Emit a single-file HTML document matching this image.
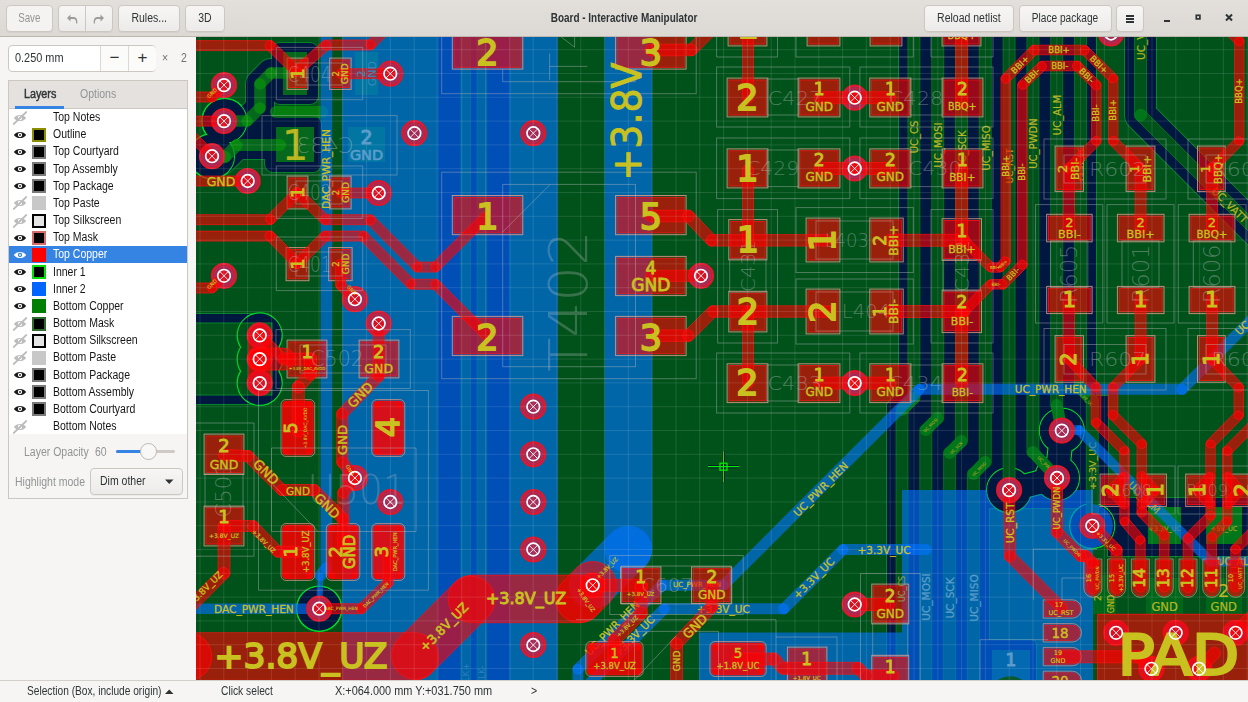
<!DOCTYPE html>
<html><head><meta charset="utf-8"><title>Board - Interactive Manipulator</title>
<style>
html,body{margin:0;padding:0;}
body{width:1248px;height:702px;overflow:hidden;position:relative;background:#f6f5f4;font-family:"Liberation Sans",sans-serif;font-size:12.5px;color:#2e3436;}
.t{display:inline-block;transform:scaleX(.84);transform-origin:0 50%;white-space:nowrap;}
.tc{display:inline-block;transform:scaleX(.84);transform-origin:50% 50%;white-space:nowrap;}
#hb{position:absolute;left:0;top:0;width:1248px;height:36px;background:linear-gradient(#e3e0dc,#dcd8d4);border-bottom:1px solid #bdb6af;}
.btn{position:absolute;top:5px;height:25px;box-sizing:content-box;border:1px solid #cdc7c2;border-radius:4px;background:linear-gradient(#f7f6f5,#edebe9);text-align:center;line-height:25px;color:#2e3436;box-shadow:0 1px 0 rgba(0,0,0,.04);}
.btn.dis{color:#929595;background:#f4f3f1;}
#title{position:absolute;left:0;width:1248px;top:0;height:36px;line-height:36px;text-align:center;font-weight:bold;color:#2e3436;}
#side{position:absolute;left:0;top:37px;width:196px;height:643px;background:#f6f5f4;}
#spin{position:absolute;left:8px;top:8px;width:146px;height:25px;border:1px solid #cdc7c2;border-radius:4px;background:#fff;}
#spin .v{position:absolute;left:6px;top:0;line-height:25px;}
#spin .b{position:absolute;top:0;width:27px;height:25px;border-left:1px solid #dcd8d4;text-align:center;line-height:24px;font-size:17px;color:#2e3436;background:#fbfbfa;}
#lbox{position:absolute;left:8px;top:43px;width:178px;height:417px;border:1px solid #cdc7c2;background:#f6f5f4;}
#tabs{position:absolute;left:0;top:0;width:178px;height:27px;background:#e4e1de;border-bottom:1px solid #cdc7c2;}
#list{position:absolute;left:0;top:28px;width:178px;height:325px;background:#fff;}
.row{position:absolute;left:0;width:178px;height:17px;line-height:17px;color:#151515;}
.row.sel{background:#3584e4;color:#fff;}
.row .n{position:absolute;left:44px;top:0;}
.row .sw{position:absolute;left:23px;top:1.5px;width:10px;height:10px;border:2px solid #000;}
.row svg{position:absolute;left:2.5px;top:0.5px;}
#status{position:absolute;left:0;top:680px;width:1248px;height:21px;background:#f6f5f4;line-height:21px;border-top:1px solid #d3cfca;}
#status span{position:absolute;top:0;}

#cv{position:absolute;left:196px;top:37px;}
#cv text{font-family:"DejaVu Sans","Liberation Sans",sans-serif;}
</style></head>
<body>
<svg id="cv" width="1052" height="643" viewBox="196 37 1052 643">
<rect x="196" y="37" width="1052" height="643" fill="#00521b"/>
<g id="bottom"><polyline points="247,121 260,108 260,84 271,73 296,73" fill="none" stroke="#08822a" stroke-width="30" stroke-linecap="round" stroke-linejoin="round"/><rect x="271" y="42" width="48" height="63" fill="#08822a" rx="9"/><polyline points="222,160 237,145 276,145" fill="none" stroke="#08822a" stroke-width="30" stroke-linecap="round" stroke-linejoin="round"/><rect x="264" y="115" width="58" height="58" fill="#08822a" rx="9"/><rect x="245" y="109" width="28" height="42" fill="#08822a" rx="1"/><circle cx="224.5" cy="121" r="23.3" fill="#00d428"/><circle cx="212" cy="156.2" r="23.3" fill="#00d428"/><rect x="149" y="313" width="120" height="92" fill="#08822a" rx="1"/><circle cx="319.2" cy="608.7" r="23.3" fill="#00d428"/><rect x="436.4" y="19" width="74.6" height="682" fill="#08822a" rx="1"/><polygon points="899,20 1096,20 1096,396 1108,396 1108,498 1260,498 1260,556 1108,556 1108,508 989,508 989,700 887,700 887,404 899,392" fill="#08822a" stroke="#08822a" stroke-width="2"/><circle cx="1009.1" cy="490.1" r="23.3" fill="#00d428"/><circle cx="1057" cy="478" r="23.3" fill="#00d428"/><circle cx="1061.8" cy="430.6" r="23.3" fill="#00d428"/><circle cx="1092.3" cy="525.8" r="23.3" fill="#00d428"/><circle cx="1010" cy="698.5" r="23.3" fill="#00d428"/><rect x="977" y="639" width="60" height="62" fill="#08822a" rx="6"/><polyline points="1140.5,10 1140.5,115 1280,254.5" fill="none" stroke="#08822a" stroke-width="33" stroke-linecap="round" stroke-linejoin="round"/><polyline points="247,121 260,108 260,84 271,73 296,73" fill="none" stroke="#00173f" stroke-width="28" stroke-linecap="round" stroke-linejoin="round"/><rect x="272" y="43" width="46" height="61" fill="#00173f" rx="8"/><polyline points="222,160 237,145 276,145" fill="none" stroke="#00173f" stroke-width="28" stroke-linecap="round" stroke-linejoin="round"/><rect x="265" y="116" width="56" height="56" fill="#00173f" rx="8"/><rect x="246" y="110" width="26" height="40" fill="#00173f" rx="0"/><circle cx="224.5" cy="121" r="21.8" fill="#00173f"/><circle cx="212" cy="156.2" r="21.8" fill="#00173f"/><rect x="150" y="314" width="118" height="90" fill="#00173f" rx="0"/><circle cx="319.2" cy="608.7" r="21.8" fill="#00173f"/><rect x="437.4" y="20" width="72.6" height="680" fill="#00173f" rx="0"/><polygon points="899,20 1096,20 1096,396 1108,396 1108,498 1260,498 1260,556 1108,556 1108,508 989,508 989,700 887,700 887,404 899,392" fill="#00173f"/><circle cx="1009.1" cy="490.1" r="21.8" fill="#00173f"/><circle cx="1057" cy="478" r="21.8" fill="#00173f"/><circle cx="1061.8" cy="430.6" r="21.8" fill="#00173f"/><circle cx="1092.3" cy="525.8" r="21.8" fill="#00173f"/><circle cx="1010" cy="698.5" r="21.8" fill="#00173f"/><rect x="978" y="640" width="58" height="60" fill="#00173f" rx="5"/><polyline points="1140.5,10 1140.5,115 1280,254.5" fill="none" stroke="#00173f" stroke-width="31" stroke-linecap="round" stroke-linejoin="round"/><circle cx="224.5" cy="121" r="22.5" fill="none" stroke="#00d428" stroke-width="1.15"/><circle cx="212" cy="156.2" r="22.5" fill="none" stroke="#00d428" stroke-width="1.15"/><circle cx="319.2" cy="608.7" r="22.5" fill="none" stroke="#00d428" stroke-width="1.15"/><circle cx="1009.1" cy="490.1" r="22.5" fill="none" stroke="#00d428" stroke-width="1.15"/><circle cx="1057" cy="478" r="22.5" fill="none" stroke="#00d428" stroke-width="1.15"/><circle cx="1061.8" cy="430.6" r="22.5" fill="none" stroke="#00d428" stroke-width="1.15"/><circle cx="1092.3" cy="525.8" r="22.5" fill="none" stroke="#00d428" stroke-width="1.15"/><circle cx="1010" cy="698.5" r="22.5" fill="none" stroke="#00d428" stroke-width="1.15"/><polyline points="1009.1,490.1 1057,478" fill="none" stroke="#00d428" stroke-width="25.2" stroke-linecap="round" stroke-linejoin="round"/><polyline points="1057,478 1061.8,430.6" fill="none" stroke="#00d428" stroke-width="25.2" stroke-linecap="round" stroke-linejoin="round"/><circle cx="224.5" cy="121" r="21.8" fill="#00173f"/><circle cx="212" cy="156.2" r="21.8" fill="#00173f"/><circle cx="319.2" cy="608.7" r="21.8" fill="#00173f"/><circle cx="1009.1" cy="490.1" r="21.8" fill="#00173f"/><circle cx="1057" cy="478" r="21.8" fill="#00173f"/><circle cx="1061.8" cy="430.6" r="21.8" fill="#00173f"/><circle cx="1092.3" cy="525.8" r="21.8" fill="#00173f"/><circle cx="1010" cy="698.5" r="21.8" fill="#00173f"/><polyline points="1009.1,490.1 1057,478" fill="none" stroke="#00173f" stroke-width="23" stroke-linecap="round" stroke-linejoin="round"/><polyline points="1057,478 1061.8,430.6" fill="none" stroke="#00173f" stroke-width="23" stroke-linecap="round" stroke-linejoin="round"/><path d="M240.57 347.25A22.5 22.5 0 1 1 278.83 347.25A22.5 22.5 0 0 1 278.83 371.1A22.5 22.5 0 1 1 240.57 371.1A22.5 22.5 0 0 1 240.57 347.25Z" fill="#00173f"/><rect x="150" y="323" width="122" height="72" fill="#00521b" stroke="#08822a" stroke-width="1"/><path d="M240.57 347.25A22.5 22.5 0 1 1 278.83 347.25A22.5 22.5 0 0 1 278.83 371.1A22.5 22.5 0 1 1 240.57 371.1A22.5 22.5 0 0 1 240.57 347.25Z" fill="none" stroke="#00d428" stroke-width="1.15"/><path d="M236 126.8L247 126.8A5.8 5.8 0 0 0 247 115.2L236 115.2A5.8 5.8 0 0 0 236 126.8Z" fill="rgba(10,150,10,0.645)"/><path d="M251.1 125.1L264.1 112.1A5.8 5.8 0 0 0 255.9 103.9L242.9 116.9A5.8 5.8 0 0 0 251.1 125.1Z" fill="rgba(10,150,10,0.645)"/><path d="M265.8 108L265.8 84A5.8 5.8 0 0 0 254.2 84L254.2 108A5.8 5.8 0 0 0 265.8 108Z" fill="rgba(10,150,10,0.645)"/><path d="M264.1 88.1L275.1 77.1A5.8 5.8 0 0 0 266.9 68.9L255.9 79.9A5.8 5.8 0 0 0 264.1 88.1Z" fill="rgba(10,150,10,0.645)"/><path d="M271 78.8L296 78.8A5.8 5.8 0 0 0 296 67.2L271 67.2A5.8 5.8 0 0 0 271 78.8Z" fill="rgba(10,150,10,0.645)"/><path d="M276 118L322 118A6 6 0 0 0 322 106L276 106A6 6 0 0 0 276 118Z" fill="rgba(10,150,10,0.645)"/><path d="M216.7 164L225.7 163A6 6 0 0 0 224.3 151L215.3 152A6 6 0 0 0 216.7 164Z" fill="rgba(10,150,10,0.645)"/><path d="M229.2 161.2L241.2 149.2A6 6 0 0 0 232.8 140.8L220.8 152.8A6 6 0 0 0 229.2 161.2Z" fill="rgba(10,150,10,0.645)"/><path d="M237 151L280 151A6 6 0 0 0 280 139L237 139A6 6 0 0 0 237 151Z" fill="rgba(10,150,10,0.645)"/><rect x="283" y="52" width="24" height="43" fill="rgba(10,150,10,0.645)"/><rect x="276" y="127" width="38" height="35" fill="rgba(10,150,10,0.645)"/><rect x="355" y="52" width="23" height="43" fill="rgba(10,150,10,0.645)"/><rect x="348" y="127" width="37" height="35" fill="rgba(10,150,10,0.645)"/><path d="M460.9 10L460.9 710A4.8 4.8 0 0 0 470.4 710L470.4 10A4.8 4.8 0 0 0 460.9 10Z" fill="#00521b"/><path d="M460.9 10L460.9 710A4.8 4.8 0 0 0 470.4 710L470.4 10A4.8 4.8 0 0 0 460.9 10Z" fill="none" stroke="rgba(0,150,25,0.75)" stroke-width="0.8"/><path d="M477.1 10L477.1 710A4.8 4.8 0 0 0 486.6 710L486.6 10A4.8 4.8 0 0 0 477.1 10Z" fill="#00521b"/><path d="M477.1 10L477.1 710A4.8 4.8 0 0 0 486.6 710L486.6 10A4.8 4.8 0 0 0 477.1 10Z" fill="none" stroke="rgba(0,150,25,0.75)" stroke-width="0.8"/><path d="M907.9 20L907.9 398A6 6 0 0 0 919.9 398L919.9 20A6 6 0 0 0 907.9 20Z" fill="#00521b"/><path d="M907.9 20L907.9 398A6 6 0 0 0 919.9 398L919.9 20A6 6 0 0 0 907.9 20Z" fill="none" stroke="rgba(0,150,25,0.75)" stroke-width="0.8"/><path d="M896 410L896 700A6 6 0 0 0 908 700L908 410A6 6 0 0 0 896 410Z" fill="#00521b"/><path d="M896 410L896 700A6 6 0 0 0 908 700L908 410A6 6 0 0 0 896 410Z" fill="none" stroke="rgba(0,150,25,0.75)" stroke-width="0.8"/><polyline points="913.9,398 902,410" fill="none" stroke="#00761a" stroke-width="12" stroke-linecap="round" stroke-linejoin="round"/><path d="M931.7 20L931.7 418A6 6 0 0 0 943.7 418L943.7 20A6 6 0 0 0 931.7 20Z" fill="#00521b"/><path d="M931.7 20L931.7 418A6 6 0 0 0 943.7 418L943.7 20A6 6 0 0 0 931.7 20Z" fill="none" stroke="rgba(0,150,25,0.75)" stroke-width="0.8"/><path d="M919.8 430L919.8 700A6 6 0 0 0 931.8 700L931.8 430A6 6 0 0 0 919.8 430Z" fill="#00521b"/><path d="M919.8 430L919.8 700A6 6 0 0 0 931.8 700L931.8 430A6 6 0 0 0 919.8 430Z" fill="none" stroke="rgba(0,150,25,0.75)" stroke-width="0.8"/><polyline points="937.7,418 925.8,430" fill="none" stroke="#00761a" stroke-width="12" stroke-linecap="round" stroke-linejoin="round"/><path d="M955.5 20L955.5 441A6 6 0 0 0 967.5 441L967.5 20A6 6 0 0 0 955.5 20Z" fill="#00521b"/><path d="M955.5 20L955.5 441A6 6 0 0 0 967.5 441L967.5 20A6 6 0 0 0 955.5 20Z" fill="none" stroke="rgba(0,150,25,0.75)" stroke-width="0.8"/><path d="M943.6 453L943.6 700A6 6 0 0 0 955.6 700L955.6 453A6 6 0 0 0 943.6 453Z" fill="#00521b"/><path d="M943.6 453L943.6 700A6 6 0 0 0 955.6 700L955.6 453A6 6 0 0 0 943.6 453Z" fill="none" stroke="rgba(0,150,25,0.75)" stroke-width="0.8"/><polyline points="961.5,441 949.6,453" fill="none" stroke="#00761a" stroke-width="12" stroke-linecap="round" stroke-linejoin="round"/><path d="M979.3 20L979.3 462A6 6 0 0 0 991.3 462L991.3 20A6 6 0 0 0 979.3 20Z" fill="#00521b"/><path d="M979.3 20L979.3 462A6 6 0 0 0 991.3 462L991.3 20A6 6 0 0 0 979.3 20Z" fill="none" stroke="rgba(0,150,25,0.75)" stroke-width="0.8"/><path d="M967.4 474L967.4 700A6 6 0 0 0 979.4 700L979.4 474A6 6 0 0 0 967.4 474Z" fill="#00521b"/><path d="M967.4 474L967.4 700A6 6 0 0 0 979.4 700L979.4 474A6 6 0 0 0 967.4 474Z" fill="none" stroke="rgba(0,150,25,0.75)" stroke-width="0.8"/><polyline points="985.3,462 973.4,474" fill="none" stroke="#00761a" stroke-width="12" stroke-linecap="round" stroke-linejoin="round"/><path d="M1003.1 20L1003.1 490A6 6 0 0 0 1015.1 490L1015.1 20A6 6 0 0 0 1003.1 20Z" fill="#00521b"/><path d="M1003.1 20L1003.1 490A6 6 0 0 0 1015.1 490L1015.1 20A6 6 0 0 0 1003.1 20Z" fill="none" stroke="rgba(0,150,25,0.75)" stroke-width="0.8"/><path d="M1026.9 20L1026.9 452A6 6 0 0 0 1038.9 452L1038.9 20A6 6 0 0 0 1026.9 20Z" fill="#00521b"/><path d="M1026.9 20L1026.9 452A6 6 0 0 0 1038.9 452L1038.9 20A6 6 0 0 0 1026.9 20Z" fill="none" stroke="rgba(0,150,25,0.75)" stroke-width="0.8"/><polyline points="1032.9,452 1057,478" fill="none" stroke="#00761a" stroke-width="12" stroke-linecap="round" stroke-linejoin="round"/><path d="M1050.7 20L1050.7 405A6 6 0 0 0 1062.7 405L1062.7 20A6 6 0 0 0 1050.7 20Z" fill="#00521b"/><path d="M1050.7 20L1050.7 405A6 6 0 0 0 1062.7 405L1062.7 20A6 6 0 0 0 1050.7 20Z" fill="none" stroke="rgba(0,150,25,0.75)" stroke-width="0.8"/><polyline points="1056.7,405 1061.8,430.6" fill="none" stroke="#00761a" stroke-width="12" stroke-linecap="round" stroke-linejoin="round"/><path d="M1074.5 20L1074.5 388A6 6 0 0 0 1086.5 388L1086.5 20A6 6 0 0 0 1074.5 20Z" fill="#00521b"/><path d="M1074.5 20L1074.5 388A6 6 0 0 0 1086.5 388L1086.5 20A6 6 0 0 0 1074.5 20Z" fill="none" stroke="rgba(0,150,25,0.75)" stroke-width="0.8"/><polyline points="1080.5,388 1092.3,401" fill="none" stroke="#00761a" stroke-width="12" stroke-linecap="round" stroke-linejoin="round"/><path d="M1086.3 401L1086.3 525.8A6 6 0 0 0 1098.3 525.8L1098.3 401A6 6 0 0 0 1086.3 401Z" fill="#00521b"/><path d="M1086.3 401L1086.3 525.8A6 6 0 0 0 1098.3 525.8L1098.3 401A6 6 0 0 0 1086.3 401Z" fill="none" stroke="rgba(0,150,25,0.75)" stroke-width="0.8"/><rect x="1148" y="507" width="33" height="37" fill="#00761a"/><rect x="1206" y="507" width="36" height="37" fill="#00761a"/><rect x="1146" y="578" width="37" height="36" fill="#00671a"/><rect x="1206" y="578" width="36" height="36" fill="#00671a"/><rect x="1093" y="575" width="23" height="39" fill="#00671a"/><rect x="992" y="650" width="38" height="30" fill="#0a5a30"/><path d="M1134.5 10L1134.5 115A6 6 0 0 0 1146.5 115L1146.5 10A6 6 0 0 0 1134.5 10Z" fill="#00521b"/><path d="M1136.3 119.2L1275.8 258.7A6 6 0 0 0 1284.2 250.3L1144.7 110.8A6 6 0 0 0 1136.3 119.2Z" fill="#00521b"/><path d="M1134.5 10L1134.5 115A6 6 0 0 0 1146.5 115L1146.5 10A6 6 0 0 0 1134.5 10ZM1136.3 119.2L1275.8 258.7A6 6 0 0 0 1284.2 250.3L1144.7 110.8A6 6 0 0 0 1136.3 119.2Z" fill="none" stroke="rgba(0,150,25,0.75)" stroke-width="0.8"/><circle cx="1140.5" cy="115" r="6" fill="#00761a"/><text x="295" y="145" font-size="42" text-anchor="middle" dominant-baseline="central" fill="#b9b520" stroke="#b9b520" stroke-width="0.2">1</text><text x="1164.6" y="607.3" font-size="11.5" text-anchor="middle" dominant-baseline="central" fill="#b9b520" stroke="#b9b520" stroke-width="0.2">GND</text><text x="1223.7" y="607.3" font-size="11.5" text-anchor="middle" dominant-baseline="central" fill="#b9b520" stroke="#b9b520" stroke-width="0.2">GND</text><text x="1223.7" y="590.5" font-size="18" text-anchor="middle" dominant-baseline="central" fill="#b9b520" stroke="#b9b520" stroke-width="0.2">2</text><text x="1098" y="598" font-size="9" text-anchor="middle" dominant-baseline="central" fill="#b9b520" stroke="#b9b520" stroke-width="0.2" transform="rotate(-90 1098 598)">2</text><text x="1111" y="604" font-size="8" text-anchor="middle" dominant-baseline="central" fill="#b9b520" stroke="#b9b520" stroke-width="0.2" transform="rotate(-90 1111 604)">GND</text><text x="914" y="137" font-size="10" text-anchor="middle" dominant-baseline="central" fill="#b9b520" stroke="#b9b520" stroke-width="0.2" transform="rotate(-90 914 137)">UC_CS</text><text x="938" y="145" font-size="10" text-anchor="middle" dominant-baseline="central" fill="#b9b520" stroke="#b9b520" stroke-width="0.2" transform="rotate(-90 938 145)">UC_MOSI</text><text x="962" y="150" font-size="10" text-anchor="middle" dominant-baseline="central" fill="#b9b520" stroke="#b9b520" stroke-width="0.2" transform="rotate(-90 962 150)">UC_SCK</text><text x="986" y="148" font-size="10" text-anchor="middle" dominant-baseline="central" fill="#b9b520" stroke="#b9b520" stroke-width="0.2" transform="rotate(-90 986 148)">UC_MISO</text><text x="1033" y="143.5" font-size="10" text-anchor="middle" dominant-baseline="central" fill="#b9b520" stroke="#b9b520" stroke-width="0.2" transform="rotate(-90 1033 143.5)">UC_PWDN</text><text x="1057" y="115" font-size="10" text-anchor="middle" dominant-baseline="central" fill="#b9b520" stroke="#b9b520" stroke-width="0.2" transform="rotate(-90 1057 115)">UC_ALM</text><text x="1009.5" y="166" font-size="9" text-anchor="middle" dominant-baseline="central" fill="#b8a020" stroke="#b8a020" stroke-width="0.2" transform="rotate(-90 1009.5 166)">UC_RST</text><text x="1080.5" y="165" font-size="7" text-anchor="middle" dominant-baseline="central" fill="#b8a020" stroke="#b8a020" stroke-width="0.2" transform="rotate(-90 1080.5 165)">+3.3V_UC</text><text x="1140.5" y="60" font-size="10.5" text-anchor="start" dominant-baseline="central" fill="#b9b520" stroke="#b9b520" stroke-width="0.2" transform="rotate(-90 1140.5 60)">UC_VATT</text><text x="1230" y="205" font-size="10.5" text-anchor="middle" dominant-baseline="central" fill="#b9b520" stroke="#b9b520" stroke-width="0.2" transform="rotate(45 1230 205)">UC_VATT</text><text x="1092.3" y="466" font-size="9.5" text-anchor="middle" dominant-baseline="central" fill="#b9b520" stroke="#b9b520" stroke-width="0.2" transform="rotate(-90 1092.3 466)">+3.3V_UC</text><text x="930.4" y="425.2" font-size="4" text-anchor="middle" dominant-baseline="central" fill="#8a9a20" stroke="#8a9a20" stroke-width="0.2" transform="rotate(-45 930.4 425.2)">UC_MOSI</text><text x="956" y="448" font-size="4" text-anchor="middle" dominant-baseline="central" fill="#8a9a20" stroke="#8a9a20" stroke-width="0.2" transform="rotate(-45 956 448)">UC_SCK</text><text x="979" y="469" font-size="4" text-anchor="middle" dominant-baseline="central" fill="#8a9a20" stroke="#8a9a20" stroke-width="0.2" transform="rotate(-45 979 469)">UC_MISO</text><text x="1085" y="398" font-size="4" text-anchor="middle" dominant-baseline="central" fill="#8a9a20" stroke="#8a9a20" stroke-width="0.2" transform="rotate(45 1085 398)">+3.3V_UC</text><text x="1046" y="465" font-size="4.5" text-anchor="middle" dominant-baseline="central" fill="#8a9a20" stroke="#8a9a20" stroke-width="0.2" transform="rotate(45 1046 465)">UC_PWDN</text><text x="1164.6" y="529" font-size="6.5" text-anchor="middle" dominant-baseline="central" fill="#a8a020" stroke="#a8a020" stroke-width="0.2">+3.3V_UC</text><text x="1224" y="529" font-size="6.5" text-anchor="middle" dominant-baseline="central" fill="#a8a020" stroke="#a8a020" stroke-width="0.2">+5V_UC</text></g>
<g id="inner2"><path d="M320.6 20L320.6 568A5.8 5.8 0 0 0 332.2 568L332.2 20A5.8 5.8 0 0 0 320.6 20Z" fill="rgba(0,114,255,0.62)"/><path d="M321.8 564.4L315.9 571.9A5.8 5.8 0 0 0 325.1 579.1L331 571.6A5.8 5.8 0 0 0 321.8 564.4Z" fill="rgba(0,114,255,0.62)"/><path d="M317.5 575.4L316.2 608.6A3 3 0 0 0 322.2 608.8L323.5 575.6A3 3 0 0 0 317.5 575.4Z" fill="rgba(0,114,255,0.62)"/><path d="M180 613.9L319.2 613.9A5.2 5.2 0 0 0 319.2 603.5L180 603.5A5.2 5.2 0 0 0 180 613.9Z" fill="rgba(0,114,255,0.62)"/><rect x="342.2" y="37" width="215.6" height="643" fill="rgba(0,114,255,0.62)"/><path d="M604.5 10L604.5 549.5A23.8 23.8 0 0 0 652.1 549.5L652.1 10A23.8 23.8 0 0 0 604.5 10Z" fill="rgba(0,114,255,0.62)"/><path d="M611.4 532.7L575.8 568.5A23.8 23.8 0 0 0 609.6 602.1L645.2 566.3A23.8 23.8 0 0 0 611.4 532.7Z" fill="rgba(0,114,255,0.62)"/><path d="M1266.1 297.4L1178.1 385.4A5.5 5.5 0 0 0 1185.9 393.2L1273.9 305.2A5.5 5.5 0 0 0 1266.1 297.4Z" fill="rgba(0,114,255,0.62)"/><path d="M1182 383.8L919.4 383.8A5.5 5.5 0 0 0 919.4 394.8L1182 394.8A5.5 5.5 0 0 0 1182 383.8Z" fill="rgba(0,114,255,0.62)"/><path d="M915.5 385.4L719.6 581.3A5.5 5.5 0 0 0 727.4 589.1L923.3 393.2A5.5 5.5 0 0 0 915.5 385.4Z" fill="rgba(0,114,255,0.62)"/><path d="M723.5 579.7L662 579.7A5.5 5.5 0 0 0 662 590.7L723.5 590.7A5.5 5.5 0 0 0 723.5 579.7Z" fill="rgba(0,114,255,0.62)"/><path d="M658.1 581.3L574.1 665.3A5.5 5.5 0 0 0 581.9 673.1L665.9 589.1A5.5 5.5 0 0 0 658.1 581.3Z" fill="rgba(0,114,255,0.62)"/><path d="M572.5 669.2L572.5 700A5.5 5.5 0 0 0 583.5 700L583.5 669.2A5.5 5.5 0 0 0 572.5 669.2Z" fill="rgba(0,114,255,0.62)"/><path d="M926.2 544.1L843 544.1A5.5 5.5 0 0 0 843 555.1L926.2 555.1A5.5 5.5 0 0 0 926.2 544.1Z" fill="rgba(0,114,255,0.62)"/><path d="M839.1 545.7L779.9 604.9A5.5 5.5 0 0 0 787.7 612.7L846.9 553.5A5.5 5.5 0 0 0 839.1 545.7Z" fill="rgba(0,114,255,0.62)"/><path d="M783.8 603.3L664.2 603.3A5.5 5.5 0 0 0 664.2 614.3L783.8 614.3A5.5 5.5 0 0 0 783.8 603.3Z" fill="rgba(0,114,255,0.62)"/><path d="M660.3 604.9L581.1 684.1A5.5 5.5 0 0 0 588.9 691.9L668.1 612.7A5.5 5.5 0 0 0 660.3 604.9Z" fill="rgba(0,114,255,0.62)"/><mask id="bm" maskUnits="userSpaceOnUse" x="690" y="480" width="420" height="220"><rect x="690" y="480" width="420" height="220" fill="#fff"/><circle cx="1009.1" cy="490.1" r="22.2" fill="#000"/><circle cx="1057" cy="478" r="22.2" fill="#000"/><circle cx="1010" cy="698.5" r="22.2" fill="#000"/><path d="M1009.1 490.1L1057 478" stroke="#000" stroke-width="23" stroke-linecap="round"/></mask><polygon points="699,632.5 902,632.5 902,490 1093,490 1093,690 699,690" fill="rgba(0,114,255,0.62)" mask="url(#bm)"/><path d="M1093 503.9A22 22 0 0 1 1093 547.7Z" fill="rgba(0,114,255,0.62)"/><path d="M1062 435.6L1079.2 435A5 5 0 0 0 1078.8 425L1061.6 425.6A5 5 0 0 0 1062 435.6Z" fill="rgba(0,114,255,0.62)"/><path d="M1075.5 433.5L1206.9 564.9A5 5 0 0 0 1213.9 557.9L1082.5 426.5A5 5 0 0 0 1075.5 433.5Z" fill="rgba(0,114,255,0.62)"/><path d="M1210.4 566.4L1270 566.4A5 5 0 0 0 1270 556.4L1210.4 556.4A5 5 0 0 0 1210.4 566.4Z" fill="rgba(0,114,255,0.62)"/><text x="326.4" y="169" font-size="10.6" text-anchor="middle" dominant-baseline="central" fill="#c9c11f" stroke="#c9c11f" stroke-width="0.3" transform="rotate(-90 326.4 169)">DAC_PWR_HEN</text><text x="253.9" y="608.7" font-size="10.6" text-anchor="middle" dominant-baseline="central" fill="#c9c11f" stroke="#c9c11f" stroke-width="0.3">DAC_PWR_HEN</text><text x="1050.7" y="389.3" font-size="10.5" text-anchor="middle" dominant-baseline="central" fill="#c9c11f" stroke="#c9c11f" stroke-width="0.3">UC_PWR_HEN</text><text x="820.6" y="489" font-size="10.5" text-anchor="middle" dominant-baseline="central" fill="#c9c11f" stroke="#c9c11f" stroke-width="0.3" transform="rotate(-45 820.6 489)">UC_PWR_HEN</text><text x="1237" y="333" font-size="10.5" text-anchor="start" dominant-baseline="central" fill="#c9c11f" stroke="#c9c11f" stroke-width="0.3" transform="rotate(-45 1237 333)">UC_PWR_HEN</text><text x="884" y="549.6" font-size="10.5" text-anchor="middle" dominant-baseline="central" fill="#c9c11f" stroke="#c9c11f" stroke-width="0.3">+3.3V_UC</text><text x="813.6" y="578" font-size="10.5" text-anchor="middle" dominant-baseline="central" fill="#c9c11f" stroke="#c9c11f" stroke-width="0.3" transform="rotate(-45 813.6 578)">+3.3V_UC</text><text x="723.3" y="608.8" font-size="10.5" text-anchor="middle" dominant-baseline="central" fill="#c9c11f" stroke="#c9c11f" stroke-width="0.3">+3.3V_UC</text><text x="634" y="636" font-size="10.5" text-anchor="middle" dominant-baseline="central" fill="#c9c11f" stroke="#c9c11f" stroke-width="0.3" transform="rotate(-45 634 636)">+3.3V_UC</text><text x="612" y="628" font-size="10.5" text-anchor="middle" dominant-baseline="central" fill="#c9c11f" stroke="#c9c11f" stroke-width="0.3" transform="rotate(-45 612 628)">UC_PWR_HEN</text><text x="697" y="585.2" font-size="7" text-anchor="middle" dominant-baseline="central" fill="#c9c11f" stroke="#c9c11f" stroke-width="0.2">UC_PWR_HEN</text><text x="1144" y="497.6" font-size="10" text-anchor="middle" dominant-baseline="central" fill="#9aa83a" stroke="#9aa83a" stroke-width="0.3" transform="rotate(45 1144 497.6)">UC_ALM</text><text x="1217" y="561.4" font-size="10" text-anchor="start" dominant-baseline="central" fill="#b0b030" stroke="#b0b030" stroke-width="0.3">UC_ALM</text></g>
<g id="top"><circle cx="390.3" cy="73.7" r="12" fill="#a32a55" stroke="#e0182c" stroke-width="2.2"/><circle cx="390.3" cy="73.7" r="9.6" fill="none" stroke="rgba(235,30,50,0.55)" stroke-width="1"/><circle cx="414.4" cy="133.2" r="12" fill="#a32a55" stroke="#e0182c" stroke-width="2.2"/><circle cx="414.4" cy="133.2" r="9.6" fill="none" stroke="rgba(235,30,50,0.55)" stroke-width="1"/><circle cx="224" cy="85.1" r="12" fill="#a32a55" stroke="#e0182c" stroke-width="2.2"/><circle cx="224" cy="85.1" r="9.6" fill="none" stroke="rgba(235,30,50,0.55)" stroke-width="1"/><circle cx="224" cy="121.1" r="12" fill="#a32a55" stroke="#e0182c" stroke-width="2.2"/><circle cx="224" cy="121.1" r="9.6" fill="none" stroke="rgba(235,30,50,0.55)" stroke-width="1"/><circle cx="212" cy="156.2" r="12" fill="#a32a55" stroke="#e0182c" stroke-width="2.2"/><circle cx="212" cy="156.2" r="9.6" fill="none" stroke="rgba(235,30,50,0.55)" stroke-width="1"/><circle cx="247.7" cy="181" r="12" fill="#a32a55" stroke="#e0182c" stroke-width="2.2"/><circle cx="247.7" cy="181" r="9.6" fill="none" stroke="rgba(235,30,50,0.55)" stroke-width="1"/><circle cx="378.7" cy="193" r="12" fill="#a32a55" stroke="#e0182c" stroke-width="2.2"/><circle cx="378.7" cy="193" r="9.6" fill="none" stroke="rgba(235,30,50,0.55)" stroke-width="1"/><circle cx="224" cy="275.8" r="12" fill="#a32a55" stroke="#e0182c" stroke-width="2.2"/><circle cx="224" cy="275.8" r="9.6" fill="none" stroke="rgba(235,30,50,0.55)" stroke-width="1"/><circle cx="354.9" cy="299.2" r="12" fill="#a32a55" stroke="#e0182c" stroke-width="2.2"/><circle cx="354.9" cy="299.2" r="9.6" fill="none" stroke="rgba(235,30,50,0.55)" stroke-width="1"/><circle cx="378.7" cy="323.5" r="12" fill="#a32a55" stroke="#e0182c" stroke-width="2.2"/><circle cx="378.7" cy="323.5" r="9.6" fill="none" stroke="rgba(235,30,50,0.55)" stroke-width="1"/><circle cx="259.7" cy="335.4" r="12" fill="#a32a55" stroke="#e0182c" stroke-width="2.2"/><circle cx="259.7" cy="335.4" r="9.6" fill="none" stroke="rgba(235,30,50,0.55)" stroke-width="1"/><circle cx="259.7" cy="359.1" r="12" fill="#a32a55" stroke="#e0182c" stroke-width="2.2"/><circle cx="259.7" cy="359.1" r="9.6" fill="none" stroke="rgba(235,30,50,0.55)" stroke-width="1"/><circle cx="259.7" cy="383.1" r="12" fill="#a32a55" stroke="#e0182c" stroke-width="2.2"/><circle cx="259.7" cy="383.1" r="9.6" fill="none" stroke="rgba(235,30,50,0.55)" stroke-width="1"/><circle cx="354.9" cy="478" r="12" fill="#a32a55" stroke="#e0182c" stroke-width="2.2"/><circle cx="354.9" cy="478" r="9.6" fill="none" stroke="rgba(235,30,50,0.55)" stroke-width="1"/><circle cx="390.3" cy="502" r="12" fill="#a32a55" stroke="#e0182c" stroke-width="2.2"/><circle cx="390.3" cy="502" r="9.6" fill="none" stroke="rgba(235,30,50,0.55)" stroke-width="1"/><circle cx="319.2" cy="608.7" r="12" fill="#a32a55" stroke="#e0182c" stroke-width="2.2"/><circle cx="319.2" cy="608.7" r="9.6" fill="none" stroke="rgba(235,30,50,0.55)" stroke-width="1"/><circle cx="533.3" cy="133.2" r="12" fill="#a32a55" stroke="#e0182c" stroke-width="2.2"/><circle cx="533.3" cy="133.2" r="9.6" fill="none" stroke="rgba(235,30,50,0.55)" stroke-width="1"/><circle cx="533.3" cy="406.7" r="12" fill="#a32a55" stroke="#e0182c" stroke-width="2.2"/><circle cx="533.3" cy="406.7" r="9.6" fill="none" stroke="rgba(235,30,50,0.55)" stroke-width="1"/><circle cx="533.3" cy="454.3" r="12" fill="#a32a55" stroke="#e0182c" stroke-width="2.2"/><circle cx="533.3" cy="454.3" r="9.6" fill="none" stroke="rgba(235,30,50,0.55)" stroke-width="1"/><circle cx="533.3" cy="502" r="12" fill="#a32a55" stroke="#e0182c" stroke-width="2.2"/><circle cx="533.3" cy="502" r="9.6" fill="none" stroke="rgba(235,30,50,0.55)" stroke-width="1"/><circle cx="533.3" cy="549.5" r="12" fill="#a32a55" stroke="#e0182c" stroke-width="2.2"/><circle cx="533.3" cy="549.5" r="9.6" fill="none" stroke="rgba(235,30,50,0.55)" stroke-width="1"/><circle cx="533.3" cy="645" r="12" fill="#a32a55" stroke="#e0182c" stroke-width="2.2"/><circle cx="533.3" cy="645" r="9.6" fill="none" stroke="rgba(235,30,50,0.55)" stroke-width="1"/><circle cx="592.7" cy="585.3" r="12" fill="#a32a55" stroke="#e0182c" stroke-width="2.2"/><circle cx="592.7" cy="585.3" r="9.6" fill="none" stroke="rgba(235,30,50,0.55)" stroke-width="1"/><circle cx="701" cy="275.8" r="12" fill="#a32a55" stroke="#e0182c" stroke-width="2.2"/><circle cx="701" cy="275.8" r="9.6" fill="none" stroke="rgba(235,30,50,0.55)" stroke-width="1"/><circle cx="854.7" cy="97.7" r="12" fill="#a32a55" stroke="#e0182c" stroke-width="2.2"/><circle cx="854.7" cy="97.7" r="9.6" fill="none" stroke="rgba(235,30,50,0.55)" stroke-width="1"/><circle cx="854.7" cy="168.5" r="12" fill="#a32a55" stroke="#e0182c" stroke-width="2.2"/><circle cx="854.7" cy="168.5" r="9.6" fill="none" stroke="rgba(235,30,50,0.55)" stroke-width="1"/><circle cx="854.7" cy="383.1" r="12" fill="#a32a55" stroke="#e0182c" stroke-width="2.2"/><circle cx="854.7" cy="383.1" r="9.6" fill="none" stroke="rgba(235,30,50,0.55)" stroke-width="1"/><circle cx="854.7" cy="604.5" r="12" fill="#a32a55" stroke="#e0182c" stroke-width="2.2"/><circle cx="854.7" cy="604.5" r="9.6" fill="none" stroke="rgba(235,30,50,0.55)" stroke-width="1"/><circle cx="1111" cy="33.5" r="12" fill="#a32a55" stroke="#e0182c" stroke-width="2.2"/><circle cx="1111" cy="33.5" r="9.6" fill="none" stroke="rgba(235,30,50,0.55)" stroke-width="1"/><circle cx="1061.8" cy="430.6" r="12" fill="#a32a55" stroke="#e0182c" stroke-width="2.2"/><circle cx="1061.8" cy="430.6" r="9.6" fill="none" stroke="rgba(235,30,50,0.55)" stroke-width="1"/><circle cx="1009.1" cy="490.1" r="12" fill="#a32a55" stroke="#e0182c" stroke-width="2.2"/><circle cx="1009.1" cy="490.1" r="9.6" fill="none" stroke="rgba(235,30,50,0.55)" stroke-width="1"/><circle cx="1057" cy="478" r="12" fill="#a32a55" stroke="#e0182c" stroke-width="2.2"/><circle cx="1057" cy="478" r="9.6" fill="none" stroke="rgba(235,30,50,0.55)" stroke-width="1"/><circle cx="1092.3" cy="525.8" r="12" fill="#a32a55" stroke="#e0182c" stroke-width="2.2"/><circle cx="1092.3" cy="525.8" r="9.6" fill="none" stroke="rgba(235,30,50,0.55)" stroke-width="1"/><circle cx="1116.1" cy="632.8" r="12" fill="#a32a55" stroke="#e0182c" stroke-width="2.2"/><circle cx="1116.1" cy="632.8" r="9.6" fill="none" stroke="rgba(235,30,50,0.55)" stroke-width="1"/><circle cx="1175.7" cy="632.8" r="12" fill="#a32a55" stroke="#e0182c" stroke-width="2.2"/><circle cx="1175.7" cy="632.8" r="9.6" fill="none" stroke="rgba(235,30,50,0.55)" stroke-width="1"/><circle cx="1235.6" cy="632.8" r="12" fill="#a32a55" stroke="#e0182c" stroke-width="2.2"/><circle cx="1235.6" cy="632.8" r="9.6" fill="none" stroke="rgba(235,30,50,0.55)" stroke-width="1"/><circle cx="1151.4" cy="668.8" r="12" fill="#a32a55" stroke="#e0182c" stroke-width="2.2"/><circle cx="1151.4" cy="668.8" r="9.6" fill="none" stroke="rgba(235,30,50,0.55)" stroke-width="1"/><circle cx="1199" cy="668.8" r="12" fill="#a32a55" stroke="#e0182c" stroke-width="2.2"/><circle cx="1199" cy="668.8" r="9.6" fill="none" stroke="rgba(235,30,50,0.55)" stroke-width="1"/><rect x="454.1" y="31.7" width="66.9" height="35.6" fill="rgba(255,0,0,0.60)" stroke="rgba(255,16,16,0.85)" stroke-width="1"/><rect x="452.3" y="29.9" width="70.5" height="39.2" fill="none" stroke="rgba(225,150,135,0.85)" stroke-width="1"/><rect x="454.1" y="197.3" width="66.9" height="35.6" fill="rgba(255,0,0,0.60)" stroke="rgba(255,16,16,0.85)" stroke-width="1"/><rect x="452.3" y="195.5" width="70.5" height="39.2" fill="none" stroke="rgba(225,150,135,0.85)" stroke-width="1"/><rect x="454.1" y="318.2" width="66.9" height="35.6" fill="rgba(255,0,0,0.60)" stroke="rgba(255,16,16,0.85)" stroke-width="1"/><rect x="452.3" y="316.4" width="70.5" height="39.2" fill="none" stroke="rgba(225,150,135,0.85)" stroke-width="1"/><rect x="617.4" y="31.7" width="66.9" height="35.6" fill="rgba(255,0,0,0.60)" stroke="rgba(255,16,16,0.85)" stroke-width="1"/><rect x="615.6" y="29.9" width="70.5" height="39.2" fill="none" stroke="rgba(225,150,135,0.85)" stroke-width="1"/><rect x="617.4" y="197.3" width="66.9" height="35.6" fill="rgba(255,0,0,0.60)" stroke="rgba(255,16,16,0.85)" stroke-width="1"/><rect x="615.6" y="195.5" width="70.5" height="39.2" fill="none" stroke="rgba(225,150,135,0.85)" stroke-width="1"/><rect x="617.4" y="318.2" width="66.9" height="35.6" fill="rgba(255,0,0,0.60)" stroke="rgba(255,16,16,0.85)" stroke-width="1"/><rect x="615.6" y="316.4" width="70.5" height="39.2" fill="none" stroke="rgba(225,150,135,0.85)" stroke-width="1"/><rect x="617.4" y="258.2" width="66.9" height="35.6" fill="rgba(255,0,0,0.60)" stroke="rgba(255,16,16,0.85)" stroke-width="1"/><rect x="615.6" y="256.4" width="70.5" height="39.2" fill="none" stroke="rgba(225,150,135,0.85)" stroke-width="1"/><rect x="288.9" y="59.9" width="17.2" height="27.7" fill="rgba(255,0,0,0.60)" stroke="rgba(255,16,16,0.85)" stroke-width="1"/><rect x="287.1" y="58.1" width="20.8" height="31.3" fill="none" stroke="rgba(225,150,135,0.85)" stroke-width="1"/><rect x="331.5" y="59.9" width="17.8" height="27.7" fill="rgba(255,0,0,0.60)" stroke="rgba(255,16,16,0.85)" stroke-width="1"/><rect x="329.7" y="58.1" width="21.4" height="31.3" fill="none" stroke="rgba(225,150,135,0.85)" stroke-width="1"/><rect x="288.9" y="177.9" width="17.2" height="29.2" fill="rgba(255,0,0,0.60)" stroke="rgba(255,16,16,0.85)" stroke-width="1"/><rect x="287.1" y="176.1" width="20.8" height="32.8" fill="none" stroke="rgba(225,150,135,0.85)" stroke-width="1"/><rect x="331.5" y="177.9" width="17.8" height="29.2" fill="rgba(255,0,0,0.60)" stroke="rgba(255,16,16,0.85)" stroke-width="1"/><rect x="329.7" y="176.1" width="21.4" height="32.8" fill="none" stroke="rgba(225,150,135,0.85)" stroke-width="1"/><rect x="287.9" y="249.4" width="19.2" height="29.5" fill="rgba(255,0,0,0.60)" stroke="rgba(255,16,16,0.85)" stroke-width="1"/><rect x="286.1" y="247.6" width="22.8" height="33.1" fill="none" stroke="rgba(225,150,135,0.85)" stroke-width="1"/><rect x="330.5" y="249.4" width="19.8" height="29.5" fill="rgba(255,0,0,0.60)" stroke="rgba(255,16,16,0.85)" stroke-width="1"/><rect x="328.7" y="247.6" width="23.4" height="33.1" fill="none" stroke="rgba(225,150,135,0.85)" stroke-width="1"/><rect x="288.9" y="341.9" width="36.2" height="34.2" fill="rgba(255,0,0,0.60)" stroke="rgba(255,16,16,0.85)" stroke-width="1"/><rect x="287.1" y="340.1" width="39.8" height="37.8" fill="none" stroke="rgba(225,150,135,0.85)" stroke-width="1"/><rect x="360.9" y="341.9" width="36.2" height="34.2" fill="rgba(255,0,0,0.60)" stroke="rgba(255,16,16,0.85)" stroke-width="1"/><rect x="359.1" y="340.1" width="39.8" height="37.8" fill="none" stroke="rgba(225,150,135,0.85)" stroke-width="1"/><rect x="282.5" y="401" width="30.7" height="54" rx="4" fill="rgba(255,0,0,0.60)"/><rect x="282.5" y="401" width="30.7" height="54" rx="4" fill="rgba(255,0,0,0.60)"/><circle cx="286.5" cy="405" r="3.4" fill="rgba(255,0,0,0.60)"/><circle cx="286.5" cy="451" r="3.4" fill="rgba(255,0,0,0.60)"/><circle cx="309.2" cy="405" r="3.4" fill="rgba(255,0,0,0.60)"/><circle cx="309.2" cy="451" r="3.4" fill="rgba(255,0,0,0.60)"/><rect x="282.5" y="401" width="30.7" height="54" rx="4" fill="none" stroke="rgba(255,16,16,0.85)" stroke-width="0.8"/><rect x="281" y="399.5" width="33.7" height="57" rx="5" fill="none" stroke="rgba(225,150,135,0.85)" stroke-width="0.8"/><rect x="373.3" y="401" width="30" height="54" rx="4" fill="rgba(255,0,0,0.60)"/><rect x="373.3" y="401" width="30" height="54" rx="4" fill="rgba(255,0,0,0.60)"/><circle cx="377.3" cy="405" r="3.4" fill="rgba(255,0,0,0.60)"/><circle cx="377.3" cy="451" r="3.4" fill="rgba(255,0,0,0.60)"/><circle cx="399.3" cy="405" r="3.4" fill="rgba(255,0,0,0.60)"/><circle cx="399.3" cy="451" r="3.4" fill="rgba(255,0,0,0.60)"/><rect x="373.3" y="401" width="30" height="54" rx="4" fill="none" stroke="rgba(255,16,16,0.85)" stroke-width="0.8"/><rect x="371.8" y="399.5" width="33" height="57" rx="5" fill="none" stroke="rgba(225,150,135,0.85)" stroke-width="0.8"/><rect x="282.5" y="525" width="30.7" height="54" rx="4" fill="rgba(255,0,0,0.60)"/><rect x="282.5" y="525" width="30.7" height="54" rx="4" fill="rgba(255,0,0,0.60)"/><circle cx="286.5" cy="529" r="3.4" fill="rgba(255,0,0,0.60)"/><circle cx="286.5" cy="575" r="3.4" fill="rgba(255,0,0,0.60)"/><circle cx="309.2" cy="529" r="3.4" fill="rgba(255,0,0,0.60)"/><circle cx="309.2" cy="575" r="3.4" fill="rgba(255,0,0,0.60)"/><rect x="282.5" y="525" width="30.7" height="54" rx="4" fill="none" stroke="rgba(255,16,16,0.85)" stroke-width="0.8"/><rect x="281" y="523.5" width="33.7" height="57" rx="5" fill="none" stroke="rgba(225,150,135,0.85)" stroke-width="0.8"/><rect x="327.8" y="525" width="30.5" height="54" rx="4" fill="rgba(255,0,0,0.60)"/><rect x="327.8" y="525" width="30.5" height="54" rx="4" fill="rgba(255,0,0,0.60)"/><circle cx="331.8" cy="529" r="3.4" fill="rgba(255,0,0,0.60)"/><circle cx="331.8" cy="575" r="3.4" fill="rgba(255,0,0,0.60)"/><circle cx="354.3" cy="529" r="3.4" fill="rgba(255,0,0,0.60)"/><circle cx="354.3" cy="575" r="3.4" fill="rgba(255,0,0,0.60)"/><rect x="327.8" y="525" width="30.5" height="54" rx="4" fill="none" stroke="rgba(255,16,16,0.85)" stroke-width="0.8"/><rect x="326.3" y="523.5" width="33.5" height="57" rx="5" fill="none" stroke="rgba(225,150,135,0.85)" stroke-width="0.8"/><rect x="373.3" y="525" width="30" height="54" rx="4" fill="rgba(255,0,0,0.60)"/><rect x="373.3" y="525" width="30" height="54" rx="4" fill="rgba(255,0,0,0.60)"/><circle cx="377.3" cy="529" r="3.4" fill="rgba(255,0,0,0.60)"/><circle cx="377.3" cy="575" r="3.4" fill="rgba(255,0,0,0.60)"/><circle cx="399.3" cy="529" r="3.4" fill="rgba(255,0,0,0.60)"/><circle cx="399.3" cy="575" r="3.4" fill="rgba(255,0,0,0.60)"/><rect x="373.3" y="525" width="30" height="54" rx="4" fill="none" stroke="rgba(255,16,16,0.85)" stroke-width="0.8"/><rect x="371.8" y="523.5" width="33" height="57" rx="5" fill="none" stroke="rgba(225,150,135,0.85)" stroke-width="0.8"/><rect x="205.9" y="435.9" width="36.2" height="36.8" fill="rgba(255,0,0,0.60)" stroke="rgba(255,16,16,0.85)" stroke-width="1"/><rect x="204.1" y="434.1" width="39.8" height="40.4" fill="none" stroke="rgba(225,150,135,0.85)" stroke-width="1"/><rect x="205.9" y="507.9" width="36.2" height="36.2" fill="rgba(255,0,0,0.60)" stroke="rgba(255,16,16,0.85)" stroke-width="1"/><rect x="204.1" y="506.1" width="39.8" height="39.8" fill="none" stroke="rgba(225,150,135,0.85)" stroke-width="1"/><rect x="729.9" y="20.9" width="35.2" height="23.2" fill="rgba(255,0,0,0.60)" stroke="rgba(255,16,16,0.85)" stroke-width="1"/><rect x="728.1" y="19.1" width="38.8" height="26.8" fill="none" stroke="rgba(225,150,135,0.85)" stroke-width="1"/><rect x="808.9" y="20.9" width="29.2" height="23.2" fill="rgba(255,0,0,0.60)" stroke="rgba(255,16,16,0.85)" stroke-width="1"/><rect x="807.1" y="19.1" width="32.8" height="26.8" fill="none" stroke="rgba(225,150,135,0.85)" stroke-width="1"/><rect x="871.9" y="20.9" width="28.2" height="23.2" fill="rgba(255,0,0,0.60)" stroke="rgba(255,16,16,0.85)" stroke-width="1"/><rect x="870.1" y="19.1" width="31.8" height="26.8" fill="none" stroke="rgba(225,150,135,0.85)" stroke-width="1"/><rect x="943.9" y="20.9" width="35.2" height="23.2" fill="rgba(255,0,0,0.60)" stroke="rgba(255,16,16,0.85)" stroke-width="1"/><rect x="942.1" y="19.1" width="38.8" height="26.8" fill="none" stroke="rgba(225,150,135,0.85)" stroke-width="1"/><rect x="728.9" y="79.9" width="37.2" height="35.2" fill="rgba(255,0,0,0.60)" stroke="rgba(255,16,16,0.85)" stroke-width="1"/><rect x="727.1" y="78.1" width="40.8" height="38.8" fill="none" stroke="rgba(225,150,135,0.85)" stroke-width="1"/><rect x="799.9" y="79.9" width="38.2" height="35.2" fill="rgba(255,0,0,0.60)" stroke="rgba(255,16,16,0.85)" stroke-width="1"/><rect x="798.1" y="78.1" width="41.8" height="38.8" fill="none" stroke="rgba(225,150,135,0.85)" stroke-width="1"/><rect x="871.6" y="79.9" width="37.5" height="35.2" fill="rgba(255,0,0,0.60)" stroke="rgba(255,16,16,0.85)" stroke-width="1"/><rect x="869.8" y="78.1" width="41.1" height="38.8" fill="none" stroke="rgba(225,150,135,0.85)" stroke-width="1"/><rect x="943.9" y="79.9" width="37.2" height="35.2" fill="rgba(255,0,0,0.60)" stroke="rgba(255,16,16,0.85)" stroke-width="1"/><rect x="942.1" y="78.1" width="40.8" height="38.8" fill="none" stroke="rgba(225,150,135,0.85)" stroke-width="1"/><rect x="728.9" y="150.7" width="37.2" height="35.4" fill="rgba(255,0,0,0.60)" stroke="rgba(255,16,16,0.85)" stroke-width="1"/><rect x="727.1" y="148.9" width="40.8" height="39" fill="none" stroke="rgba(225,150,135,0.85)" stroke-width="1"/><rect x="799.9" y="150.7" width="38.2" height="35.4" fill="rgba(255,0,0,0.60)" stroke="rgba(255,16,16,0.85)" stroke-width="1"/><rect x="798.1" y="148.9" width="41.8" height="39" fill="none" stroke="rgba(225,150,135,0.85)" stroke-width="1"/><rect x="871.6" y="150.7" width="37.5" height="35.4" fill="rgba(255,0,0,0.60)" stroke="rgba(255,16,16,0.85)" stroke-width="1"/><rect x="869.8" y="148.9" width="41.1" height="39" fill="none" stroke="rgba(225,150,135,0.85)" stroke-width="1"/><rect x="943.9" y="150.7" width="37.2" height="35.4" fill="rgba(255,0,0,0.60)" stroke="rgba(255,16,16,0.85)" stroke-width="1"/><rect x="942.1" y="148.9" width="40.8" height="39" fill="none" stroke="rgba(225,150,135,0.85)" stroke-width="1"/><rect x="728.9" y="365.6" width="37.2" height="35.2" fill="rgba(255,0,0,0.60)" stroke="rgba(255,16,16,0.85)" stroke-width="1"/><rect x="727.1" y="363.8" width="40.8" height="38.8" fill="none" stroke="rgba(225,150,135,0.85)" stroke-width="1"/><rect x="799.9" y="365.6" width="38.2" height="35.2" fill="rgba(255,0,0,0.60)" stroke="rgba(255,16,16,0.85)" stroke-width="1"/><rect x="798.1" y="363.8" width="41.8" height="38.8" fill="none" stroke="rgba(225,150,135,0.85)" stroke-width="1"/><rect x="871.6" y="365.6" width="37.5" height="35.2" fill="rgba(255,0,0,0.60)" stroke="rgba(255,16,16,0.85)" stroke-width="1"/><rect x="869.8" y="363.8" width="41.1" height="38.8" fill="none" stroke="rgba(225,150,135,0.85)" stroke-width="1"/><rect x="943.9" y="365.6" width="37.2" height="35.2" fill="rgba(255,0,0,0.60)" stroke="rgba(255,16,16,0.85)" stroke-width="1"/><rect x="942.1" y="363.8" width="40.8" height="38.8" fill="none" stroke="rgba(225,150,135,0.85)" stroke-width="1"/><rect x="730.6" y="221.4" width="34.5" height="36.7" fill="rgba(255,0,0,0.60)" stroke="rgba(255,16,16,0.85)" stroke-width="1"/><rect x="728.8" y="219.6" width="38.1" height="40.3" fill="none" stroke="rgba(225,150,135,0.85)" stroke-width="1"/><rect x="730.6" y="293.1" width="34.5" height="37" fill="rgba(255,0,0,0.60)" stroke="rgba(255,16,16,0.85)" stroke-width="1"/><rect x="728.8" y="291.3" width="38.1" height="40.6" fill="none" stroke="rgba(225,150,135,0.85)" stroke-width="1"/><rect x="807.9" y="219.9" width="30.2" height="40.2" fill="rgba(255,0,0,0.60)" stroke="rgba(255,16,16,0.85)" stroke-width="1"/><rect x="806.1" y="218.1" width="33.8" height="43.8" fill="none" stroke="rgba(225,150,135,0.85)" stroke-width="1"/><rect x="871.6" y="219.9" width="29.8" height="40.2" fill="rgba(255,0,0,0.60)" stroke="rgba(255,16,16,0.85)" stroke-width="1"/><rect x="869.8" y="218.1" width="33.4" height="43.8" fill="none" stroke="rgba(225,150,135,0.85)" stroke-width="1"/><rect x="807.9" y="290.9" width="30.2" height="41.2" fill="rgba(255,0,0,0.60)" stroke="rgba(255,16,16,0.85)" stroke-width="1"/><rect x="806.1" y="289.1" width="33.8" height="44.8" fill="none" stroke="rgba(225,150,135,0.85)" stroke-width="1"/><rect x="871.6" y="290.9" width="29.8" height="41.2" fill="rgba(255,0,0,0.60)" stroke="rgba(255,16,16,0.85)" stroke-width="1"/><rect x="869.8" y="289.1" width="33.4" height="44.8" fill="none" stroke="rgba(225,150,135,0.85)" stroke-width="1"/><rect x="943.9" y="220.5" width="35.8" height="38.1" fill="rgba(255,0,0,0.60)" stroke="rgba(255,16,16,0.85)" stroke-width="1"/><rect x="942.1" y="218.7" width="39.4" height="41.7" fill="none" stroke="rgba(225,150,135,0.85)" stroke-width="1"/><rect x="943.9" y="291.9" width="35.8" height="38.9" fill="rgba(255,0,0,0.60)" stroke="rgba(255,16,16,0.85)" stroke-width="1"/><rect x="942.1" y="290.1" width="39.4" height="42.5" fill="none" stroke="rgba(225,150,135,0.85)" stroke-width="1"/><rect x="1056.9" y="147.9" width="24.7" height="41.7" fill="rgba(255,0,0,0.60)" stroke="rgba(255,16,16,0.85)" stroke-width="1"/><rect x="1055.1" y="146.1" width="28.3" height="45.3" fill="none" stroke="rgba(225,150,135,0.85)" stroke-width="1"/><rect x="1127.9" y="147.9" width="25.2" height="41.7" fill="rgba(255,0,0,0.60)" stroke="rgba(255,16,16,0.85)" stroke-width="1"/><rect x="1126.1" y="146.1" width="28.8" height="45.3" fill="none" stroke="rgba(225,150,135,0.85)" stroke-width="1"/><rect x="1199.3" y="147.9" width="24.1" height="41.7" fill="rgba(255,0,0,0.60)" stroke="rgba(255,16,16,0.85)" stroke-width="1"/><rect x="1197.5" y="146.1" width="27.7" height="45.3" fill="none" stroke="rgba(225,150,135,0.85)" stroke-width="1"/><rect x="1056.9" y="337.5" width="24.7" height="42.9" fill="rgba(255,0,0,0.60)" stroke="rgba(255,16,16,0.85)" stroke-width="1"/><rect x="1055.1" y="335.7" width="28.3" height="46.5" fill="none" stroke="rgba(225,150,135,0.85)" stroke-width="1"/><rect x="1127.9" y="337.5" width="25.2" height="42.9" fill="rgba(255,0,0,0.60)" stroke="rgba(255,16,16,0.85)" stroke-width="1"/><rect x="1126.1" y="335.7" width="28.8" height="46.5" fill="none" stroke="rgba(225,150,135,0.85)" stroke-width="1"/><rect x="1199.3" y="337.5" width="24.1" height="42.9" fill="rgba(255,0,0,0.60)" stroke="rgba(255,16,16,0.85)" stroke-width="1"/><rect x="1197.5" y="335.7" width="27.7" height="46.5" fill="none" stroke="rgba(225,150,135,0.85)" stroke-width="1"/><rect x="1048.5" y="216.1" width="41.8" height="23.9" fill="rgba(255,0,0,0.60)" stroke="rgba(255,16,16,0.85)" stroke-width="1"/><rect x="1046.7" y="214.3" width="45.4" height="27.5" fill="none" stroke="rgba(225,150,135,0.85)" stroke-width="1"/><rect x="1119.2" y="216.1" width="43" height="23.9" fill="rgba(255,0,0,0.60)" stroke="rgba(255,16,16,0.85)" stroke-width="1"/><rect x="1117.4" y="214.3" width="46.6" height="27.5" fill="none" stroke="rgba(225,150,135,0.85)" stroke-width="1"/><rect x="1190.9" y="216.1" width="42.2" height="23.9" fill="rgba(255,0,0,0.60)" stroke="rgba(255,16,16,0.85)" stroke-width="1"/><rect x="1189.1" y="214.3" width="45.8" height="27.5" fill="none" stroke="rgba(225,150,135,0.85)" stroke-width="1"/><rect x="1048.5" y="288.2" width="41.8" height="23.6" fill="rgba(255,0,0,0.60)" stroke="rgba(255,16,16,0.85)" stroke-width="1"/><rect x="1046.7" y="286.4" width="45.4" height="27.2" fill="none" stroke="rgba(225,150,135,0.85)" stroke-width="1"/><rect x="1119.2" y="288.2" width="43" height="23.6" fill="rgba(255,0,0,0.60)" stroke="rgba(255,16,16,0.85)" stroke-width="1"/><rect x="1117.4" y="286.4" width="46.6" height="27.2" fill="none" stroke="rgba(225,150,135,0.85)" stroke-width="1"/><rect x="1190.9" y="288.2" width="42.2" height="23.6" fill="rgba(255,0,0,0.60)" stroke="rgba(255,16,16,0.85)" stroke-width="1"/><rect x="1189.1" y="286.4" width="45.8" height="27.2" fill="none" stroke="rgba(225,150,135,0.85)" stroke-width="1"/><rect x="1101.9" y="475.9" width="21.2" height="28.7" fill="rgba(255,0,0,0.60)" stroke="rgba(255,16,16,0.85)" stroke-width="1"/><rect x="1100.1" y="474.1" width="24.8" height="32.3" fill="none" stroke="rgba(225,150,135,0.85)" stroke-width="1"/><rect x="1143.5" y="475.9" width="21.1" height="28.7" fill="rgba(255,0,0,0.60)" stroke="rgba(255,16,16,0.85)" stroke-width="1"/><rect x="1141.7" y="474.1" width="24.7" height="32.3" fill="none" stroke="rgba(225,150,135,0.85)" stroke-width="1"/><rect x="1187.5" y="475.9" width="22.9" height="28.7" fill="rgba(255,0,0,0.60)" stroke="rgba(255,16,16,0.85)" stroke-width="1"/><rect x="1185.7" y="474.1" width="26.5" height="32.3" fill="none" stroke="rgba(225,150,135,0.85)" stroke-width="1"/><rect x="1227.9" y="475.9" width="23.2" height="28.7" fill="rgba(255,0,0,0.60)" stroke="rgba(255,16,16,0.85)" stroke-width="1"/><rect x="1226.1" y="474.1" width="26.8" height="32.3" fill="none" stroke="rgba(225,150,135,0.85)" stroke-width="1"/><path d="M1085.3 560.5H1100.3V588.3A7.5 7.5 0 0 1 1085.3 588.3Z" fill="rgba(255,0,0,0.60)" stroke="rgba(255,16,16,0.85)" stroke-width="0.8"/><path d="M1083.8 559H1101.8V588.3A9 9 0 0 1 1083.8 588.3Z" fill="none" stroke="rgba(225,150,135,0.85)" stroke-width="0.8"/><path d="M1109.1 560.5H1124.1V588.3A7.5 7.5 0 0 1 1109.1 588.3Z" fill="rgba(255,0,0,0.60)" stroke="rgba(255,16,16,0.85)" stroke-width="0.8"/><path d="M1107.6 559H1125.6V588.3A9 9 0 0 1 1107.6 588.3Z" fill="none" stroke="rgba(225,150,135,0.85)" stroke-width="0.8"/><path d="M1132.9 560.5H1147.9V588.3A7.5 7.5 0 0 1 1132.9 588.3Z" fill="rgba(255,0,0,0.60)" stroke="rgba(255,16,16,0.85)" stroke-width="0.8"/><path d="M1131.4 559H1149.4V588.3A9 9 0 0 1 1131.4 588.3Z" fill="none" stroke="rgba(225,150,135,0.85)" stroke-width="0.8"/><path d="M1156.7 560.5H1171.7V588.3A7.5 7.5 0 0 1 1156.7 588.3Z" fill="rgba(255,0,0,0.60)" stroke="rgba(255,16,16,0.85)" stroke-width="0.8"/><path d="M1155.2 559H1173.2V588.3A9 9 0 0 1 1155.2 588.3Z" fill="none" stroke="rgba(225,150,135,0.85)" stroke-width="0.8"/><path d="M1180.5 560.5H1195.5V588.3A7.5 7.5 0 0 1 1180.5 588.3Z" fill="rgba(255,0,0,0.60)" stroke="rgba(255,16,16,0.85)" stroke-width="0.8"/><path d="M1179 559H1197V588.3A9 9 0 0 1 1179 588.3Z" fill="none" stroke="rgba(225,150,135,0.85)" stroke-width="0.8"/><path d="M1204.3 560.5H1219.3V588.3A7.5 7.5 0 0 1 1204.3 588.3Z" fill="rgba(255,0,0,0.60)" stroke="rgba(255,16,16,0.85)" stroke-width="0.8"/><path d="M1202.8 559H1220.8V588.3A9 9 0 0 1 1202.8 588.3Z" fill="none" stroke="rgba(225,150,135,0.85)" stroke-width="0.8"/><path d="M1228.1 560.5H1243.1V588.3A7.5 7.5 0 0 1 1228.1 588.3Z" fill="rgba(255,0,0,0.60)" stroke="rgba(255,16,16,0.85)" stroke-width="0.8"/><path d="M1226.6 559H1244.6V588.3A9 9 0 0 1 1226.6 588.3Z" fill="none" stroke="rgba(225,150,135,0.85)" stroke-width="0.8"/><path d="M1044.7 601.3H1072.3A7.7 7.7 0 0 1 1072.3 616.7H1044.7Z" fill="rgba(255,0,0,0.60)" stroke="rgba(255,16,16,0.85)" stroke-width="0.8"/><path d="M1043.2 599.8H1072.3A9.2 9.2 0 0 1 1072.3 618.2H1043.2Z" fill="none" stroke="rgba(225,150,135,0.85)" stroke-width="0.8"/><path d="M1044.7 625.1H1072.3A7.7 7.7 0 0 1 1072.3 640.5H1044.7Z" fill="rgba(255,0,0,0.60)" stroke="rgba(255,16,16,0.85)" stroke-width="0.8"/><path d="M1043.2 623.6H1072.3A9.2 9.2 0 0 1 1072.3 642H1043.2Z" fill="none" stroke="rgba(225,150,135,0.85)" stroke-width="0.8"/><path d="M1044.7 648.9H1072.3A7.7 7.7 0 0 1 1072.3 664.3H1044.7Z" fill="rgba(255,0,0,0.60)" stroke="rgba(255,16,16,0.85)" stroke-width="0.8"/><path d="M1043.2 647.4H1072.3A9.2 9.2 0 0 1 1072.3 665.8H1043.2Z" fill="none" stroke="rgba(225,150,135,0.85)" stroke-width="0.8"/><path d="M1044.7 672.7H1072.3A7.7 7.7 0 0 1 1072.3 688.1H1044.7Z" fill="rgba(255,0,0,0.60)" stroke="rgba(255,16,16,0.85)" stroke-width="0.8"/><path d="M1043.2 671.2H1072.3A9.2 9.2 0 0 1 1072.3 689.6H1043.2Z" fill="none" stroke="rgba(225,150,135,0.85)" stroke-width="0.8"/><rect x="1097.6" y="614.3" width="162.4" height="85.7" fill="rgba(255,0,0,0.60)" stroke="rgba(255,16,16,0.85)" stroke-width="1"/><rect x="622.4" y="568.7" width="36.7" height="33.1" fill="rgba(255,0,0,0.60)" stroke="rgba(255,16,16,0.85)" stroke-width="1"/><rect x="620.6" y="566.9" width="40.3" height="36.7" fill="none" stroke="rgba(225,150,135,0.85)" stroke-width="1"/><rect x="693.4" y="568.7" width="36.5" height="33.1" fill="rgba(255,0,0,0.60)" stroke="rgba(255,16,16,0.85)" stroke-width="1"/><rect x="691.6" y="566.9" width="40.1" height="36.7" fill="none" stroke="rgba(225,150,135,0.85)" stroke-width="1"/><rect x="587.3" y="643" width="54.3" height="32" rx="4" fill="rgba(255,0,0,0.60)"/><rect x="587.3" y="643" width="54.3" height="32" rx="4" fill="rgba(255,0,0,0.60)"/><circle cx="591.3" cy="647" r="3.4" fill="rgba(255,0,0,0.60)"/><circle cx="591.3" cy="671" r="3.4" fill="rgba(255,0,0,0.60)"/><circle cx="637.6" cy="647" r="3.4" fill="rgba(255,0,0,0.60)"/><circle cx="637.6" cy="671" r="3.4" fill="rgba(255,0,0,0.60)"/><rect x="587.3" y="643" width="54.3" height="32" rx="4" fill="none" stroke="rgba(255,16,16,0.85)" stroke-width="0.8"/><rect x="585.8" y="641.5" width="57.3" height="35" rx="5" fill="none" stroke="rgba(225,150,135,0.85)" stroke-width="0.8"/><rect x="711.4" y="643" width="53.3" height="32" rx="4" fill="rgba(255,0,0,0.60)"/><rect x="711.4" y="643" width="53.3" height="32" rx="4" fill="rgba(255,0,0,0.60)"/><circle cx="715.4" cy="647" r="3.4" fill="rgba(255,0,0,0.60)"/><circle cx="715.4" cy="671" r="3.4" fill="rgba(255,0,0,0.60)"/><circle cx="760.7" cy="647" r="3.4" fill="rgba(255,0,0,0.60)"/><circle cx="760.7" cy="671" r="3.4" fill="rgba(255,0,0,0.60)"/><rect x="711.4" y="643" width="53.3" height="32" rx="4" fill="none" stroke="rgba(255,16,16,0.85)" stroke-width="0.8"/><rect x="709.9" y="641.5" width="56.3" height="35" rx="5" fill="none" stroke="rgba(225,150,135,0.85)" stroke-width="0.8"/><rect x="789.2" y="648.9" width="35.9" height="50.2" fill="rgba(255,0,0,0.60)" stroke="rgba(255,16,16,0.85)" stroke-width="1"/><rect x="787.4" y="647.1" width="39.5" height="53.8" fill="none" stroke="rgba(225,150,135,0.85)" stroke-width="1"/><rect x="873.6" y="585.9" width="33.3" height="36.2" fill="rgba(255,0,0,0.60)" stroke="rgba(255,16,16,0.85)" stroke-width="1"/><rect x="871.8" y="584.1" width="36.9" height="39.8" fill="none" stroke="rgba(225,150,135,0.85)" stroke-width="1"/><rect x="873.6" y="657.1" width="33.3" height="42" fill="rgba(255,0,0,0.60)" stroke="rgba(255,16,16,0.85)" stroke-width="1"/><rect x="871.8" y="655.3" width="36.9" height="45.6" fill="none" stroke="rgba(225,150,135,0.85)" stroke-width="1"/><path d="M180 50.6L270.1 50.6A5 5 0 0 0 270.1 40.6L180 40.6A5 5 0 0 0 180 50.6Z" fill="rgba(255,0,0,0.60)"/><path d="M266.6 49.2L293 75.1A5 5 0 0 0 300 67.9L273.6 42A5 5 0 0 0 266.6 49.2Z" fill="rgba(255,0,0,0.60)"/><path d="M299.8 75.2L329.5 48.7A5 5 0 0 0 322.9 41.3L293.2 67.8A5 5 0 0 0 299.8 75.2Z" fill="rgba(255,0,0,0.60)"/><path d="M326.2 50L370.3 50A5 5 0 0 0 370.3 40L326.2 40A5 5 0 0 0 326.2 50Z" fill="rgba(255,0,0,0.60)"/><path d="M373.8 48.5L398.5 23.8A5 5 0 0 0 391.5 16.8L366.8 41.5A5 5 0 0 0 373.8 48.5Z" fill="rgba(255,0,0,0.60)"/><path d="M180 50.6L270.1 50.6A5 5 0 0 0 270.1 40.6L180 40.6A5 5 0 0 0 180 50.6ZM266.6 49.2L293 75.1A5 5 0 0 0 300 67.9L273.6 42A5 5 0 0 0 266.6 49.2ZM299.8 75.2L329.5 48.7A5 5 0 0 0 322.9 41.3L293.2 67.8A5 5 0 0 0 299.8 75.2ZM326.2 50L370.3 50A5 5 0 0 0 370.3 40L326.2 40A5 5 0 0 0 326.2 50ZM373.8 48.5L398.5 23.8A5 5 0 0 0 391.5 16.8L366.8 41.5A5 5 0 0 0 373.8 48.5Z" fill="none" stroke="rgba(255,16,16,0.85)" stroke-width="0.8"/><path d="M341.2 78.7L390.3 78.7A5 5 0 0 0 390.3 68.7L341.2 68.7A5 5 0 0 0 341.2 78.7Z" fill="rgba(255,0,0,0.60)"/><path d="M341.2 78.7L390.3 78.7A5 5 0 0 0 390.3 68.7L341.2 68.7A5 5 0 0 0 341.2 78.7Z" fill="none" stroke="rgba(255,16,16,0.85)" stroke-width="0.8"/><path d="M180 102L212 102A5 5 0 0 0 212 92L180 92A5 5 0 0 0 180 102Z" fill="rgba(255,0,0,0.60)"/><path d="M215.5 100.6L227.5 88.7A5 5 0 0 0 220.5 81.5L208.5 93.4A5 5 0 0 0 215.5 100.6Z" fill="rgba(255,0,0,0.60)"/><path d="M180 102L212 102A5 5 0 0 0 212 92L180 92A5 5 0 0 0 180 102ZM215.5 100.6L227.5 88.7A5 5 0 0 0 220.5 81.5L208.5 93.4A5 5 0 0 0 215.5 100.6Z" fill="none" stroke="rgba(255,16,16,0.85)" stroke-width="0.8"/><path d="M180 126.1L224 126.1A5 5 0 0 0 224 116.1L180 116.1A5 5 0 0 0 180 126.1Z" fill="rgba(255,0,0,0.60)"/><path d="M180 126.1L224 126.1A5 5 0 0 0 224 116.1L180 116.1A5 5 0 0 0 180 126.1Z" fill="none" stroke="rgba(255,16,16,0.85)" stroke-width="0.8"/><path d="M176.5 127.7L208.5 159.7A5 5 0 0 0 215.5 152.7L183.5 120.7A5 5 0 0 0 176.5 127.7Z" fill="rgba(255,0,0,0.60)"/><path d="M176.5 127.7L208.5 159.7A5 5 0 0 0 215.5 152.7L183.5 120.7A5 5 0 0 0 176.5 127.7Z" fill="none" stroke="rgba(255,16,16,0.85)" stroke-width="0.8"/><path d="M180 186L247.7 186A5 5 0 0 0 247.7 176L180 176A5 5 0 0 0 180 186Z" fill="rgba(255,0,0,0.60)"/><path d="M180 186L247.7 186A5 5 0 0 0 247.7 176L180 176A5 5 0 0 0 180 186Z" fill="none" stroke="rgba(255,16,16,0.85)" stroke-width="0.8"/><path d="M180 224.7L270.1 224.7A5 5 0 0 0 270.1 214.7L180 214.7A5 5 0 0 0 180 224.7Z" fill="rgba(255,0,0,0.60)"/><path d="M273.6 223.2L300.7 196A5 5 0 0 0 293.7 189L266.6 216.2A5 5 0 0 0 273.6 223.2Z" fill="rgba(255,0,0,0.60)"/><path d="M293.7 196.1L321.7 223.3A5 5 0 0 0 328.7 216.1L300.7 188.9A5 5 0 0 0 293.7 196.1Z" fill="rgba(255,0,0,0.60)"/><path d="M325.2 224.7L370.3 224.7A5 5 0 0 0 370.3 214.7L325.2 214.7A5 5 0 0 0 325.2 224.7Z" fill="rgba(255,0,0,0.60)"/><path d="M366.8 223.2L413.9 270.6A5 5 0 0 0 420.9 263.6L373.8 216.2A5 5 0 0 0 366.8 223.2Z" fill="rgba(255,0,0,0.60)"/><path d="M417.4 272.1L435.4 272.1A5 5 0 0 0 435.4 262.1L417.4 262.1A5 5 0 0 0 417.4 272.1Z" fill="rgba(255,0,0,0.60)"/><path d="M438.9 270.6L489.5 220A5 5 0 0 0 482.5 213L431.9 263.6A5 5 0 0 0 438.9 270.6Z" fill="rgba(255,0,0,0.60)"/><path d="M180 224.7L270.1 224.7A5 5 0 0 0 270.1 214.7L180 214.7A5 5 0 0 0 180 224.7ZM273.6 223.2L300.7 196A5 5 0 0 0 293.7 189L266.6 216.2A5 5 0 0 0 273.6 223.2ZM293.7 196.1L321.7 223.3A5 5 0 0 0 328.7 216.1L300.7 188.9A5 5 0 0 0 293.7 196.1ZM325.2 224.7L370.3 224.7A5 5 0 0 0 370.3 214.7L325.2 214.7A5 5 0 0 0 325.2 224.7ZM366.8 223.2L413.9 270.6A5 5 0 0 0 420.9 263.6L373.8 216.2A5 5 0 0 0 366.8 223.2ZM417.4 272.1L435.4 272.1A5 5 0 0 0 435.4 262.1L417.4 262.1A5 5 0 0 0 417.4 272.1ZM438.9 270.6L489.5 220A5 5 0 0 0 482.5 213L431.9 263.6A5 5 0 0 0 438.9 270.6Z" fill="none" stroke="rgba(255,16,16,0.85)" stroke-width="0.8"/><path d="M180 241.1L270.1 241.1A5 5 0 0 0 270.1 231.1L180 231.1A5 5 0 0 0 180 241.1Z" fill="rgba(255,0,0,0.60)"/><path d="M266.5 239.6L293.6 267A5 5 0 0 0 300.8 260L273.7 232.6A5 5 0 0 0 266.5 239.6Z" fill="rgba(255,0,0,0.60)"/><path d="M300.7 267.1L328.7 239.7A5 5 0 0 0 321.7 232.5L293.7 259.9A5 5 0 0 0 300.7 267.1Z" fill="rgba(255,0,0,0.60)"/><path d="M325.2 241.1L363.3 241.1A5 5 0 0 0 363.3 231.1L325.2 231.1A5 5 0 0 0 325.2 241.1Z" fill="rgba(255,0,0,0.60)"/><path d="M359.8 239.6L407.8 287.7A5 5 0 0 0 414.8 280.7L366.8 232.6A5 5 0 0 0 359.8 239.6Z" fill="rgba(255,0,0,0.60)"/><path d="M411.3 289.2L435.4 289.2A5 5 0 0 0 435.4 279.2L411.3 279.2A5 5 0 0 0 411.3 289.2Z" fill="rgba(255,0,0,0.60)"/><path d="M431.9 287.7L483.5 339.3A5 5 0 0 0 490.5 332.3L438.9 280.7A5 5 0 0 0 431.9 287.7Z" fill="rgba(255,0,0,0.60)"/><path d="M180 241.1L270.1 241.1A5 5 0 0 0 270.1 231.1L180 231.1A5 5 0 0 0 180 241.1ZM266.5 239.6L293.6 267A5 5 0 0 0 300.8 260L273.7 232.6A5 5 0 0 0 266.5 239.6ZM300.7 267.1L328.7 239.7A5 5 0 0 0 321.7 232.5L293.7 259.9A5 5 0 0 0 300.7 267.1ZM325.2 241.1L363.3 241.1A5 5 0 0 0 363.3 231.1L325.2 231.1A5 5 0 0 0 325.2 241.1ZM359.8 239.6L407.8 287.7A5 5 0 0 0 414.8 280.7L366.8 232.6A5 5 0 0 0 359.8 239.6ZM411.3 289.2L435.4 289.2A5 5 0 0 0 435.4 279.2L411.3 279.2A5 5 0 0 0 411.3 289.2ZM431.9 287.7L483.5 339.3A5 5 0 0 0 490.5 332.3L438.9 280.7A5 5 0 0 0 431.9 287.7Z" fill="none" stroke="rgba(255,16,16,0.85)" stroke-width="0.8"/><path d="M341.2 198L378.7 198A5 5 0 0 0 378.7 188L341.2 188A5 5 0 0 0 341.2 198Z" fill="rgba(255,0,0,0.60)"/><path d="M341.2 198L378.7 198A5 5 0 0 0 378.7 188L341.2 188A5 5 0 0 0 341.2 198Z" fill="none" stroke="rgba(255,16,16,0.85)" stroke-width="0.8"/><path d="M180 293L211.8 293A5 5 0 0 0 211.8 283L180 283A5 5 0 0 0 180 293Z" fill="rgba(255,0,0,0.60)"/><path d="M215.3 291.5L227.5 279.3A5 5 0 0 0 220.5 272.3L208.3 284.5A5 5 0 0 0 215.3 291.5Z" fill="rgba(255,0,0,0.60)"/><path d="M180 293L211.8 293A5 5 0 0 0 211.8 283L180 283A5 5 0 0 0 180 293ZM215.3 291.5L227.5 279.3A5 5 0 0 0 220.5 272.3L208.3 284.5A5 5 0 0 0 215.3 291.5Z" fill="none" stroke="rgba(255,16,16,0.85)" stroke-width="0.8"/><path d="M335.6 264L335.6 285A5 5 0 0 0 345.6 285L345.6 264A5 5 0 0 0 335.6 264Z" fill="rgba(255,0,0,0.60)"/><path d="M337.1 288.5L351.4 302.7A5 5 0 0 0 358.4 295.7L344.1 281.5A5 5 0 0 0 337.1 288.5Z" fill="rgba(255,0,0,0.60)"/><path d="M335.6 264L335.6 285A5 5 0 0 0 345.6 285L345.6 264A5 5 0 0 0 335.6 264ZM337.1 288.5L351.4 302.7A5 5 0 0 0 358.4 295.7L344.1 281.5A5 5 0 0 0 337.1 288.5Z" fill="none" stroke="rgba(255,16,16,0.85)" stroke-width="0.8"/><path d="M248.7 335.4L248.7 359.1A11 11 0 0 0 270.7 359.1L270.7 335.4A11 11 0 0 0 248.7 335.4Z" fill="rgba(255,0,0,0.60)"/><path d="M248.7 359.1L248.7 383.1A11 11 0 0 0 270.7 383.1L270.7 359.1A11 11 0 0 0 248.7 359.1Z" fill="rgba(255,0,0,0.60)"/><path d="M248.7 335.4L248.7 359.1A11 11 0 0 0 270.7 359.1L270.7 335.4A11 11 0 0 0 248.7 335.4ZM248.7 359.1L248.7 383.1A11 11 0 0 0 270.7 383.1L270.7 359.1A11 11 0 0 0 248.7 359.1Z" fill="none" stroke="rgba(255,16,16,0.85)" stroke-width="0.8"/><path d="M259.7 370.1L283.7 370.1A11 11 0 0 0 283.7 348.1L259.7 348.1A11 11 0 0 0 259.7 370.1Z" fill="rgba(255,0,0,0.60)"/><path d="M259.7 370.1L283.7 370.1A11 11 0 0 0 283.7 348.1L259.7 348.1A11 11 0 0 0 259.7 370.1Z" fill="none" stroke="rgba(255,16,16,0.85)" stroke-width="0.8"/><path d="M283.7 365.1L310.5 365.1A6 6 0 0 0 310.5 353.1L283.7 353.1A6 6 0 0 0 283.7 365.1Z" fill="rgba(255,0,0,0.60)"/><path d="M283.7 365.1L310.5 365.1A6 6 0 0 0 310.5 353.1L283.7 353.1A6 6 0 0 0 283.7 365.1Z" fill="none" stroke="rgba(255,16,16,0.85)" stroke-width="0.8"/><path d="M256.2 338.9L280 362.6A5 5 0 0 0 287 355.6L263.2 331.9A5 5 0 0 0 256.2 338.9Z" fill="rgba(255,0,0,0.60)"/><path d="M256.2 338.9L280 362.6A5 5 0 0 0 287 355.6L263.2 331.9A5 5 0 0 0 256.2 338.9Z" fill="none" stroke="rgba(255,16,16,0.85)" stroke-width="0.8"/><path d="M304.5 358.5L304.5 374A6 6 0 0 0 316.5 374L316.5 358.5A6 6 0 0 0 304.5 358.5Z" fill="rgba(255,0,0,0.60)"/><path d="M306.1 369.9L293.9 382.9A6 6 0 0 0 302.7 391.1L314.9 378.1A6 6 0 0 0 306.1 369.9Z" fill="rgba(255,0,0,0.60)"/><path d="M292.3 387L292.3 431A6 6 0 0 0 304.3 431L304.3 387A6 6 0 0 0 292.3 387Z" fill="rgba(255,0,0,0.60)"/><path d="M304.5 358.5L304.5 374A6 6 0 0 0 316.5 374L316.5 358.5A6 6 0 0 0 304.5 358.5ZM306.1 369.9L293.9 382.9A6 6 0 0 0 302.7 391.1L314.9 378.1A6 6 0 0 0 306.1 369.9ZM292.3 387L292.3 431A6 6 0 0 0 304.3 431L304.3 387A6 6 0 0 0 292.3 387Z" fill="none" stroke="rgba(255,16,16,0.85)" stroke-width="0.8"/><path d="M373.2 323.5L373.2 376A5.5 5.5 0 0 0 384.2 376L384.2 323.5A5.5 5.5 0 0 0 373.2 323.5Z" fill="rgba(255,0,0,0.60)"/><path d="M374.7 372.2L338.2 410A5.5 5.5 0 0 0 346.2 417.6L382.7 379.8A5.5 5.5 0 0 0 374.7 372.2Z" fill="rgba(255,0,0,0.60)"/><path d="M336.7 413.8L336.7 462A5.5 5.5 0 0 0 347.7 462L347.7 413.8A5.5 5.5 0 0 0 336.7 413.8Z" fill="rgba(255,0,0,0.60)"/><path d="M337.9 465.4L350.6 481.4A5.5 5.5 0 0 0 359.2 474.6L346.5 458.6A5.5 5.5 0 0 0 337.9 465.4Z" fill="rgba(255,0,0,0.60)"/><path d="M350.6 474.6L338.9 489.6A5.5 5.5 0 0 0 347.5 496.4L359.2 481.4A5.5 5.5 0 0 0 350.6 474.6Z" fill="rgba(255,0,0,0.60)"/><path d="M337.7 493L337.7 519A5.5 5.5 0 0 0 348.7 519L348.7 493A5.5 5.5 0 0 0 337.7 493Z" fill="rgba(255,0,0,0.60)"/><path d="M337.7 519L337.7 548A5.5 5.5 0 0 0 348.7 548L348.7 519A5.5 5.5 0 0 0 337.7 519Z" fill="rgba(255,0,0,0.60)"/><path d="M373.2 323.5L373.2 376A5.5 5.5 0 0 0 384.2 376L384.2 323.5A5.5 5.5 0 0 0 373.2 323.5ZM374.7 372.2L338.2 410A5.5 5.5 0 0 0 346.2 417.6L382.7 379.8A5.5 5.5 0 0 0 374.7 372.2ZM336.7 413.8L336.7 462A5.5 5.5 0 0 0 347.7 462L347.7 413.8A5.5 5.5 0 0 0 336.7 413.8ZM337.9 465.4L350.6 481.4A5.5 5.5 0 0 0 359.2 474.6L346.5 458.6A5.5 5.5 0 0 0 337.9 465.4ZM350.6 474.6L338.9 489.6A5.5 5.5 0 0 0 347.5 496.4L359.2 481.4A5.5 5.5 0 0 0 350.6 474.6ZM337.7 493L337.7 519A5.5 5.5 0 0 0 348.7 519L348.7 493A5.5 5.5 0 0 0 337.7 493ZM337.7 519L337.7 548A5.5 5.5 0 0 0 348.7 548L348.7 519A5.5 5.5 0 0 0 337.7 519Z" fill="none" stroke="rgba(255,16,16,0.85)" stroke-width="0.8"/><path d="M223.8 460.5L247.8 461.5A5.5 5.5 0 0 0 248.2 450.5L224.2 449.5A5.5 5.5 0 0 0 223.8 460.5Z" fill="rgba(255,0,0,0.60)"/><path d="M244.1 459.9L278.1 493.9A5.5 5.5 0 0 0 285.9 486.1L251.9 452.1A5.5 5.5 0 0 0 244.1 459.9Z" fill="rgba(255,0,0,0.60)"/><path d="M282 495.5L314.2 495.5A5.5 5.5 0 0 0 314.2 484.5L282 484.5A5.5 5.5 0 0 0 282 495.5Z" fill="rgba(255,0,0,0.60)"/><path d="M310.3 493.9L339.3 522.9A5.5 5.5 0 0 0 347.1 515.1L318.1 486.1A5.5 5.5 0 0 0 310.3 493.9Z" fill="rgba(255,0,0,0.60)"/><path d="M223.8 460.5L247.8 461.5A5.5 5.5 0 0 0 248.2 450.5L224.2 449.5A5.5 5.5 0 0 0 223.8 460.5ZM244.1 459.9L278.1 493.9A5.5 5.5 0 0 0 285.9 486.1L251.9 452.1A5.5 5.5 0 0 0 244.1 459.9ZM282 495.5L314.2 495.5A5.5 5.5 0 0 0 314.2 484.5L282 484.5A5.5 5.5 0 0 0 282 495.5ZM310.3 493.9L339.3 522.9A5.5 5.5 0 0 0 347.1 515.1L318.1 486.1A5.5 5.5 0 0 0 310.3 493.9Z" fill="none" stroke="rgba(255,16,16,0.85)" stroke-width="0.8"/><path d="M224 531.5L253 531.5A5.5 5.5 0 0 0 253 520.5L224 520.5A5.5 5.5 0 0 0 224 531.5Z" fill="rgba(255,0,0,0.60)"/><path d="M249.1 529.8L274.1 555.6A5.5 5.5 0 0 0 281.9 548L256.9 522.2A5.5 5.5 0 0 0 249.1 529.8Z" fill="rgba(255,0,0,0.60)"/><path d="M278 557.3L297 557.3A5.5 5.5 0 0 0 297 546.3L278 546.3A5.5 5.5 0 0 0 278 557.3Z" fill="rgba(255,0,0,0.60)"/><path d="M224 531.5L253 531.5A5.5 5.5 0 0 0 253 520.5L224 520.5A5.5 5.5 0 0 0 224 531.5ZM249.1 529.8L274.1 555.6A5.5 5.5 0 0 0 281.9 548L256.9 522.2A5.5 5.5 0 0 0 249.1 529.8ZM278 557.3L297 557.3A5.5 5.5 0 0 0 297 546.3L278 546.3A5.5 5.5 0 0 0 278 557.3Z" fill="none" stroke="rgba(255,16,16,0.85)" stroke-width="0.8"/><path d="M218 526L218 573A6 6 0 0 0 230 573L230 526A6 6 0 0 0 218 526Z" fill="rgba(255,0,0,0.60)"/><path d="M219.8 568.8L175.8 612.8A6 6 0 0 0 184.2 621.2L228.2 577.2A6 6 0 0 0 219.8 568.8Z" fill="rgba(255,0,0,0.60)"/><path d="M218 526L218 573A6 6 0 0 0 230 573L230 526A6 6 0 0 0 218 526ZM219.8 568.8L175.8 612.8A6 6 0 0 0 184.2 621.2L228.2 577.2A6 6 0 0 0 219.8 568.8Z" fill="none" stroke="rgba(255,16,16,0.85)" stroke-width="0.8"/><path d="M383 551.8L383 583A5 5 0 0 0 393 583L393 551.8A5 5 0 0 0 383 551.8Z" fill="rgba(255,0,0,0.60)"/><path d="M384.5 579.4L357.8 605.1A5 5 0 0 0 364.8 612.3L391.5 586.6A5 5 0 0 0 384.5 579.4Z" fill="rgba(255,0,0,0.60)"/><path d="M361.3 603.7L319.2 603.7A5 5 0 0 0 319.2 613.7L361.3 613.7A5 5 0 0 0 361.3 603.7Z" fill="rgba(255,0,0,0.60)"/><path d="M383 551.8L383 583A5 5 0 0 0 393 583L393 551.8A5 5 0 0 0 383 551.8ZM384.5 579.4L357.8 605.1A5 5 0 0 0 364.8 612.3L391.5 586.6A5 5 0 0 0 384.5 579.4ZM361.3 603.7L319.2 603.7A5 5 0 0 0 319.2 613.7L361.3 613.7A5 5 0 0 0 361.3 603.7Z" fill="none" stroke="rgba(255,16,16,0.85)" stroke-width="0.8"/><path d="M170 680.3L188 680.3A23.8 23.8 0 0 0 188 632.7L170 632.7A23.8 23.8 0 0 0 170 680.3Z" fill="rgba(255,0,0,0.60)"/><path d="M188 680.3L414.4 680.3A23.8 23.8 0 0 0 414.4 632.7L188 632.7A23.8 23.8 0 0 0 188 680.3Z" fill="rgba(255,0,0,0.60)"/><path d="M431.2 673.3L488.8 615.7A23.8 23.8 0 0 0 455.2 582.1L397.6 639.7A23.8 23.8 0 0 0 431.2 673.3Z" fill="rgba(255,0,0,0.60)"/><path d="M472 622.7L579.5 622.7A23.8 23.8 0 0 0 579.5 575.1L472 575.1A23.8 23.8 0 0 0 472 622.7Z" fill="rgba(255,0,0,0.60)"/><path d="M596.6 615.5L609.8 601.9A23.8 23.8 0 0 0 575.6 568.7L562.4 582.3A23.8 23.8 0 0 0 596.6 615.5Z" fill="rgba(255,0,0,0.60)"/><path d="M170 680.3L188 680.3A23.8 23.8 0 0 0 188 632.7L170 632.7A23.8 23.8 0 0 0 170 680.3ZM188 680.3L414.4 680.3A23.8 23.8 0 0 0 414.4 632.7L188 632.7A23.8 23.8 0 0 0 188 680.3ZM431.2 673.3L488.8 615.7A23.8 23.8 0 0 0 455.2 582.1L397.6 639.7A23.8 23.8 0 0 0 431.2 673.3ZM472 622.7L579.5 622.7A23.8 23.8 0 0 0 579.5 575.1L472 575.1A23.8 23.8 0 0 0 472 622.7ZM596.6 615.5L609.8 601.9A23.8 23.8 0 0 0 575.6 568.7L562.4 582.3A23.8 23.8 0 0 0 596.6 615.5Z" fill="none" stroke="rgba(255,16,16,0.85)" stroke-width="0.8"/><path d="M651 55.8L691.4 55.8A5.8 5.8 0 0 0 691.4 44.2L651 44.2A5.8 5.8 0 0 0 651 55.8Z" fill="rgba(255,0,0,0.60)"/><path d="M695.5 54.1L720.1 29.5A5.8 5.8 0 0 0 711.9 21.3L687.3 45.9A5.8 5.8 0 0 0 695.5 54.1Z" fill="rgba(255,0,0,0.60)"/><path d="M651 55.8L691.4 55.8A5.8 5.8 0 0 0 691.4 44.2L651 44.2A5.8 5.8 0 0 0 651 55.8ZM695.5 54.1L720.1 29.5A5.8 5.8 0 0 0 711.9 21.3L687.3 45.9A5.8 5.8 0 0 0 695.5 54.1Z" fill="none" stroke="rgba(255,16,16,0.85)" stroke-width="0.8"/><path d="M651 221.8L688.5 221.8A5.8 5.8 0 0 0 688.5 210.2L651 210.2A5.8 5.8 0 0 0 651 221.8Z" fill="rgba(255,0,0,0.60)"/><path d="M684.3 220L707.3 244.3A5.8 5.8 0 0 0 715.7 236.3L692.7 212A5.8 5.8 0 0 0 684.3 220Z" fill="rgba(255,0,0,0.60)"/><path d="M711.5 246.1L826 246.1A5.8 5.8 0 0 0 826 234.6L711.5 234.6A5.8 5.8 0 0 0 711.5 246.1Z" fill="rgba(255,0,0,0.60)"/><path d="M651 221.8L688.5 221.8A5.8 5.8 0 0 0 688.5 210.2L651 210.2A5.8 5.8 0 0 0 651 221.8ZM684.3 220L707.3 244.3A5.8 5.8 0 0 0 715.7 236.3L692.7 212A5.8 5.8 0 0 0 684.3 220ZM711.5 246.1L826 246.1A5.8 5.8 0 0 0 826 234.6L711.5 234.6A5.8 5.8 0 0 0 711.5 246.1Z" fill="none" stroke="rgba(255,16,16,0.85)" stroke-width="0.8"/><path d="M651 281.3L701 281.3A5.5 5.5 0 0 0 701 270.3L651 270.3A5.5 5.5 0 0 0 651 281.3Z" fill="rgba(255,0,0,0.60)"/><path d="M651 281.3L701 281.3A5.5 5.5 0 0 0 701 270.3L651 270.3A5.5 5.5 0 0 0 651 281.3Z" fill="none" stroke="rgba(255,16,16,0.85)" stroke-width="0.8"/><path d="M654.3 341.4L688.5 341.4A5.8 5.8 0 0 0 688.5 329.9L654.3 329.9A5.8 5.8 0 0 0 654.3 341.4Z" fill="rgba(255,0,0,0.60)"/><path d="M692.6 339.8L716.8 315.6A5.8 5.8 0 0 0 708.6 307.4L684.4 331.6A5.8 5.8 0 0 0 692.6 339.8Z" fill="rgba(255,0,0,0.60)"/><path d="M712.7 317.2L831 317.2A5.8 5.8 0 0 0 831 305.8L712.7 305.8A5.8 5.8 0 0 0 712.7 317.2Z" fill="rgba(255,0,0,0.60)"/><path d="M654.3 341.4L688.5 341.4A5.8 5.8 0 0 0 688.5 329.9L654.3 329.9A5.8 5.8 0 0 0 654.3 341.4ZM692.6 339.8L716.8 315.6A5.8 5.8 0 0 0 708.6 307.4L684.4 331.6A5.8 5.8 0 0 0 692.6 339.8ZM712.7 317.2L831 317.2A5.8 5.8 0 0 0 831 305.8L712.7 305.8A5.8 5.8 0 0 0 712.7 317.2Z" fill="none" stroke="rgba(255,16,16,0.85)" stroke-width="0.8"/><path d="M742.5 20L742.5 97.7A5.5 5.5 0 0 0 753.5 97.7L753.5 20A5.5 5.5 0 0 0 742.5 20Z" fill="rgba(255,0,0,0.60)"/><path d="M742.5 20L742.5 97.7A5.5 5.5 0 0 0 753.5 97.7L753.5 20A5.5 5.5 0 0 0 742.5 20Z" fill="none" stroke="rgba(255,16,16,0.85)" stroke-width="0.8"/><path d="M742.5 170L742.5 240.3A5.5 5.5 0 0 0 753.5 240.3L753.5 170A5.5 5.5 0 0 0 742.5 170Z" fill="rgba(255,0,0,0.60)"/><path d="M742.5 170L742.5 240.3A5.5 5.5 0 0 0 753.5 240.3L753.5 170A5.5 5.5 0 0 0 742.5 170Z" fill="none" stroke="rgba(255,16,16,0.85)" stroke-width="0.8"/><path d="M742.5 311.5L742.5 383A5.5 5.5 0 0 0 753.5 383L753.5 311.5A5.5 5.5 0 0 0 742.5 311.5Z" fill="rgba(255,0,0,0.60)"/><path d="M742.5 311.5L742.5 383A5.5 5.5 0 0 0 753.5 383L753.5 311.5A5.5 5.5 0 0 0 742.5 311.5Z" fill="none" stroke="rgba(255,16,16,0.85)" stroke-width="0.8"/><path d="M820 103.7L854.7 103.7A6 6 0 0 0 854.7 91.7L820 91.7A6 6 0 0 0 820 103.7Z" fill="rgba(255,0,0,0.60)"/><path d="M854.7 103.7L890 103.7A6 6 0 0 0 890 91.7L854.7 91.7A6 6 0 0 0 854.7 103.7Z" fill="rgba(255,0,0,0.60)"/><path d="M820 103.7L854.7 103.7A6 6 0 0 0 854.7 91.7L820 91.7A6 6 0 0 0 820 103.7ZM854.7 103.7L890 103.7A6 6 0 0 0 890 91.7L854.7 91.7A6 6 0 0 0 854.7 103.7Z" fill="none" stroke="rgba(255,16,16,0.85)" stroke-width="0.8"/><path d="M820 174.5L854.7 174.5A6 6 0 0 0 854.7 162.5L820 162.5A6 6 0 0 0 820 174.5Z" fill="rgba(255,0,0,0.60)"/><path d="M854.7 174.5L890 174.5A6 6 0 0 0 890 162.5L854.7 162.5A6 6 0 0 0 854.7 174.5Z" fill="rgba(255,0,0,0.60)"/><path d="M820 174.5L854.7 174.5A6 6 0 0 0 854.7 162.5L820 162.5A6 6 0 0 0 820 174.5ZM854.7 174.5L890 174.5A6 6 0 0 0 890 162.5L854.7 162.5A6 6 0 0 0 854.7 174.5Z" fill="none" stroke="rgba(255,16,16,0.85)" stroke-width="0.8"/><path d="M820 389.1L854.7 389.1A6 6 0 0 0 854.7 377.1L820 377.1A6 6 0 0 0 820 389.1Z" fill="rgba(255,0,0,0.60)"/><path d="M854.7 389.1L890 389.1A6 6 0 0 0 890 377.1L854.7 377.1A6 6 0 0 0 854.7 389.1Z" fill="rgba(255,0,0,0.60)"/><path d="M820 389.1L854.7 389.1A6 6 0 0 0 854.7 377.1L820 377.1A6 6 0 0 0 820 389.1ZM854.7 389.1L890 389.1A6 6 0 0 0 890 377.1L854.7 377.1A6 6 0 0 0 854.7 389.1Z" fill="none" stroke="rgba(255,16,16,0.85)" stroke-width="0.8"/><path d="M890 246.3L964 246.3A6 6 0 0 0 964 234.3L890 234.3A6 6 0 0 0 890 246.3Z" fill="rgba(255,0,0,0.60)"/><path d="M890 246.3L964 246.3A6 6 0 0 0 964 234.3L890 234.3A6 6 0 0 0 890 246.3Z" fill="none" stroke="rgba(255,16,16,0.85)" stroke-width="0.8"/><path d="M890 317.5L964 317.5A6 6 0 0 0 964 305.5L890 305.5A6 6 0 0 0 890 317.5Z" fill="rgba(255,0,0,0.60)"/><path d="M890 317.5L964 317.5A6 6 0 0 0 964 305.5L890 305.5A6 6 0 0 0 890 317.5Z" fill="none" stroke="rgba(255,16,16,0.85)" stroke-width="0.8"/><path d="M955.7 20L955.7 102A6 6 0 0 0 967.7 102L967.7 20A6 6 0 0 0 955.7 20Z" fill="rgba(255,0,0,0.60)"/><path d="M955.7 20L955.7 102A6 6 0 0 0 967.7 102L967.7 20A6 6 0 0 0 955.7 20Z" fill="none" stroke="rgba(255,16,16,0.85)" stroke-width="0.8"/><path d="M955.7 168L955.7 240.3A6 6 0 0 0 967.7 240.3L967.7 168A6 6 0 0 0 955.7 168Z" fill="rgba(255,0,0,0.60)"/><path d="M955.7 168L955.7 240.3A6 6 0 0 0 967.7 240.3L967.7 168A6 6 0 0 0 955.7 168Z" fill="none" stroke="rgba(255,16,16,0.85)" stroke-width="0.8"/><path d="M955.7 311.5L955.7 383A6 6 0 0 0 967.7 383L967.7 311.5A6 6 0 0 0 955.7 311.5Z" fill="rgba(255,0,0,0.60)"/><path d="M955.7 311.5L955.7 383A6 6 0 0 0 967.7 383L967.7 311.5A6 6 0 0 0 955.7 311.5Z" fill="none" stroke="rgba(255,16,16,0.85)" stroke-width="0.8"/><path d="M960.6 243.6L987.4 270.8A4.8 4.8 0 0 0 994.2 264.2L967.4 237A4.8 4.8 0 0 0 960.6 243.6Z" fill="rgba(255,0,0,0.60)"/><path d="M990.8 272.2L1000 272.2A4.8 4.8 0 0 0 1000 262.8L990.8 262.8A4.8 4.8 0 0 0 990.8 272.2Z" fill="rgba(255,0,0,0.60)"/><path d="M1003.5 270.7L1009.3 264.2A4.8 4.8 0 0 0 1002.3 257.8L996.5 264.3A4.8 4.8 0 0 0 1003.5 270.7Z" fill="rgba(255,0,0,0.60)"/><path d="M1010.5 261L1010.5 78.5A4.8 4.8 0 0 0 1001 78.5L1001 261A4.8 4.8 0 0 0 1010.5 261Z" fill="rgba(255,0,0,0.60)"/><path d="M1009.2 81.9L1037.6 53.4A4.8 4.8 0 0 0 1030.8 46.6L1002.4 75.1A4.8 4.8 0 0 0 1009.2 81.9Z" fill="rgba(255,0,0,0.60)"/><path d="M1034.2 54.8L1084.3 54.8A4.8 4.8 0 0 0 1084.3 45.2L1034.2 45.2A4.8 4.8 0 0 0 1034.2 54.8Z" fill="rgba(255,0,0,0.60)"/><path d="M1081 53.4L1110 81.9A4.8 4.8 0 0 0 1116.6 75.1L1087.6 46.6A4.8 4.8 0 0 0 1081 53.4Z" fill="rgba(255,0,0,0.60)"/><path d="M1108.5 78.5L1108.5 141.2A4.8 4.8 0 0 0 1118 141.2L1118 78.5A4.8 4.8 0 0 0 1108.5 78.5Z" fill="rgba(255,0,0,0.60)"/><path d="M1109.9 144.6L1137.2 171.9A4.8 4.8 0 0 0 1144 165.1L1116.7 137.8A4.8 4.8 0 0 0 1109.9 144.6Z" fill="rgba(255,0,0,0.60)"/><path d="M960.6 243.6L987.4 270.8A4.8 4.8 0 0 0 994.2 264.2L967.4 237A4.8 4.8 0 0 0 960.6 243.6ZM990.8 272.2L1000 272.2A4.8 4.8 0 0 0 1000 262.8L990.8 262.8A4.8 4.8 0 0 0 990.8 272.2ZM1003.5 270.7L1009.3 264.2A4.8 4.8 0 0 0 1002.3 257.8L996.5 264.3A4.8 4.8 0 0 0 1003.5 270.7ZM1010.5 261L1010.5 78.5A4.8 4.8 0 0 0 1001 78.5L1001 261A4.8 4.8 0 0 0 1010.5 261ZM1009.2 81.9L1037.6 53.4A4.8 4.8 0 0 0 1030.8 46.6L1002.4 75.1A4.8 4.8 0 0 0 1009.2 81.9ZM1034.2 54.8L1084.3 54.8A4.8 4.8 0 0 0 1084.3 45.2L1034.2 45.2A4.8 4.8 0 0 0 1034.2 54.8ZM1081 53.4L1110 81.9A4.8 4.8 0 0 0 1116.6 75.1L1087.6 46.6A4.8 4.8 0 0 0 1081 53.4ZM1108.5 78.5L1108.5 141.2A4.8 4.8 0 0 0 1118 141.2L1118 78.5A4.8 4.8 0 0 0 1108.5 78.5ZM1109.9 144.6L1137.2 171.9A4.8 4.8 0 0 0 1144 165.1L1116.7 137.8A4.8 4.8 0 0 0 1109.9 144.6Z" fill="none" stroke="rgba(255,16,16,0.85)" stroke-width="0.8"/><path d="M967.4 314.8L994.2 287.7A4.8 4.8 0 0 0 987.4 281.1L960.6 308.2A4.8 4.8 0 0 0 967.4 314.8Z" fill="rgba(255,0,0,0.60)"/><path d="M990.8 289.1L1002.9 289.1A4.8 4.8 0 0 0 1002.9 279.6L990.8 279.6A4.8 4.8 0 0 0 990.8 289.1Z" fill="rgba(255,0,0,0.60)"/><path d="M1006.3 287.8L1025.6 268.4A4.8 4.8 0 0 0 1018.8 261.6L999.5 281A4.8 4.8 0 0 0 1006.3 287.8Z" fill="rgba(255,0,0,0.60)"/><path d="M1027 265L1027 85A4.8 4.8 0 0 0 1017.5 85L1017.5 265A4.8 4.8 0 0 0 1027 265Z" fill="rgba(255,0,0,0.60)"/><path d="M1025.5 88.4L1045.5 69.4A4.8 4.8 0 0 0 1038.9 62.6L1018.9 81.6A4.8 4.8 0 0 0 1025.5 88.4Z" fill="rgba(255,0,0,0.60)"/><path d="M1042.2 70.8L1077.3 70.8A4.8 4.8 0 0 0 1077.3 61.2L1042.2 61.2A4.8 4.8 0 0 0 1042.2 70.8Z" fill="rgba(255,0,0,0.60)"/><path d="M1073.9 69.4L1092.9 88.4A4.8 4.8 0 0 0 1099.7 81.6L1080.7 62.6A4.8 4.8 0 0 0 1073.9 69.4Z" fill="rgba(255,0,0,0.60)"/><path d="M1091.5 85L1091.5 141.2A4.8 4.8 0 0 0 1101 141.2L1101 85A4.8 4.8 0 0 0 1091.5 85Z" fill="rgba(255,0,0,0.60)"/><path d="M1092.9 137.8L1065.6 165.1A4.8 4.8 0 0 0 1072.4 171.9L1099.7 144.6A4.8 4.8 0 0 0 1092.9 137.8Z" fill="rgba(255,0,0,0.60)"/><path d="M967.4 314.8L994.2 287.7A4.8 4.8 0 0 0 987.4 281.1L960.6 308.2A4.8 4.8 0 0 0 967.4 314.8ZM990.8 289.1L1002.9 289.1A4.8 4.8 0 0 0 1002.9 279.6L990.8 279.6A4.8 4.8 0 0 0 990.8 289.1ZM1006.3 287.8L1025.6 268.4A4.8 4.8 0 0 0 1018.8 261.6L999.5 281A4.8 4.8 0 0 0 1006.3 287.8ZM1027 265L1027 85A4.8 4.8 0 0 0 1017.5 85L1017.5 265A4.8 4.8 0 0 0 1027 265ZM1025.5 88.4L1045.5 69.4A4.8 4.8 0 0 0 1038.9 62.6L1018.9 81.6A4.8 4.8 0 0 0 1025.5 88.4ZM1042.2 70.8L1077.3 70.8A4.8 4.8 0 0 0 1077.3 61.2L1042.2 61.2A4.8 4.8 0 0 0 1042.2 70.8ZM1073.9 69.4L1092.9 88.4A4.8 4.8 0 0 0 1099.7 81.6L1080.7 62.6A4.8 4.8 0 0 0 1073.9 69.4ZM1091.5 85L1091.5 141.2A4.8 4.8 0 0 0 1101 141.2L1101 85A4.8 4.8 0 0 0 1091.5 85ZM1092.9 137.8L1065.6 165.1A4.8 4.8 0 0 0 1072.4 171.9L1099.7 144.6A4.8 4.8 0 0 0 1092.9 137.8Z" fill="none" stroke="rgba(255,16,16,0.85)" stroke-width="0.8"/><path d="M1209.6 18.1L1235.9 44.4A4.8 4.8 0 0 0 1242.7 37.6L1216.4 11.3A4.8 4.8 0 0 0 1209.6 18.1Z" fill="rgba(255,0,0,0.60)"/><path d="M1234.5 41L1234.5 141A4.8 4.8 0 0 0 1244 141L1244 41A4.8 4.8 0 0 0 1234.5 41Z" fill="rgba(255,0,0,0.60)"/><path d="M1235.9 137.7L1208.6 165.2A4.8 4.8 0 0 0 1215.4 171.8L1242.7 144.3A4.8 4.8 0 0 0 1235.9 137.7Z" fill="rgba(255,0,0,0.60)"/><path d="M1209.6 18.1L1235.9 44.4A4.8 4.8 0 0 0 1242.7 37.6L1216.4 11.3A4.8 4.8 0 0 0 1209.6 18.1ZM1234.5 41L1234.5 141A4.8 4.8 0 0 0 1244 141L1244 41A4.8 4.8 0 0 0 1234.5 41ZM1235.9 137.7L1208.6 165.2A4.8 4.8 0 0 0 1215.4 171.8L1242.7 144.3A4.8 4.8 0 0 0 1235.9 137.7Z" fill="none" stroke="rgba(255,16,16,0.85)" stroke-width="0.8"/><path d="M1063.5 168.5L1063.5 228A5.5 5.5 0 0 0 1074.5 228L1074.5 168.5A5.5 5.5 0 0 0 1063.5 168.5Z" fill="rgba(255,0,0,0.60)"/><path d="M1063.5 168.5L1063.5 228A5.5 5.5 0 0 0 1074.5 228L1074.5 168.5A5.5 5.5 0 0 0 1063.5 168.5Z" fill="none" stroke="rgba(255,16,16,0.85)" stroke-width="0.8"/><path d="M1063.5 300L1063.5 359A5.5 5.5 0 0 0 1074.5 359L1074.5 300A5.5 5.5 0 0 0 1063.5 300Z" fill="rgba(255,0,0,0.60)"/><path d="M1063.5 300L1063.5 359A5.5 5.5 0 0 0 1074.5 359L1074.5 300A5.5 5.5 0 0 0 1063.5 300Z" fill="none" stroke="rgba(255,16,16,0.85)" stroke-width="0.8"/><path d="M1135.1 168.5L1135.1 228A5.5 5.5 0 0 0 1146.1 228L1146.1 168.5A5.5 5.5 0 0 0 1135.1 168.5Z" fill="rgba(255,0,0,0.60)"/><path d="M1135.1 168.5L1135.1 228A5.5 5.5 0 0 0 1146.1 228L1146.1 168.5A5.5 5.5 0 0 0 1135.1 168.5Z" fill="none" stroke="rgba(255,16,16,0.85)" stroke-width="0.8"/><path d="M1135.1 300L1135.1 359A5.5 5.5 0 0 0 1146.1 359L1146.1 300A5.5 5.5 0 0 0 1135.1 300Z" fill="rgba(255,0,0,0.60)"/><path d="M1135.1 300L1135.1 359A5.5 5.5 0 0 0 1146.1 359L1146.1 300A5.5 5.5 0 0 0 1135.1 300Z" fill="none" stroke="rgba(255,16,16,0.85)" stroke-width="0.8"/><path d="M1206.5 168.5L1206.5 228A5.5 5.5 0 0 0 1217.5 228L1217.5 168.5A5.5 5.5 0 0 0 1206.5 168.5Z" fill="rgba(255,0,0,0.60)"/><path d="M1206.5 168.5L1206.5 228A5.5 5.5 0 0 0 1217.5 228L1217.5 168.5A5.5 5.5 0 0 0 1206.5 168.5Z" fill="none" stroke="rgba(255,16,16,0.85)" stroke-width="0.8"/><path d="M1206.5 300L1206.5 359A5.5 5.5 0 0 0 1217.5 359L1217.5 300A5.5 5.5 0 0 0 1206.5 300Z" fill="rgba(255,0,0,0.60)"/><path d="M1206.5 300L1206.5 359A5.5 5.5 0 0 0 1217.5 359L1217.5 300A5.5 5.5 0 0 0 1206.5 300Z" fill="none" stroke="rgba(255,16,16,0.85)" stroke-width="0.8"/><path d="M1065.6 362.3L1092.6 390.7A4.8 4.8 0 0 0 1099.4 384.1L1072.4 355.7A4.8 4.8 0 0 0 1065.6 362.3Z" fill="rgba(255,0,0,0.60)"/><path d="M1091.2 387.4L1091.2 422.5A4.8 4.8 0 0 0 1100.8 422.5L1100.8 387.4A4.8 4.8 0 0 0 1091.2 387.4Z" fill="rgba(255,0,0,0.60)"/><path d="M1092.7 425.9L1121.3 454.2A4.8 4.8 0 0 0 1127.9 447.4L1099.3 419.1A4.8 4.8 0 0 0 1092.7 425.9Z" fill="rgba(255,0,0,0.60)"/><path d="M1119.8 450.8L1119.8 521.4A4.8 4.8 0 0 0 1129.3 521.4L1129.3 450.8A4.8 4.8 0 0 0 1119.8 450.8Z" fill="rgba(255,0,0,0.60)"/><path d="M1121 524.5L1136.8 543.1A4.8 4.8 0 0 0 1144 536.9L1128.2 518.3A4.8 4.8 0 0 0 1121 524.5Z" fill="rgba(255,0,0,0.60)"/><path d="M1135.7 540L1135.7 588A4.8 4.8 0 0 0 1145.2 588L1145.2 540A4.8 4.8 0 0 0 1135.7 540Z" fill="rgba(255,0,0,0.60)"/><path d="M1065.6 362.3L1092.6 390.7A4.8 4.8 0 0 0 1099.4 384.1L1072.4 355.7A4.8 4.8 0 0 0 1065.6 362.3ZM1091.2 387.4L1091.2 422.5A4.8 4.8 0 0 0 1100.8 422.5L1100.8 387.4A4.8 4.8 0 0 0 1091.2 387.4ZM1092.7 425.9L1121.3 454.2A4.8 4.8 0 0 0 1127.9 447.4L1099.3 419.1A4.8 4.8 0 0 0 1092.7 425.9ZM1119.8 450.8L1119.8 521.4A4.8 4.8 0 0 0 1129.3 521.4L1129.3 450.8A4.8 4.8 0 0 0 1119.8 450.8ZM1121 524.5L1136.8 543.1A4.8 4.8 0 0 0 1144 536.9L1128.2 518.3A4.8 4.8 0 0 0 1121 524.5ZM1135.7 540L1135.7 588A4.8 4.8 0 0 0 1145.2 588L1145.2 540A4.8 4.8 0 0 0 1135.7 540Z" fill="none" stroke="rgba(255,16,16,0.85)" stroke-width="0.8"/><path d="M1121.2 473.1L1107.4 487.2A4.8 4.8 0 0 0 1114.2 493.8L1128 479.7A4.8 4.8 0 0 0 1121.2 473.1Z" fill="rgba(255,0,0,0.60)"/><path d="M1107.4 493.8L1121.2 507.8A4.8 4.8 0 0 0 1128 501.2L1114.2 487.2A4.8 4.8 0 0 0 1107.4 493.8Z" fill="rgba(255,0,0,0.60)"/><path d="M1121.2 473.1L1107.4 487.2A4.8 4.8 0 0 0 1114.2 493.8L1128 479.7A4.8 4.8 0 0 0 1121.2 473.1ZM1107.4 493.8L1121.2 507.8A4.8 4.8 0 0 0 1128 501.2L1114.2 487.2A4.8 4.8 0 0 0 1107.4 493.8Z" fill="none" stroke="rgba(255,16,16,0.85)" stroke-width="0.8"/><path d="M1137.2 355.7L1109.6 384.1A4.8 4.8 0 0 0 1116.4 390.7L1144 362.3A4.8 4.8 0 0 0 1137.2 355.7Z" fill="rgba(255,0,0,0.60)"/><path d="M1108.2 387.4L1108.2 415.2A4.8 4.8 0 0 0 1117.8 415.2L1117.8 387.4A4.8 4.8 0 0 0 1108.2 387.4Z" fill="rgba(255,0,0,0.60)"/><path d="M1109.6 418.6L1138.3 447.2A4.8 4.8 0 0 0 1145.1 440.4L1116.4 411.8A4.8 4.8 0 0 0 1109.6 418.6Z" fill="rgba(255,0,0,0.60)"/><path d="M1137 443.8L1137 512.5A4.8 4.8 0 0 0 1146.5 512.5L1146.5 443.8A4.8 4.8 0 0 0 1137 443.8Z" fill="rgba(255,0,0,0.60)"/><path d="M1138.3 515.9L1160.8 538.4A4.8 4.8 0 0 0 1167.6 531.6L1145.1 509.1A4.8 4.8 0 0 0 1138.3 515.9Z" fill="rgba(255,0,0,0.60)"/><path d="M1159.5 535L1159.5 588A4.8 4.8 0 0 0 1169 588L1169 535A4.8 4.8 0 0 0 1159.5 535Z" fill="rgba(255,0,0,0.60)"/><path d="M1137.2 355.7L1109.6 384.1A4.8 4.8 0 0 0 1116.4 390.7L1144 362.3A4.8 4.8 0 0 0 1137.2 355.7ZM1108.2 387.4L1108.2 415.2A4.8 4.8 0 0 0 1117.8 415.2L1117.8 387.4A4.8 4.8 0 0 0 1108.2 387.4ZM1109.6 418.6L1138.3 447.2A4.8 4.8 0 0 0 1145.1 440.4L1116.4 411.8A4.8 4.8 0 0 0 1109.6 418.6ZM1137 443.8L1137 512.5A4.8 4.8 0 0 0 1146.5 512.5L1146.5 443.8A4.8 4.8 0 0 0 1137 443.8ZM1138.3 515.9L1160.8 538.4A4.8 4.8 0 0 0 1167.6 531.6L1145.1 509.1A4.8 4.8 0 0 0 1138.3 515.9ZM1159.5 535L1159.5 588A4.8 4.8 0 0 0 1169 588L1169 535A4.8 4.8 0 0 0 1159.5 535Z" fill="none" stroke="rgba(255,16,16,0.85)" stroke-width="0.8"/><path d="M1138.2 479.7L1151.5 493.8A4.8 4.8 0 0 0 1158.5 487.2L1145.2 473.1A4.8 4.8 0 0 0 1138.2 479.7Z" fill="rgba(255,0,0,0.60)"/><path d="M1151.6 487.2L1138.3 501.2A4.8 4.8 0 0 0 1145.1 507.8L1158.4 493.8A4.8 4.8 0 0 0 1151.6 487.2Z" fill="rgba(255,0,0,0.60)"/><path d="M1138.2 479.7L1151.5 493.8A4.8 4.8 0 0 0 1158.5 487.2L1145.2 473.1A4.8 4.8 0 0 0 1138.2 479.7ZM1151.6 487.2L1138.3 501.2A4.8 4.8 0 0 0 1145.1 507.8L1158.4 493.8A4.8 4.8 0 0 0 1151.6 487.2Z" fill="none" stroke="rgba(255,16,16,0.85)" stroke-width="0.8"/><path d="M1208.5 362.3L1235.3 390.7A4.8 4.8 0 0 0 1242.3 384.1L1215.5 355.7A4.8 4.8 0 0 0 1208.5 362.3Z" fill="rgba(255,0,0,0.60)"/><path d="M1234 387.4L1234 415.2A4.8 4.8 0 0 0 1243.5 415.2L1243.5 387.4A4.8 4.8 0 0 0 1234 387.4Z" fill="rgba(255,0,0,0.60)"/><path d="M1235.4 411.9L1207.1 440.5A4.8 4.8 0 0 0 1213.9 447.1L1242.2 418.5A4.8 4.8 0 0 0 1235.4 411.9Z" fill="rgba(255,0,0,0.60)"/><path d="M1205.8 443.8L1205.8 516A4.8 4.8 0 0 0 1215.2 516L1215.2 443.8A4.8 4.8 0 0 0 1205.8 443.8Z" fill="rgba(255,0,0,0.60)"/><path d="M1207.1 512.6L1184.6 535.1A4.8 4.8 0 0 0 1191.4 541.9L1213.9 519.4A4.8 4.8 0 0 0 1207.1 512.6Z" fill="rgba(255,0,0,0.60)"/><path d="M1183.2 538.5L1183.2 588A4.8 4.8 0 0 0 1192.8 588L1192.8 538.5A4.8 4.8 0 0 0 1183.2 538.5Z" fill="rgba(255,0,0,0.60)"/><path d="M1208.5 362.3L1235.3 390.7A4.8 4.8 0 0 0 1242.3 384.1L1215.5 355.7A4.8 4.8 0 0 0 1208.5 362.3ZM1234 387.4L1234 415.2A4.8 4.8 0 0 0 1243.5 415.2L1243.5 387.4A4.8 4.8 0 0 0 1234 387.4ZM1235.4 411.9L1207.1 440.5A4.8 4.8 0 0 0 1213.9 447.1L1242.2 418.5A4.8 4.8 0 0 0 1235.4 411.9ZM1205.8 443.8L1205.8 516A4.8 4.8 0 0 0 1215.2 516L1215.2 443.8A4.8 4.8 0 0 0 1205.8 443.8ZM1207.1 512.6L1184.6 535.1A4.8 4.8 0 0 0 1191.4 541.9L1213.9 519.4A4.8 4.8 0 0 0 1207.1 512.6ZM1183.2 538.5L1183.2 588A4.8 4.8 0 0 0 1192.8 588L1192.8 538.5A4.8 4.8 0 0 0 1183.2 538.5Z" fill="none" stroke="rgba(255,16,16,0.85)" stroke-width="0.8"/><path d="M1207.1 473.1L1193.6 487.2A4.8 4.8 0 0 0 1200.4 493.8L1213.9 479.7A4.8 4.8 0 0 0 1207.1 473.1Z" fill="rgba(255,0,0,0.60)"/><path d="M1193.6 493.8L1207.1 507.8A4.8 4.8 0 0 0 1213.9 501.2L1200.4 487.2A4.8 4.8 0 0 0 1193.6 493.8Z" fill="rgba(255,0,0,0.60)"/><path d="M1207.1 473.1L1193.6 487.2A4.8 4.8 0 0 0 1200.4 493.8L1213.9 479.7A4.8 4.8 0 0 0 1207.1 473.1ZM1193.6 493.8L1207.1 507.8A4.8 4.8 0 0 0 1213.9 501.2L1200.4 487.2A4.8 4.8 0 0 0 1193.6 493.8Z" fill="none" stroke="rgba(255,16,16,0.85)" stroke-width="0.8"/><path d="M1266.6 404.6L1223.8 447.4A4.8 4.8 0 0 0 1230.6 454.2L1273.4 411.4A4.8 4.8 0 0 0 1266.6 404.6Z" fill="rgba(255,0,0,0.60)"/><path d="M1222.5 450.8L1222.5 521.4A4.8 4.8 0 0 0 1232 521.4L1232 450.8A4.8 4.8 0 0 0 1222.5 450.8Z" fill="rgba(255,0,0,0.60)"/><path d="M1223.8 518.1L1208.4 533.7A4.8 4.8 0 0 0 1215.2 540.3L1230.6 524.7A4.8 4.8 0 0 0 1223.8 518.1Z" fill="rgba(255,0,0,0.60)"/><path d="M1207 537L1207 588A4.8 4.8 0 0 0 1216.5 588L1216.5 537A4.8 4.8 0 0 0 1207 537Z" fill="rgba(255,0,0,0.60)"/><path d="M1266.6 404.6L1223.8 447.4A4.8 4.8 0 0 0 1230.6 454.2L1273.4 411.4A4.8 4.8 0 0 0 1266.6 404.6ZM1222.5 450.8L1222.5 521.4A4.8 4.8 0 0 0 1232 521.4L1232 450.8A4.8 4.8 0 0 0 1222.5 450.8ZM1223.8 518.1L1208.4 533.7A4.8 4.8 0 0 0 1215.2 540.3L1230.6 524.7A4.8 4.8 0 0 0 1223.8 518.1ZM1207 537L1207 588A4.8 4.8 0 0 0 1216.5 588L1216.5 537A4.8 4.8 0 0 0 1207 537Z" fill="none" stroke="rgba(255,16,16,0.85)" stroke-width="0.8"/><path d="M1223.7 479.6L1236.5 493.7A4.8 4.8 0 0 0 1243.5 487.3L1230.7 473.2A4.8 4.8 0 0 0 1223.7 479.6Z" fill="rgba(255,0,0,0.60)"/><path d="M1236.5 487.3L1223.7 501.3A4.8 4.8 0 0 0 1230.7 507.7L1243.5 493.7A4.8 4.8 0 0 0 1236.5 487.3Z" fill="rgba(255,0,0,0.60)"/><path d="M1223.7 479.6L1236.5 493.7A4.8 4.8 0 0 0 1243.5 487.3L1230.7 473.2A4.8 4.8 0 0 0 1223.7 479.6ZM1236.5 487.3L1223.7 501.3A4.8 4.8 0 0 0 1230.7 507.7L1243.5 493.7A4.8 4.8 0 0 0 1236.5 487.3Z" fill="none" stroke="rgba(255,16,16,0.85)" stroke-width="0.8"/><path d="M1266.6 511.2L1232.2 545.6A4.8 4.8 0 0 0 1239 552.4L1273.4 518A4.8 4.8 0 0 0 1266.6 511.2Z" fill="rgba(255,0,0,0.60)"/><path d="M1230.8 549L1230.8 588A4.8 4.8 0 0 0 1240.3 588L1240.3 549A4.8 4.8 0 0 0 1230.8 549Z" fill="rgba(255,0,0,0.60)"/><path d="M1266.6 511.2L1232.2 545.6A4.8 4.8 0 0 0 1239 552.4L1273.4 518A4.8 4.8 0 0 0 1266.6 511.2ZM1230.8 549L1230.8 588A4.8 4.8 0 0 0 1240.3 588L1240.3 549A4.8 4.8 0 0 0 1230.8 549Z" fill="none" stroke="rgba(255,16,16,0.85)" stroke-width="0.8"/><path d="M1003.6 490.2L1004.4 556.3A5.5 5.5 0 0 0 1015.4 556.1L1014.6 490A5.5 5.5 0 0 0 1003.6 490.2Z" fill="rgba(255,0,0,0.60)"/><path d="M1006 560.1L1057.6 611.7A5.5 5.5 0 0 0 1065.4 603.9L1013.8 552.3A5.5 5.5 0 0 0 1006 560.1Z" fill="rgba(255,0,0,0.60)"/><path d="M1003.6 490.2L1004.4 556.3A5.5 5.5 0 0 0 1015.4 556.1L1014.6 490A5.5 5.5 0 0 0 1003.6 490.2ZM1006 560.1L1057.6 611.7A5.5 5.5 0 0 0 1065.4 603.9L1013.8 552.3A5.5 5.5 0 0 0 1006 560.1Z" fill="none" stroke="rgba(255,16,16,0.85)" stroke-width="0.8"/><path d="M1051.5 478L1051.5 532.1A5.5 5.5 0 0 0 1062.5 532.1L1062.5 478A5.5 5.5 0 0 0 1051.5 478Z" fill="rgba(255,0,0,0.60)"/><path d="M1053.1 536L1077 559.9A5.5 5.5 0 0 0 1084.8 552.1L1060.9 528.2A5.5 5.5 0 0 0 1053.1 536Z" fill="rgba(255,0,0,0.60)"/><path d="M1080.9 561.5L1086 561.5A5.5 5.5 0 0 0 1086 550.5L1080.9 550.5A5.5 5.5 0 0 0 1080.9 561.5Z" fill="rgba(255,0,0,0.60)"/><path d="M1082.1 559.8L1088.9 566.8A5.5 5.5 0 0 0 1096.7 559.2L1089.9 552.2A5.5 5.5 0 0 0 1082.1 559.8Z" fill="rgba(255,0,0,0.60)"/><path d="M1087.3 563L1087.3 588A5.5 5.5 0 0 0 1098.3 588L1098.3 563A5.5 5.5 0 0 0 1087.3 563Z" fill="rgba(255,0,0,0.60)"/><path d="M1051.5 478L1051.5 532.1A5.5 5.5 0 0 0 1062.5 532.1L1062.5 478A5.5 5.5 0 0 0 1051.5 478ZM1053.1 536L1077 559.9A5.5 5.5 0 0 0 1084.8 552.1L1060.9 528.2A5.5 5.5 0 0 0 1053.1 536ZM1080.9 561.5L1086 561.5A5.5 5.5 0 0 0 1086 550.5L1080.9 550.5A5.5 5.5 0 0 0 1080.9 561.5ZM1082.1 559.8L1088.9 566.8A5.5 5.5 0 0 0 1096.7 559.2L1089.9 552.2A5.5 5.5 0 0 0 1082.1 559.8ZM1087.3 563L1087.3 588A5.5 5.5 0 0 0 1098.3 588L1098.3 563A5.5 5.5 0 0 0 1087.3 563Z" fill="none" stroke="rgba(255,16,16,0.85)" stroke-width="0.8"/><path d="M1088.4 529.7L1112.7 553.9A5.5 5.5 0 0 0 1120.5 546.1L1096.2 521.9A5.5 5.5 0 0 0 1088.4 529.7Z" fill="rgba(255,0,0,0.60)"/><path d="M1111.1 550L1111.1 588A5.5 5.5 0 0 0 1122.1 588L1122.1 550A5.5 5.5 0 0 0 1111.1 550Z" fill="rgba(255,0,0,0.60)"/><path d="M1088.4 529.7L1112.7 553.9A5.5 5.5 0 0 0 1120.5 546.1L1096.2 521.9A5.5 5.5 0 0 0 1088.4 529.7ZM1111.1 550L1111.1 588A5.5 5.5 0 0 0 1122.1 588L1122.1 550A5.5 5.5 0 0 0 1111.1 550Z" fill="none" stroke="rgba(255,16,16,0.85)" stroke-width="0.8"/><path d="M592.7 591.3L641.2 591.3A6 6 0 0 0 641.2 579.3L592.7 579.3A6 6 0 0 0 592.7 591.3Z" fill="rgba(255,0,0,0.60)"/><path d="M635.2 585.3L635.2 613A6 6 0 0 0 647.2 613L647.2 585.3A6 6 0 0 0 635.2 585.3Z" fill="rgba(255,0,0,0.60)"/><path d="M636.9 608.8L609.7 636.4A6 6 0 0 0 618.3 644.8L645.5 617.2A6 6 0 0 0 636.9 608.8Z" fill="rgba(255,0,0,0.60)"/><path d="M608 640.6L608 659A6 6 0 0 0 620 659L620 640.6A6 6 0 0 0 608 640.6Z" fill="rgba(255,0,0,0.60)"/><path d="M592.7 591.3L641.2 591.3A6 6 0 0 0 641.2 579.3L592.7 579.3A6 6 0 0 0 592.7 591.3ZM635.2 585.3L635.2 613A6 6 0 0 0 647.2 613L647.2 585.3A6 6 0 0 0 635.2 585.3ZM636.9 608.8L609.7 636.4A6 6 0 0 0 618.3 644.8L645.5 617.2A6 6 0 0 0 636.9 608.8ZM608 640.6L608 659A6 6 0 0 0 620 659L620 640.6A6 6 0 0 0 608 640.6Z" fill="none" stroke="rgba(255,16,16,0.85)" stroke-width="0.8"/><path d="M705.8 585.2L705.8 606.8A6 6 0 0 0 717.8 606.8L717.8 585.2A6 6 0 0 0 705.8 585.2Z" fill="rgba(255,0,0,0.60)"/><path d="M707.5 602.7L672.2 639.6A6 6 0 0 0 680.8 647.8L716.1 610.9A6 6 0 0 0 707.5 602.7Z" fill="rgba(255,0,0,0.60)"/><path d="M670.5 643.7L670.5 690A6 6 0 0 0 682.5 690L682.5 643.7A6 6 0 0 0 670.5 643.7Z" fill="rgba(255,0,0,0.60)"/><path d="M705.8 585.2L705.8 606.8A6 6 0 0 0 717.8 606.8L717.8 585.2A6 6 0 0 0 705.8 585.2ZM707.5 602.7L672.2 639.6A6 6 0 0 0 680.8 647.8L716.1 610.9A6 6 0 0 0 707.5 602.7ZM670.5 643.7L670.5 690A6 6 0 0 0 682.5 690L682.5 643.7A6 6 0 0 0 670.5 643.7Z" fill="none" stroke="rgba(255,16,16,0.85)" stroke-width="0.8"/><path d="M738 665L774 665A6 6 0 0 0 774 653L738 653A6 6 0 0 0 738 665Z" fill="rgba(255,0,0,0.60)"/><path d="M769.7 663.2L778.9 672.5A6 6 0 0 0 787.5 664.1L778.3 654.8A6 6 0 0 0 769.7 663.2Z" fill="rgba(255,0,0,0.60)"/><path d="M783.2 674.3L858 674.3A6 6 0 0 0 858 662.3L783.2 662.3A6 6 0 0 0 783.2 674.3Z" fill="rgba(255,0,0,0.60)"/><path d="M853.8 672.6L861.8 680.3A6 6 0 0 0 870.2 671.7L862.2 664A6 6 0 0 0 853.8 672.6Z" fill="rgba(255,0,0,0.60)"/><path d="M866 682L893 682A6 6 0 0 0 893 670L866 670A6 6 0 0 0 866 682Z" fill="rgba(255,0,0,0.60)"/><path d="M738 665L774 665A6 6 0 0 0 774 653L738 653A6 6 0 0 0 738 665ZM769.7 663.2L778.9 672.5A6 6 0 0 0 787.5 664.1L778.3 654.8A6 6 0 0 0 769.7 663.2ZM783.2 674.3L858 674.3A6 6 0 0 0 858 662.3L783.2 662.3A6 6 0 0 0 783.2 674.3ZM853.8 672.6L861.8 680.3A6 6 0 0 0 870.2 671.7L862.2 664A6 6 0 0 0 853.8 672.6ZM866 682L893 682A6 6 0 0 0 893 670L866 670A6 6 0 0 0 866 682Z" fill="none" stroke="rgba(255,16,16,0.85)" stroke-width="0.8"/><path d="M854.7 610.5L889 610.5A6 6 0 0 0 889 598.5L854.7 598.5A6 6 0 0 0 854.7 610.5Z" fill="rgba(255,0,0,0.60)"/><path d="M854.7 610.5L889 610.5A6 6 0 0 0 889 598.5L854.7 598.5A6 6 0 0 0 854.7 610.5Z" fill="none" stroke="rgba(255,16,16,0.85)" stroke-width="0.8"/><path d="M1062 662.8L1139.4 662.8A6 6 0 0 0 1139.4 650.8L1062 650.8A6 6 0 0 0 1062 662.8Z" fill="rgba(255,0,0,0.60)"/><path d="M1135.2 661L1147.2 673A6 6 0 0 0 1155.6 664.6L1143.6 652.6A6 6 0 0 0 1135.2 661Z" fill="rgba(255,0,0,0.60)"/><path d="M1062 662.8L1139.4 662.8A6 6 0 0 0 1139.4 650.8L1062 650.8A6 6 0 0 0 1062 662.8ZM1135.2 661L1147.2 673A6 6 0 0 0 1155.6 664.6L1143.6 652.6A6 6 0 0 0 1135.2 661Z" fill="none" stroke="rgba(255,16,16,0.85)" stroke-width="0.8"/><path d="M1203.2 673L1219.2 657A6 6 0 0 0 1210.8 648.6L1194.8 664.6A6 6 0 0 0 1203.2 673Z" fill="rgba(255,0,0,0.60)"/><path d="M1203.2 673L1219.2 657A6 6 0 0 0 1210.8 648.6L1194.8 664.6A6 6 0 0 0 1203.2 673Z" fill="none" stroke="rgba(255,16,16,0.85)" stroke-width="0.8"/><path d="M1239.8 637L1259.2 617.6A6 6 0 0 0 1250.8 609.2L1231.4 628.6A6 6 0 0 0 1239.8 637Z" fill="rgba(255,0,0,0.60)"/><path d="M1239.8 637L1259.2 617.6A6 6 0 0 0 1250.8 609.2L1231.4 628.6A6 6 0 0 0 1239.8 637Z" fill="none" stroke="rgba(255,16,16,0.85)" stroke-width="0.8"/></g>
<path d="M200 37V680M223.8 37V680M247.6 37V680M271.4 37V680M295.2 37V680M319 37V680M342.8 37V680M366.6 37V680M390.4 37V680M414.2 37V680M438 37V680M461.8 37V680M485.6 37V680M509.4 37V680M533.2 37V680M557 37V680M580.8 37V680M604.6 37V680M628.4 37V680M652.2 37V680M676 37V680M699.8 37V680M723.6 37V680M747.4 37V680M771.2 37V680M795 37V680M818.8 37V680M842.6 37V680M866.4 37V680M890.2 37V680M914 37V680M937.8 37V680M961.6 37V680M985.4 37V680M1009.2 37V680M1033 37V680M1056.8 37V680M1080.6 37V680M1104.4 37V680M1128.2 37V680M1152 37V680M1175.8 37V680M1199.6 37V680M1223.4 37V680M1247.2 37V680M196 49.7H1248M196 73.5H1248M196 97.3H1248M196 121.1H1248M196 144.9H1248M196 168.7H1248M196 192.5H1248M196 216.3H1248M196 240.1H1248M196 263.9H1248M196 287.7H1248M196 311.5H1248M196 335.3H1248M196 359.1H1248M196 382.9H1248M196 406.7H1248M196 430.5H1248M196 454.3H1248M196 478.1H1248M196 501.9H1248M196 525.7H1248M196 549.5H1248M196 573.3H1248M196 597.1H1248M196 620.9H1248M196 644.7H1248M196 668.5H1248" stroke="rgba(255,255,255,0.115)" stroke-width="1" fill="none"/>
<g id="doc" fill="none" stroke="rgba(185,185,185,0.42)" stroke-width="1"><rect x="441.7" y="0" width="254.5" height="93.7"/><rect x="441.7" y="172.2" width="254.5" height="206.5"/><rect x="502.7" y="184.4" width="132.8" height="182.3"/><rect x="262" y="115.6" width="135" height="59.4"/><path d="M549.6 53.6V80M549.6 66.4H587.3M560 36L574.6 47.2V36"/><path d="M502.7 232L550.2 184.4M502.7 69V81.7H635.3V69"/><rect x="276.3" y="47.4" width="86.4" height="52.3"/><rect x="276.3" y="166" width="86.4" height="52.5"/><rect x="276.3" y="237" width="86.4" height="53.6"/><rect x="296" y="63" width="46" height="22"/><rect x="296" y="181" width="46" height="23"/><rect x="296" y="252" width="46" height="24"/><rect x="276" y="329.6" width="134.3" height="58.9"/><rect x="300" y="345" width="86" height="28"/><rect x="258.5" y="390.5" width="169.9" height="199.7"/><path d="M271.5 448H416V531.5H271.5ZM271.5 483L318 531.5"/><path d="M196 423H254V556.2H196"/><rect x="205" y="473.6" width="38" height="33.4"/><rect x="716.6" y="67" width="133.2" height="60"/><rect x="859.9" y="67" width="133.1" height="60"/><rect x="767" y="79" width="32" height="36"/><rect x="910" y="79" width="33" height="36"/><rect x="716.6" y="138" width="133.2" height="60.6"/><rect x="859.9" y="138" width="133.1" height="60.6"/><rect x="767" y="150" width="32" height="36.6"/><rect x="910" y="150" width="33" height="36.6"/><rect x="716.6" y="353" width="133.2" height="60"/><rect x="859.9" y="353" width="133.1" height="60"/><rect x="767" y="365" width="32" height="36"/><rect x="910" y="365" width="33" height="36"/><path d="M716.6 37V57H777.5V37M796 37V57H913.3V37M931 37V57H993V37"/><rect x="717.6" y="209.6" width="59.9" height="133.4"/><rect x="729.7" y="259" width="36.3" height="33.2"/><rect x="796" y="207.6" width="117.3" height="64.9"/><rect x="816" y="221" width="77" height="38"/><rect x="796" y="279" width="117.3" height="65"/><rect x="816" y="292" width="77" height="39"/><rect x="931" y="209.6" width="62" height="133.4"/><rect x="943" y="259.5" width="37.6" height="31.5"/><rect x="1044" y="139" width="122" height="60"/><rect x="1188" y="139" width="112" height="60"/><rect x="1064" y="155" width="82" height="28"/><rect x="1206" y="155" width="94" height="28"/><rect x="1044" y="328.5" width="122" height="61.5"/><rect x="1188" y="328.5" width="112" height="61.5"/><rect x="1064" y="344.5" width="82" height="29.5"/><rect x="1206" y="344.5" width="94" height="29.5"/><rect x="1035.5" y="204.6" width="67.3" height="118.4"/><rect x="1050.5" y="240.9" width="37.3" height="46.4"/><rect x="1107" y="204.6" width="67" height="118.4"/><rect x="1122" y="240.9" width="37" height="46.4"/><rect x="1178.3" y="204.6" width="67.7" height="118.4"/><rect x="1193.3" y="240.9" width="37.7" height="46.4"/><rect x="1092" y="466" width="83" height="48"/><rect x="1178" y="466" width="122" height="48"/><rect x="609.8" y="555.5" width="133.4" height="59"/><rect x="621.5" y="566" width="109.5" height="38"/><path d="M576 619.7H776V680M634.5 680V631.4H718.5V680M634.5 680L676 636"/><path d="M776 637H837V680"/><rect x="860.5" y="573.6" width="59.7" height="126.4"/><rect x="872.7" y="623" width="35.1" height="33.2"/><path d="M980 680V639.7H1048M1033.3 600V549.2H1097M1062 600V578H1090"/></g>
<g id="labels"><text x="0" y="0" transform="translate(569 301) rotate(-90) scale(1.06 1)" font-size="53" text-anchor="middle" dominant-baseline="central" font-weight="200" fill="rgba(200,200,200,0.27)" stroke="none">T402</text><text x="0" y="0" transform="translate(309.5 74) scale(0.8 1)" font-size="21" text-anchor="middle" dominant-baseline="central" font-weight="200" fill="rgba(200,200,200,0.4)" stroke="none">C404</text><text x="0" y="0" transform="translate(309.5 192.5) scale(0.8 1)" font-size="21" text-anchor="middle" dominant-baseline="central" font-weight="200" fill="rgba(200,200,200,0.4)" stroke="none">C402</text><text x="0" y="0" transform="translate(309.5 264) scale(0.8 1)" font-size="21" text-anchor="middle" dominant-baseline="central" font-weight="200" fill="rgba(200,200,200,0.4)" stroke="none">C401</text><text x="0" y="0" transform="translate(337 359) scale(1.0 1)" font-size="20.5" text-anchor="middle" dominant-baseline="central" font-weight="200" fill="rgba(200,200,200,0.4)" stroke="none">C502</text><text x="0" y="0" transform="translate(357 490) scale(0.94 1)" font-size="40" text-anchor="middle" dominant-baseline="central" font-weight="200" fill="rgba(200,200,200,0.27)" stroke="none">U501</text><text x="0" y="0" transform="translate(224 490) rotate(-90) scale(1.0 1)" font-size="21" text-anchor="middle" dominant-baseline="central" font-weight="200" fill="rgba(200,200,200,0.4)" stroke="none">C501</text><text x="0" y="0" transform="translate(795 97.7) scale(1.05 1)" font-size="20" text-anchor="middle" dominant-baseline="central" font-weight="200" fill="rgba(200,200,200,0.4)" stroke="none">C427</text><text x="0" y="0" transform="translate(916 97.7) scale(1.05 1)" font-size="20" text-anchor="middle" dominant-baseline="central" font-weight="200" fill="rgba(200,200,200,0.4)" stroke="none">C428</text><text x="0" y="0" transform="translate(772.7 168.5) scale(1.02 1)" font-size="20" text-anchor="middle" dominant-baseline="central" font-weight="200" fill="rgba(200,200,200,0.4)" stroke="none">C429</text><text x="0" y="0" transform="translate(934.8 168.5) scale(1.02 1)" font-size="20" text-anchor="middle" dominant-baseline="central" font-weight="200" fill="rgba(200,200,200,0.4)" stroke="none">C430</text><text x="0" y="0" transform="translate(748 266) rotate(-90) scale(1.0 1)" font-size="20" text-anchor="middle" dominant-baseline="central" font-weight="200" fill="rgba(200,200,200,0.4)" stroke="none">C431</text><text x="0" y="0" transform="translate(846.8 240) scale(0.9 1)" font-size="20" text-anchor="middle" dominant-baseline="central" font-weight="200" fill="rgba(200,200,200,0.4)" stroke="none">L403</text><text x="0" y="0" transform="translate(866 311.5) scale(0.98 1)" font-size="20" text-anchor="middle" dominant-baseline="central" font-weight="200" fill="rgba(200,200,200,0.4)" stroke="none">L404</text><text x="0" y="0" transform="translate(962 266) rotate(-90) scale(1.0 1)" font-size="20" text-anchor="middle" dominant-baseline="central" font-weight="200" fill="rgba(200,200,200,0.4)" stroke="none">C432</text><text x="0" y="0" transform="translate(794.8 383) scale(1.05 1)" font-size="20" text-anchor="middle" dominant-baseline="central" font-weight="200" fill="rgba(200,200,200,0.4)" stroke="none">C433</text><text x="0" y="0" transform="translate(915.5 383) scale(1.05 1)" font-size="20" text-anchor="middle" dominant-baseline="central" font-weight="200" fill="rgba(200,200,200,0.4)" stroke="none">C434</text><text x="0" y="0" transform="translate(1117.6 168.5) scale(1.1 1)" font-size="20" text-anchor="middle" dominant-baseline="central" font-weight="200" fill="rgba(200,200,200,0.4)" stroke="none">R602</text><text x="0" y="0" transform="translate(1117.6 359) scale(1.1 1)" font-size="20" text-anchor="middle" dominant-baseline="central" font-weight="200" fill="rgba(200,200,200,0.4)" stroke="none">R607</text><text x="0" y="0" transform="translate(1069.4 274) rotate(-90) scale(0.98 1)" font-size="23" text-anchor="middle" dominant-baseline="central" font-weight="200" fill="rgba(200,200,200,0.4)" stroke="none">R605</text><text x="0" y="0" transform="translate(1140.7 274) rotate(-90) scale(0.98 1)" font-size="23" text-anchor="middle" dominant-baseline="central" font-weight="200" fill="rgba(200,200,200,0.4)" stroke="none">R601</text><text x="0" y="0" transform="translate(1212 274) rotate(-90) scale(0.98 1)" font-size="23" text-anchor="middle" dominant-baseline="central" font-weight="200" fill="rgba(200,200,200,0.4)" stroke="none">R606</text><text x="0" y="0" transform="translate(1240 168.5) scale(1.1 1)" font-size="20" text-anchor="middle" dominant-baseline="central" font-weight="200" fill="rgba(200,200,200,0.4)" stroke="none">R603</text><text x="0" y="0" transform="translate(1240 359) scale(1.1 1)" font-size="20" text-anchor="middle" dominant-baseline="central" font-weight="200" fill="rgba(200,200,200,0.4)" stroke="none">R604</text><text x="0" y="0" transform="translate(1131 490) scale(1.0 1)" font-size="16" text-anchor="middle" dominant-baseline="central" font-weight="200" fill="rgba(200,200,200,0.4)" stroke="none">R608</text><text x="0" y="0" transform="translate(1207 490) scale(1.0 1)" font-size="16" text-anchor="middle" dominant-baseline="central" font-weight="200" fill="rgba(200,200,200,0.4)" stroke="none">R609</text><text x="0" y="0" transform="translate(667 585) scale(1.0 1)" font-size="20" text-anchor="middle" dominant-baseline="central" font-weight="200" fill="rgba(200,200,200,0.4)" stroke="none">C607</text><g transform="translate(325 145) scale(-1 1)"><text x="0" y="0" transform="translate(0 0) scale(1.0 1)" font-size="22" text-anchor="middle" dominant-baseline="central" font-weight="200" fill="rgba(200,200,200,0.4)" stroke="none">C433</text></g><text x="487.5" y="53" font-size="35" text-anchor="middle" dominant-baseline="central" fill="#c9c11f" stroke="#c9c11f" stroke-width="1.8">2</text><text x="487.5" y="217" font-size="35" text-anchor="middle" dominant-baseline="central" fill="#c9c11f" stroke="#c9c11f" stroke-width="1.8">1</text><text x="487.5" y="337.5" font-size="35" text-anchor="middle" dominant-baseline="central" fill="#c9c11f" stroke="#c9c11f" stroke-width="1.8">2</text><text x="650.8" y="53" font-size="35" text-anchor="middle" dominant-baseline="central" fill="#c9c11f" stroke="#c9c11f" stroke-width="1.8">3</text><text x="650.8" y="217" font-size="35" text-anchor="middle" dominant-baseline="central" fill="#c9c11f" stroke="#c9c11f" stroke-width="1.8">5</text><text x="650.8" y="337.5" font-size="35" text-anchor="middle" dominant-baseline="central" fill="#c9c11f" stroke="#c9c11f" stroke-width="1.8">3</text><text x="650.8" y="267.5" font-size="17" text-anchor="middle" dominant-baseline="central" fill="#c9c11f" stroke="#c9c11f" stroke-width="0.9">4</text><text x="650.8" y="284.5" font-size="17" text-anchor="middle" dominant-baseline="central" fill="#c9c11f" stroke="#c9c11f" stroke-width="0.9">GND</text><text x="627" y="121.5" font-size="40" text-anchor="middle" dominant-baseline="central" fill="#c9c11f" stroke="#c9c11f" stroke-width="0.9" transform="rotate(-90 627 121.5)" textLength="118" lengthAdjust="spacingAndGlyphs">+3.8V</text><text x="297.8" y="73.7" font-size="17" text-anchor="middle" dominant-baseline="central" fill="#c9c11f" stroke="#c9c11f" stroke-width="0.9" transform="rotate(-90 297.8 73.7)">1</text><text x="336.2" y="73.7" font-size="8.5" text-anchor="middle" dominant-baseline="central" fill="#c9c11f" stroke="#c9c11f" stroke-width="0.3" transform="rotate(-90 336.2 73.7)">2</text><text x="345.5" y="73.7" font-size="9" text-anchor="middle" dominant-baseline="central" fill="#c9c11f" stroke="#c9c11f" stroke-width="0.3" transform="rotate(-90 345.5 73.7)">GND</text><text x="297.8" y="192.5" font-size="17" text-anchor="middle" dominant-baseline="central" fill="#c9c11f" stroke="#c9c11f" stroke-width="0.9" transform="rotate(-90 297.8 192.5)">1</text><text x="336.2" y="192.5" font-size="8.5" text-anchor="middle" dominant-baseline="central" fill="#c9c11f" stroke="#c9c11f" stroke-width="0.3" transform="rotate(-90 336.2 192.5)">2</text><text x="345.5" y="192.5" font-size="9" text-anchor="middle" dominant-baseline="central" fill="#c9c11f" stroke="#c9c11f" stroke-width="0.3" transform="rotate(-90 345.5 192.5)">GND</text><text x="297.8" y="264" font-size="17" text-anchor="middle" dominant-baseline="central" fill="#c9c11f" stroke="#c9c11f" stroke-width="0.9" transform="rotate(-90 297.8 264)">1</text><text x="336.2" y="264" font-size="8.5" text-anchor="middle" dominant-baseline="central" fill="#c9c11f" stroke="#c9c11f" stroke-width="0.3" transform="rotate(-90 336.2 264)">2</text><text x="345.5" y="264" font-size="9" text-anchor="middle" dominant-baseline="central" fill="#c9c11f" stroke="#c9c11f" stroke-width="0.3" transform="rotate(-90 345.5 264)">GND</text><text x="366.5" y="137" font-size="19" text-anchor="middle" dominant-baseline="central" fill="#5c9ccc" stroke="#5c9ccc" stroke-width="1">2</text><text x="366.5" y="155" font-size="14.5" text-anchor="middle" dominant-baseline="central" fill="#5c9ccc" stroke="#5c9ccc" stroke-width="0.7">GND</text><text x="362" y="73.7" font-size="11" text-anchor="middle" dominant-baseline="central" fill="#3a86bc" transform="rotate(-90 362 73.7)">2</text><text x="373" y="73.7" font-size="11" text-anchor="middle" dominant-baseline="central" fill="#3a86bc" transform="rotate(-90 373 73.7)">GND</text><text x="221" y="181" font-size="12.5" text-anchor="middle" dominant-baseline="central" fill="#c9c11f" stroke="#c9c11f" stroke-width="0.4">GND</text><text x="212" y="93" font-size="5" text-anchor="middle" dominant-baseline="central" fill="#c9c11f" stroke="#c9c11f" stroke-width="0.1" transform="rotate(-45 212 93)">GND</text><text x="212" y="284" font-size="5" text-anchor="middle" dominant-baseline="central" fill="#c9c11f" stroke="#c9c11f" stroke-width="0.1" transform="rotate(-45 212 284)">GND</text><text x="352" y="290" font-size="5" text-anchor="middle" dominant-baseline="central" fill="#c9c11f" stroke="#c9c11f" stroke-width="0.1" transform="rotate(45 352 290)">GND</text><text x="350" y="470" font-size="5" text-anchor="middle" dominant-baseline="central" fill="#c9c11f" stroke="#c9c11f" stroke-width="0.1" transform="rotate(60 350 470)">GND</text><text x="307.2" y="351" font-size="18" text-anchor="middle" dominant-baseline="central" fill="#c9c11f" stroke="#c9c11f" stroke-width="0.9">1</text><text x="307.2" y="368" font-size="4" text-anchor="middle" dominant-baseline="central" fill="#c9c11f" stroke="#c9c11f" stroke-width="0.1">+3.8V_DAC_AVDD</text><text x="378.7" y="351" font-size="18" text-anchor="middle" dominant-baseline="central" fill="#c9c11f" stroke="#c9c11f" stroke-width="0.9">2</text><text x="378.7" y="368.5" font-size="12.5" text-anchor="middle" dominant-baseline="central" fill="#c9c11f" stroke="#c9c11f" stroke-width="0.4">GND</text><text x="360.3" y="395" font-size="13" text-anchor="middle" dominant-baseline="central" fill="#c9c11f" stroke="#c9c11f" stroke-width="0.4" transform="rotate(-45 360.3 395)">GND</text><text x="342.2" y="440" font-size="13" text-anchor="middle" dominant-baseline="central" fill="#c9c11f" stroke="#c9c11f" stroke-width="0.4" transform="rotate(-90 342.2 440)">GND</text><text x="290" y="428" font-size="18" text-anchor="middle" dominant-baseline="central" fill="#c9c11f" stroke="#c9c11f" stroke-width="0.9" transform="rotate(-90 290 428)">5</text><text x="305" y="428" font-size="4.5" text-anchor="middle" dominant-baseline="central" fill="#c9c11f" stroke="#c9c11f" stroke-width="0.1" transform="rotate(-90 305 428)">+3.8V_DAC_AVDD</text><text x="388.3" y="427" font-size="32" text-anchor="middle" dominant-baseline="central" fill="#c9c11f" stroke="#c9c11f" stroke-width="1.6" transform="rotate(-90 388.3 427)">4</text><text x="224" y="445" font-size="18" text-anchor="middle" dominant-baseline="central" fill="#c9c11f" stroke="#c9c11f" stroke-width="0.9">2</text><text x="224" y="464.5" font-size="12.5" text-anchor="middle" dominant-baseline="central" fill="#c9c11f" stroke="#c9c11f" stroke-width="0.4">GND</text><text x="224" y="516" font-size="18" text-anchor="middle" dominant-baseline="central" fill="#c9c11f" stroke="#c9c11f" stroke-width="0.9">1</text><text x="224" y="535.5" font-size="6" text-anchor="middle" dominant-baseline="central" fill="#c9c11f" stroke="#c9c11f" stroke-width="0.2">+3.8V_UZ</text><text x="266" y="472" font-size="13" text-anchor="middle" dominant-baseline="central" fill="#c9c11f" stroke="#c9c11f" stroke-width="0.4" transform="rotate(45 266 472)">GND</text><text x="298" y="490.5" font-size="10.5" text-anchor="middle" dominant-baseline="central" fill="#c9c11f" stroke="#c9c11f" stroke-width="0.3">GND</text><text x="327" y="506" font-size="13" text-anchor="middle" dominant-baseline="central" fill="#c9c11f" stroke="#c9c11f" stroke-width="0.4" transform="rotate(45 327 506)">GND</text><text x="290.5" y="551.8" font-size="18" text-anchor="middle" dominant-baseline="central" fill="#c9c11f" stroke="#c9c11f" stroke-width="0.9" transform="rotate(-90 290.5 551.8)">1</text><text x="305.8" y="551.8" font-size="8.5" text-anchor="middle" dominant-baseline="central" fill="#c9c11f" stroke="#c9c11f" stroke-width="0.3" transform="rotate(-90 305.8 551.8)">+3.8V_UZ</text><text x="335.8" y="551.8" font-size="18" text-anchor="middle" dominant-baseline="central" fill="#c9c11f" stroke="#c9c11f" stroke-width="0.9" transform="rotate(-90 335.8 551.8)">2</text><text x="350.2" y="551.8" font-size="15" text-anchor="middle" dominant-baseline="central" fill="#c9c11f" stroke="#c9c11f" stroke-width="0.8" transform="rotate(-90 350.2 551.8)">GND</text><text x="381.3" y="551.8" font-size="18" text-anchor="middle" dominant-baseline="central" fill="#c9c11f" stroke="#c9c11f" stroke-width="0.9" transform="rotate(-90 381.3 551.8)">3</text><text x="395.3" y="551.8" font-size="5.2" text-anchor="middle" dominant-baseline="central" fill="#c9c11f" stroke="#c9c11f" stroke-width="0.2" transform="rotate(-90 395.3 551.8)">DAC_PWR_HEN</text><text x="264" y="541" font-size="6" text-anchor="middle" dominant-baseline="central" fill="#c9c11f" stroke="#c9c11f" stroke-width="0.2" transform="rotate(45 264 541)">+3.8V_UZ</text><text x="205" y="589" font-size="9" text-anchor="middle" dominant-baseline="central" fill="#c9c11f" stroke="#c9c11f" stroke-width="0.3" transform="rotate(-45 205 589)">+3.8V_UZ</text><text x="341" y="608.7" font-size="4.5" text-anchor="middle" dominant-baseline="central" fill="#c9c11f" stroke="#c9c11f" stroke-width="0.1">DAC_PWR_HEN</text><text x="376" y="595" font-size="4.5" text-anchor="middle" dominant-baseline="central" fill="#c9c11f" stroke="#c9c11f" stroke-width="0.1" transform="rotate(-45 376 595)">DAC_PWR_HEN</text><text x="301" y="655.5" font-size="34.5" text-anchor="middle" dominant-baseline="central" fill="#c9c11f" stroke="#c9c11f" stroke-width="1.9" textLength="173" lengthAdjust="spacingAndGlyphs">+3.8V_UZ</text><text x="444" y="627" font-size="12.5" text-anchor="middle" dominant-baseline="central" fill="#c9c11f" stroke="#c9c11f" stroke-width="0.6" transform="rotate(-45 444 627)">+3.8V_UZ</text><text x="526" y="598.5" font-size="16" text-anchor="middle" dominant-baseline="central" fill="#c9c11f" stroke="#c9c11f" stroke-width="0.9">+3.8V_UZ</text><text x="586" y="600" font-size="5.5" text-anchor="middle" dominant-baseline="central" fill="#c9c11f" stroke="#c9c11f" stroke-width="0.2" transform="rotate(55 586 600)">+3.8V_UZ</text><text x="607" y="568" font-size="5.5" text-anchor="middle" dominant-baseline="central" fill="#c9c11f" stroke="#c9c11f" stroke-width="0.2" transform="rotate(-45 607 568)">+3.8V_UZ</text><text x="748" y="26" font-size="35" text-anchor="middle" dominant-baseline="central" fill="#c9c11f" stroke="#c9c11f" stroke-width="1.8">1</text><text x="962" y="35" font-size="9.6" text-anchor="middle" dominant-baseline="central" fill="#c9c11f" stroke="#c9c11f" stroke-width="0.3">BBQ+</text><text x="890" y="30" font-size="12" text-anchor="middle" dominant-baseline="central" fill="#c9c11f" stroke="#c9c11f" stroke-width="0.4" transform="rotate(-90 890 30)">B</text><text x="747.5" y="97.7" font-size="35" text-anchor="middle" dominant-baseline="central" fill="#c9c11f" stroke="#c9c11f" stroke-width="1.8">2</text><text x="819.2" y="89" font-size="17" text-anchor="middle" dominant-baseline="central" fill="#c9c11f" stroke="#c9c11f" stroke-width="0.9">1</text><text x="819.2" y="106.5" font-size="12" text-anchor="middle" dominant-baseline="central" fill="#c9c11f" stroke="#c9c11f" stroke-width="0.4">GND</text><text x="890.3" y="89" font-size="17" text-anchor="middle" dominant-baseline="central" fill="#c9c11f" stroke="#c9c11f" stroke-width="0.9">1</text><text x="890.3" y="106.5" font-size="12" text-anchor="middle" dominant-baseline="central" fill="#c9c11f" stroke="#c9c11f" stroke-width="0.4">GND</text><text x="962.3" y="89" font-size="17" text-anchor="middle" dominant-baseline="central" fill="#c9c11f" stroke="#c9c11f" stroke-width="0.9">2</text><text x="962.3" y="106.5" font-size="9.6" text-anchor="middle" dominant-baseline="central" fill="#c9c11f" stroke="#c9c11f" stroke-width="0.3">BBQ+</text><text x="747.5" y="168.5" font-size="35" text-anchor="middle" dominant-baseline="central" fill="#c9c11f" stroke="#c9c11f" stroke-width="1.8">1</text><text x="819.2" y="159.8" font-size="17" text-anchor="middle" dominant-baseline="central" fill="#c9c11f" stroke="#c9c11f" stroke-width="0.9">2</text><text x="819.2" y="177.3" font-size="12" text-anchor="middle" dominant-baseline="central" fill="#c9c11f" stroke="#c9c11f" stroke-width="0.4">GND</text><text x="890.3" y="159.8" font-size="17" text-anchor="middle" dominant-baseline="central" fill="#c9c11f" stroke="#c9c11f" stroke-width="0.9">2</text><text x="890.3" y="177.3" font-size="12" text-anchor="middle" dominant-baseline="central" fill="#c9c11f" stroke="#c9c11f" stroke-width="0.4">GND</text><text x="962.3" y="159.8" font-size="17" text-anchor="middle" dominant-baseline="central" fill="#c9c11f" stroke="#c9c11f" stroke-width="0.9">1</text><text x="962.3" y="177.3" font-size="10.5" text-anchor="middle" dominant-baseline="central" fill="#c9c11f" stroke="#c9c11f" stroke-width="0.3">BBI+</text><text x="747.5" y="383.4" font-size="35" text-anchor="middle" dominant-baseline="central" fill="#c9c11f" stroke="#c9c11f" stroke-width="1.8">2</text><text x="819.2" y="374.7" font-size="17" text-anchor="middle" dominant-baseline="central" fill="#c9c11f" stroke="#c9c11f" stroke-width="0.9">1</text><text x="819.2" y="392.2" font-size="12" text-anchor="middle" dominant-baseline="central" fill="#c9c11f" stroke="#c9c11f" stroke-width="0.4">GND</text><text x="890.3" y="374.7" font-size="17" text-anchor="middle" dominant-baseline="central" fill="#c9c11f" stroke="#c9c11f" stroke-width="0.9">1</text><text x="890.3" y="392.2" font-size="12" text-anchor="middle" dominant-baseline="central" fill="#c9c11f" stroke="#c9c11f" stroke-width="0.4">GND</text><text x="962.3" y="374.7" font-size="17" text-anchor="middle" dominant-baseline="central" fill="#c9c11f" stroke="#c9c11f" stroke-width="0.9">2</text><text x="962.3" y="392.2" font-size="10.5" text-anchor="middle" dominant-baseline="central" fill="#c9c11f" stroke="#c9c11f" stroke-width="0.3">BBI-</text><text x="748" y="240" font-size="35" text-anchor="middle" dominant-baseline="central" fill="#c9c11f" stroke="#c9c11f" stroke-width="1.8">1</text><text x="748" y="312" font-size="35" text-anchor="middle" dominant-baseline="central" fill="#c9c11f" stroke="#c9c11f" stroke-width="1.8">2</text><text x="823" y="240.3" font-size="35" text-anchor="middle" dominant-baseline="central" fill="#c9c11f" stroke="#c9c11f" stroke-width="1.8" transform="rotate(-90 823 240.3)">1</text><text x="880" y="240.3" font-size="17" text-anchor="middle" dominant-baseline="central" fill="#c9c11f" stroke="#c9c11f" stroke-width="0.9" transform="rotate(-90 880 240.3)">2</text><text x="894" y="240.3" font-size="12.3" text-anchor="middle" dominant-baseline="central" fill="#c9c11f" stroke="#c9c11f" stroke-width="0.4" transform="rotate(-90 894 240.3)">BBI+</text><text x="823" y="311.5" font-size="35" text-anchor="middle" dominant-baseline="central" fill="#c9c11f" stroke="#c9c11f" stroke-width="1.8" transform="rotate(-90 823 311.5)">2</text><text x="880" y="311.5" font-size="17" text-anchor="middle" dominant-baseline="central" fill="#c9c11f" stroke="#c9c11f" stroke-width="0.9" transform="rotate(-90 880 311.5)">1</text><text x="894" y="311.5" font-size="12.3" text-anchor="middle" dominant-baseline="central" fill="#c9c11f" stroke="#c9c11f" stroke-width="0.4" transform="rotate(-90 894 311.5)">BBI-</text><text x="962" y="230.5" font-size="17" text-anchor="middle" dominant-baseline="central" fill="#c9c11f" stroke="#c9c11f" stroke-width="0.9">1</text><text x="962" y="249.5" font-size="11" text-anchor="middle" dominant-baseline="central" fill="#c9c11f" stroke="#c9c11f" stroke-width="0.3">BBI+</text><text x="962" y="302" font-size="17" text-anchor="middle" dominant-baseline="central" fill="#c9c11f" stroke="#c9c11f" stroke-width="0.9">2</text><text x="962" y="321" font-size="11" text-anchor="middle" dominant-baseline="central" fill="#c9c11f" stroke="#c9c11f" stroke-width="0.3">BBI-</text><text x="1062.9" y="168.8" font-size="13" text-anchor="middle" dominant-baseline="central" fill="#c9c11f" stroke="#c9c11f" stroke-width="0.4" transform="rotate(-90 1062.9 168.8)">2</text><text x="1075.9" y="168.8" font-size="11" text-anchor="middle" dominant-baseline="central" fill="#c9c11f" stroke="#c9c11f" stroke-width="0.3" transform="rotate(-90 1075.9 168.8)">BBI-</text><text x="1134.2" y="168.8" font-size="13" text-anchor="middle" dominant-baseline="central" fill="#c9c11f" stroke="#c9c11f" stroke-width="0.4" transform="rotate(-90 1134.2 168.8)">1</text><text x="1147.2" y="168.8" font-size="11" text-anchor="middle" dominant-baseline="central" fill="#c9c11f" stroke="#c9c11f" stroke-width="0.3" transform="rotate(-90 1147.2 168.8)">BBI+</text><text x="1205.5" y="168.8" font-size="13" text-anchor="middle" dominant-baseline="central" fill="#c9c11f" stroke="#c9c11f" stroke-width="0.4" transform="rotate(-90 1205.5 168.8)">1</text><text x="1218.5" y="168.8" font-size="10.1" text-anchor="middle" dominant-baseline="central" fill="#c9c11f" stroke="#c9c11f" stroke-width="0.3" transform="rotate(-90 1218.5 168.8)">BBQ+</text><text x="1069.4" y="222.7" font-size="13" text-anchor="middle" dominant-baseline="central" fill="#c9c11f" stroke="#c9c11f" stroke-width="0.4">2</text><text x="1069.4" y="234.3" font-size="11.3" text-anchor="middle" dominant-baseline="central" fill="#c9c11f" stroke="#c9c11f" stroke-width="0.3">BBI-</text><text x="1069.4" y="300" font-size="21" text-anchor="middle" dominant-baseline="central" fill="#c9c11f" stroke="#c9c11f" stroke-width="1.1">1</text><text x="1140.7" y="222.7" font-size="13" text-anchor="middle" dominant-baseline="central" fill="#c9c11f" stroke="#c9c11f" stroke-width="0.4">2</text><text x="1140.7" y="234.3" font-size="11.3" text-anchor="middle" dominant-baseline="central" fill="#c9c11f" stroke="#c9c11f" stroke-width="0.3">BBI+</text><text x="1140.7" y="300" font-size="21" text-anchor="middle" dominant-baseline="central" fill="#c9c11f" stroke="#c9c11f" stroke-width="1.1">1</text><text x="1212" y="222.7" font-size="13" text-anchor="middle" dominant-baseline="central" fill="#c9c11f" stroke="#c9c11f" stroke-width="0.4">2</text><text x="1212" y="234.3" font-size="10.4" text-anchor="middle" dominant-baseline="central" fill="#c9c11f" stroke="#c9c11f" stroke-width="0.3">BBQ+</text><text x="1212" y="300" font-size="21" text-anchor="middle" dominant-baseline="central" fill="#c9c11f" stroke="#c9c11f" stroke-width="1.1">1</text><text x="1069" y="359" font-size="21" text-anchor="middle" dominant-baseline="central" fill="#c9c11f" stroke="#c9c11f" stroke-width="1.1" transform="rotate(-90 1069 359)">2</text><text x="1140.6" y="359" font-size="21" text-anchor="middle" dominant-baseline="central" fill="#c9c11f" stroke="#c9c11f" stroke-width="1.1" transform="rotate(-90 1140.6 359)">1</text><text x="1212" y="359" font-size="21" text-anchor="middle" dominant-baseline="central" fill="#c9c11f" stroke="#c9c11f" stroke-width="1.1" transform="rotate(-90 1212 359)">1</text><text x="1110" y="490" font-size="22" text-anchor="middle" dominant-baseline="central" fill="#c9c11f" stroke="#c9c11f" stroke-width="1.1" transform="rotate(-90 1110 490)">2</text><text x="1155" y="490" font-size="22" text-anchor="middle" dominant-baseline="central" fill="#c9c11f" stroke="#c9c11f" stroke-width="1.1" transform="rotate(-90 1155 490)">1</text><text x="1197" y="490" font-size="22" text-anchor="middle" dominant-baseline="central" fill="#c9c11f" stroke="#c9c11f" stroke-width="1.1" transform="rotate(-90 1197 490)">1</text><text x="1242" y="490" font-size="22" text-anchor="middle" dominant-baseline="central" fill="#c9c11f" stroke="#c9c11f" stroke-width="1.1" transform="rotate(-90 1242 490)">2</text><text x="1088.5" y="578" font-size="6.5" text-anchor="middle" dominant-baseline="central" fill="#c9c11f" stroke="#c9c11f" stroke-width="0.2" transform="rotate(-90 1088.5 578)">16</text><text x="1097.3" y="578" font-size="4.6" text-anchor="middle" dominant-baseline="central" fill="#c9c11f" stroke="#c9c11f" stroke-width="0.1" transform="rotate(-90 1097.3 578)">UC_PWDN</text><text x="1112.3" y="578" font-size="6.5" text-anchor="middle" dominant-baseline="central" fill="#c9c11f" stroke="#c9c11f" stroke-width="0.2" transform="rotate(-90 1112.3 578)">15</text><text x="1121.1" y="578" font-size="5.5" text-anchor="middle" dominant-baseline="central" fill="#c9c11f" stroke="#c9c11f" stroke-width="0.2" transform="rotate(-90 1121.1 578)">+3.3V_UC</text><text x="1140.4" y="578" font-size="15.5" text-anchor="middle" dominant-baseline="central" fill="#c9c11f" stroke="#c9c11f" stroke-width="0.8" transform="rotate(-90 1140.4 578)">14</text><text x="1164.2" y="578" font-size="15.5" text-anchor="middle" dominant-baseline="central" fill="#c9c11f" stroke="#c9c11f" stroke-width="0.8" transform="rotate(-90 1164.2 578)">13</text><text x="1188" y="578" font-size="15.5" text-anchor="middle" dominant-baseline="central" fill="#c9c11f" stroke="#c9c11f" stroke-width="0.8" transform="rotate(-90 1188 578)">12</text><text x="1211.8" y="578" font-size="15.5" text-anchor="middle" dominant-baseline="central" fill="#c9c11f" stroke="#c9c11f" stroke-width="0.8" transform="rotate(-90 1211.8 578)">11</text><text x="1231.3" y="578" font-size="6.5" text-anchor="middle" dominant-baseline="central" fill="#c9c11f" stroke="#c9c11f" stroke-width="0.2" transform="rotate(-90 1231.3 578)">10</text><text x="1240.1" y="578" font-size="5" text-anchor="middle" dominant-baseline="central" fill="#c9c11f" stroke="#c9c11f" stroke-width="0.1" transform="rotate(-90 1240.1 578)">UC_VATT</text><text x="1059" y="604.7" font-size="6.5" text-anchor="middle" dominant-baseline="central" fill="#c9c11f" stroke="#c9c11f" stroke-width="0.2">17</text><text x="1061" y="613.3" font-size="6.5" text-anchor="middle" dominant-baseline="central" fill="#c9c11f" stroke="#c9c11f" stroke-width="0.2">UC_RST</text><text x="1060" y="633" font-size="13.5" text-anchor="middle" dominant-baseline="central" fill="#c9c11f" stroke="#c9c11f" stroke-width="0.4">18</text><text x="1058" y="652.5" font-size="6.5" text-anchor="middle" dominant-baseline="central" fill="#c9c11f" stroke="#c9c11f" stroke-width="0.2">19</text><text x="1058" y="661" font-size="6.5" text-anchor="middle" dominant-baseline="central" fill="#c9c11f" stroke="#c9c11f" stroke-width="0.2">GND</text><text x="1060" y="681" font-size="13.5" text-anchor="middle" dominant-baseline="central" fill="#c9c11f" stroke="#c9c11f" stroke-width="0.4">20</text><text x="1178.4" y="654" font-size="56" text-anchor="middle" dominant-baseline="central" fill="#c9c11f" stroke="#c9c11f" stroke-width="2.8" textLength="121" lengthAdjust="spacingAndGlyphs">PAD</text><text x="1059" y="50" font-size="8.5" text-anchor="middle" dominant-baseline="central" fill="#c9c11f" stroke="#c9c11f" stroke-width="0.3">BBI+</text><text x="1059.8" y="66" font-size="8.5" text-anchor="middle" dominant-baseline="central" fill="#c9c11f" stroke="#c9c11f" stroke-width="0.3">BBI-</text><text x="1020" y="64.5" font-size="8.5" text-anchor="middle" dominant-baseline="central" fill="#c9c11f" stroke="#c9c11f" stroke-width="0.3" transform="rotate(-45 1020 64.5)">BBI+</text><text x="1032.2" y="75.5" font-size="8.5" text-anchor="middle" dominant-baseline="central" fill="#c9c11f" stroke="#c9c11f" stroke-width="0.3" transform="rotate(-45 1032.2 75.5)">BBI-</text><text x="1098.8" y="64.5" font-size="8.5" text-anchor="middle" dominant-baseline="central" fill="#c9c11f" stroke="#c9c11f" stroke-width="0.3" transform="rotate(45 1098.8 64.5)">BBI+</text><text x="1086.8" y="75.5" font-size="8.5" text-anchor="middle" dominant-baseline="central" fill="#c9c11f" stroke="#c9c11f" stroke-width="0.3" transform="rotate(45 1086.8 75.5)">BBI-</text><text x="1113.3" y="110" font-size="8.5" text-anchor="middle" dominant-baseline="central" fill="#c9c11f" stroke="#c9c11f" stroke-width="0.3" transform="rotate(-90 1113.3 110)">BBI+</text><text x="1096.3" y="113" font-size="8.5" text-anchor="middle" dominant-baseline="central" fill="#c9c11f" stroke="#c9c11f" stroke-width="0.3" transform="rotate(-90 1096.3 113)">BBI-</text><text x="1005.8" y="166" font-size="8.5" text-anchor="middle" dominant-baseline="central" fill="#c9c11f" stroke="#c9c11f" stroke-width="0.3" transform="rotate(-90 1005.8 166)">BBI+</text><text x="1022.2" y="172" font-size="8.5" text-anchor="middle" dominant-baseline="central" fill="#c9c11f" stroke="#c9c11f" stroke-width="0.3" transform="rotate(-90 1022.2 172)">BBI-</text><text x="1239.3" y="91" font-size="8.5" text-anchor="middle" dominant-baseline="central" fill="#c9c11f" stroke="#c9c11f" stroke-width="0.3" transform="rotate(-90 1239.3 91)">BBQ+</text><text x="1003" y="264" font-size="4" text-anchor="middle" dominant-baseline="central" fill="#c9c11f" stroke="#c9c11f" stroke-width="0.1" transform="rotate(-45 1003 264)">BBI+</text><text x="996" y="284.4" font-size="4.5" text-anchor="middle" dominant-baseline="central" fill="#c9c11f" stroke="#c9c11f" stroke-width="0.1">BBI-</text><text x="1013" y="274" font-size="7.5" text-anchor="middle" dominant-baseline="central" fill="#c9c11f" stroke="#c9c11f" stroke-width="0.2" transform="rotate(-45 1013 274)">BBI-</text><text x="995" y="267.5" font-size="4" text-anchor="middle" dominant-baseline="central" fill="#c9c11f" stroke="#c9c11f" stroke-width="0.1">BBI+</text><text x="1009.5" y="523" font-size="10.5" text-anchor="middle" dominant-baseline="central" fill="#c9c11f" stroke="#c9c11f" stroke-width="0.3" transform="rotate(-90 1009.5 523)">UC_RST</text><text x="1057" y="508" font-size="8.5" text-anchor="middle" dominant-baseline="central" fill="#c9c11f" stroke="#c9c11f" stroke-width="0.3" transform="rotate(-90 1057 508)">UC_PWDN</text><text x="1072" y="548" font-size="4.5" text-anchor="middle" dominant-baseline="central" fill="#c9c11f" stroke="#c9c11f" stroke-width="0.1" transform="rotate(45 1072 548)">UC_PWDN</text><text x="1106" y="541" font-size="5" text-anchor="middle" dominant-baseline="central" fill="#c9c11f" stroke="#c9c11f" stroke-width="0.1" transform="rotate(45 1106 541)">+3.3V_UC</text><text x="640.6" y="577" font-size="17" text-anchor="middle" dominant-baseline="central" fill="#c9c11f" stroke="#c9c11f" stroke-width="0.9">1</text><text x="640.6" y="594.3" font-size="5.5" text-anchor="middle" dominant-baseline="central" fill="#c9c11f" stroke="#c9c11f" stroke-width="0.2">+3.8V_UZ</text><text x="711.8" y="577" font-size="17" text-anchor="middle" dominant-baseline="central" fill="#c9c11f" stroke="#c9c11f" stroke-width="0.9">2</text><text x="711.8" y="594.5" font-size="12" text-anchor="middle" dominant-baseline="central" fill="#c9c11f" stroke="#c9c11f" stroke-width="0.4">GND</text><text x="695" y="626.2" font-size="12.5" text-anchor="middle" dominant-baseline="central" fill="#c9c11f" stroke="#c9c11f" stroke-width="0.4" transform="rotate(-45 695 626.2)">GND</text><text x="676.5" y="661" font-size="9" text-anchor="middle" dominant-baseline="central" fill="#c9c11f" stroke="#c9c11f" stroke-width="0.3" transform="rotate(-90 676.5 661)">GND</text><text x="614.6" y="652.5" font-size="13.5" text-anchor="middle" dominant-baseline="central" fill="#c9c11f" stroke="#c9c11f" stroke-width="0.4">1</text><text x="614.6" y="666.2" font-size="8.5" text-anchor="middle" dominant-baseline="central" fill="#c9c11f" stroke="#c9c11f" stroke-width="0.3">+3.8V_UZ</text><text x="738" y="652.5" font-size="13.5" text-anchor="middle" dominant-baseline="central" fill="#c9c11f" stroke="#c9c11f" stroke-width="0.4">5</text><text x="738" y="666.2" font-size="8.5" text-anchor="middle" dominant-baseline="central" fill="#c9c11f" stroke="#c9c11f" stroke-width="0.3">+1.8V_UC</text><text x="806.7" y="659" font-size="17" text-anchor="middle" dominant-baseline="central" fill="#c9c11f" stroke="#c9c11f" stroke-width="0.9">1</text><text x="806.7" y="677.8" font-size="5.5" text-anchor="middle" dominant-baseline="central" fill="#c9c11f" stroke="#c9c11f" stroke-width="0.2">+1.8V_UC</text><text x="627.3" y="626.2" font-size="5.5" text-anchor="middle" dominant-baseline="central" fill="#c9c11f" stroke="#c9c11f" stroke-width="0.2" transform="rotate(-45 627.3 626.2)">+3.8V_UZ</text><text x="890.2" y="596" font-size="17" text-anchor="middle" dominant-baseline="central" fill="#c9c11f" stroke="#c9c11f" stroke-width="0.9">2</text><text x="890.2" y="614" font-size="12" text-anchor="middle" dominant-baseline="central" fill="#c9c11f" stroke="#c9c11f" stroke-width="0.4">GND</text><text x="890.2" y="667" font-size="17" text-anchor="middle" dominant-baseline="central" fill="#c9c11f" stroke="#c9c11f" stroke-width="0.9">1</text><text x="925.6" y="597" font-size="10.5" text-anchor="middle" dominant-baseline="central" fill="#5c9ccc" stroke="#5c9ccc" stroke-width="0.3" transform="rotate(-90 925.6 597)">UC_MOSI</text><text x="950" y="598" font-size="10.5" text-anchor="middle" dominant-baseline="central" fill="#5c9ccc" stroke="#5c9ccc" stroke-width="0.3" transform="rotate(-90 950 598)">UC_SCK</text><text x="974" y="598" font-size="10.5" text-anchor="middle" dominant-baseline="central" fill="#5c9ccc" stroke="#5c9ccc" stroke-width="0.3" transform="rotate(-90 974 598)">UC_MISO</text><text x="902" y="589" font-size="8" text-anchor="middle" dominant-baseline="central" fill="#8a9a50" stroke="#8a9a50" stroke-width="0.2" transform="rotate(-90 902 589)">UC_CS</text><text x="465.7" y="684" font-size="9" text-anchor="middle" dominant-baseline="central" fill="#2f7cc4" transform="rotate(-90 465.7 684)">REFCLK+</text><text x="481.9" y="684" font-size="9" text-anchor="middle" dominant-baseline="central" fill="#2f7cc4" transform="rotate(-90 481.9 684)">REFCLK-</text><text x="1011" y="660" font-size="17" text-anchor="middle" dominant-baseline="central" fill="#5c9ccc" stroke="#5c9ccc" stroke-width="0.9">1</text><circle cx="390.3" cy="73.7" r="6.3" fill="none" stroke="#fff" stroke-width="1.7"/><path d="M385.8 78.2L394.8 69.2M385.8 69.2L394.8 78.2" stroke="#fff" stroke-width="0.9"/><circle cx="414.4" cy="133.2" r="6.3" fill="none" stroke="#fff" stroke-width="1.7"/><path d="M409.9 137.7L418.9 128.7M409.9 128.7L418.9 137.7" stroke="#fff" stroke-width="0.9"/><circle cx="224" cy="85.1" r="6.3" fill="none" stroke="#fff" stroke-width="1.7"/><path d="M219.5 89.6L228.5 80.6M219.5 80.6L228.5 89.6" stroke="#fff" stroke-width="0.9"/><circle cx="224" cy="121.1" r="6.3" fill="none" stroke="#fff" stroke-width="1.7"/><path d="M219.5 125.6L228.5 116.6M219.5 116.6L228.5 125.6" stroke="#fff" stroke-width="0.9"/><circle cx="212" cy="156.2" r="6.3" fill="none" stroke="#fff" stroke-width="1.7"/><path d="M207.5 160.7L216.5 151.7M207.5 151.7L216.5 160.7" stroke="#fff" stroke-width="0.9"/><circle cx="247.7" cy="181" r="6.3" fill="none" stroke="#fff" stroke-width="1.7"/><path d="M243.2 185.5L252.2 176.5M243.2 176.5L252.2 185.5" stroke="#fff" stroke-width="0.9"/><circle cx="378.7" cy="193" r="6.3" fill="none" stroke="#fff" stroke-width="1.7"/><path d="M374.2 197.5L383.2 188.5M374.2 188.5L383.2 197.5" stroke="#fff" stroke-width="0.9"/><circle cx="224" cy="275.8" r="6.3" fill="none" stroke="#fff" stroke-width="1.7"/><path d="M219.5 280.3L228.5 271.3M219.5 271.3L228.5 280.3" stroke="#fff" stroke-width="0.9"/><circle cx="354.9" cy="299.2" r="6.3" fill="none" stroke="#fff" stroke-width="1.7"/><path d="M350.4 303.7L359.4 294.7M350.4 294.7L359.4 303.7" stroke="#fff" stroke-width="0.9"/><circle cx="378.7" cy="323.5" r="6.3" fill="none" stroke="#fff" stroke-width="1.7"/><path d="M374.2 328L383.2 319M374.2 319L383.2 328" stroke="#fff" stroke-width="0.9"/><circle cx="259.7" cy="335.4" r="6.3" fill="none" stroke="#fff" stroke-width="1.7"/><path d="M255.2 339.9L264.2 330.9M255.2 330.9L264.2 339.9" stroke="#fff" stroke-width="0.9"/><circle cx="259.7" cy="359.1" r="6.3" fill="none" stroke="#fff" stroke-width="1.7"/><path d="M255.2 363.6L264.2 354.6M255.2 354.6L264.2 363.6" stroke="#fff" stroke-width="0.9"/><circle cx="259.7" cy="383.1" r="6.3" fill="none" stroke="#fff" stroke-width="1.7"/><path d="M255.2 387.6L264.2 378.6M255.2 378.6L264.2 387.6" stroke="#fff" stroke-width="0.9"/><circle cx="354.9" cy="478" r="6.3" fill="none" stroke="#fff" stroke-width="1.7"/><path d="M350.4 482.5L359.4 473.5M350.4 473.5L359.4 482.5" stroke="#fff" stroke-width="0.9"/><circle cx="390.3" cy="502" r="6.3" fill="none" stroke="#fff" stroke-width="1.7"/><path d="M385.8 506.5L394.8 497.5M385.8 497.5L394.8 506.5" stroke="#fff" stroke-width="0.9"/><circle cx="319.2" cy="608.7" r="6.3" fill="none" stroke="#fff" stroke-width="1.7"/><path d="M314.7 613.2L323.7 604.2M314.7 604.2L323.7 613.2" stroke="#fff" stroke-width="0.9"/><circle cx="533.3" cy="133.2" r="6.3" fill="none" stroke="#fff" stroke-width="1.7"/><path d="M528.8 137.7L537.8 128.7M528.8 128.7L537.8 137.7" stroke="#fff" stroke-width="0.9"/><circle cx="533.3" cy="406.7" r="6.3" fill="none" stroke="#fff" stroke-width="1.7"/><path d="M528.8 411.2L537.8 402.2M528.8 402.2L537.8 411.2" stroke="#fff" stroke-width="0.9"/><circle cx="533.3" cy="454.3" r="6.3" fill="none" stroke="#fff" stroke-width="1.7"/><path d="M528.8 458.8L537.8 449.8M528.8 449.8L537.8 458.8" stroke="#fff" stroke-width="0.9"/><circle cx="533.3" cy="502" r="6.3" fill="none" stroke="#fff" stroke-width="1.7"/><path d="M528.8 506.5L537.8 497.5M528.8 497.5L537.8 506.5" stroke="#fff" stroke-width="0.9"/><circle cx="533.3" cy="549.5" r="6.3" fill="none" stroke="#fff" stroke-width="1.7"/><path d="M528.8 554L537.8 545M528.8 545L537.8 554" stroke="#fff" stroke-width="0.9"/><circle cx="533.3" cy="645" r="6.3" fill="none" stroke="#fff" stroke-width="1.7"/><path d="M528.8 649.5L537.8 640.5M528.8 640.5L537.8 649.5" stroke="#fff" stroke-width="0.9"/><circle cx="592.7" cy="585.3" r="6.3" fill="none" stroke="#fff" stroke-width="1.7"/><path d="M588.2 589.8L597.2 580.8M588.2 580.8L597.2 589.8" stroke="#fff" stroke-width="0.9"/><circle cx="701" cy="275.8" r="6.3" fill="none" stroke="#fff" stroke-width="1.7"/><path d="M696.5 280.3L705.5 271.3M696.5 271.3L705.5 280.3" stroke="#fff" stroke-width="0.9"/><circle cx="854.7" cy="97.7" r="6.3" fill="none" stroke="#fff" stroke-width="1.7"/><path d="M850.2 102.2L859.2 93.2M850.2 93.2L859.2 102.2" stroke="#fff" stroke-width="0.9"/><circle cx="854.7" cy="168.5" r="6.3" fill="none" stroke="#fff" stroke-width="1.7"/><path d="M850.2 173L859.2 164M850.2 164L859.2 173" stroke="#fff" stroke-width="0.9"/><circle cx="854.7" cy="383.1" r="6.3" fill="none" stroke="#fff" stroke-width="1.7"/><path d="M850.2 387.6L859.2 378.6M850.2 378.6L859.2 387.6" stroke="#fff" stroke-width="0.9"/><circle cx="854.7" cy="604.5" r="6.3" fill="none" stroke="#fff" stroke-width="1.7"/><path d="M850.2 609L859.2 600M850.2 600L859.2 609" stroke="#fff" stroke-width="0.9"/><circle cx="1111" cy="33.5" r="6.3" fill="none" stroke="#fff" stroke-width="1.7"/><path d="M1106.5 38L1115.5 29M1106.5 29L1115.5 38" stroke="#fff" stroke-width="0.9"/><circle cx="1061.8" cy="430.6" r="6.3" fill="none" stroke="#fff" stroke-width="1.7"/><path d="M1057.3 435.1L1066.3 426.1M1057.3 426.1L1066.3 435.1" stroke="#fff" stroke-width="0.9"/><circle cx="1009.1" cy="490.1" r="6.3" fill="none" stroke="#fff" stroke-width="1.7"/><path d="M1004.6 494.6L1013.6 485.6M1004.6 485.6L1013.6 494.6" stroke="#fff" stroke-width="0.9"/><circle cx="1057" cy="478" r="6.3" fill="none" stroke="#fff" stroke-width="1.7"/><path d="M1052.5 482.5L1061.5 473.5M1052.5 473.5L1061.5 482.5" stroke="#fff" stroke-width="0.9"/><circle cx="1092.3" cy="525.8" r="6.3" fill="none" stroke="#fff" stroke-width="1.7"/><path d="M1087.8 530.3L1096.8 521.3M1087.8 521.3L1096.8 530.3" stroke="#fff" stroke-width="0.9"/><circle cx="1116.1" cy="632.8" r="6.3" fill="none" stroke="#fff" stroke-width="1.7"/><path d="M1111.6 637.3L1120.6 628.3M1111.6 628.3L1120.6 637.3" stroke="#fff" stroke-width="0.9"/><circle cx="1175.7" cy="632.8" r="6.3" fill="none" stroke="#fff" stroke-width="1.7"/><path d="M1171.2 637.3L1180.2 628.3M1171.2 628.3L1180.2 637.3" stroke="#fff" stroke-width="0.9"/><circle cx="1235.6" cy="632.8" r="6.3" fill="none" stroke="#fff" stroke-width="1.7"/><path d="M1231.1 637.3L1240.1 628.3M1231.1 628.3L1240.1 637.3" stroke="#fff" stroke-width="0.9"/><circle cx="1151.4" cy="668.8" r="6.3" fill="none" stroke="#fff" stroke-width="1.7"/><path d="M1146.9 673.3L1155.9 664.3M1146.9 664.3L1155.9 673.3" stroke="#fff" stroke-width="0.9"/><circle cx="1199" cy="668.8" r="6.3" fill="none" stroke="#fff" stroke-width="1.7"/><path d="M1194.5 673.3L1203.5 664.3M1194.5 664.3L1203.5 673.3" stroke="#fff" stroke-width="0.9"/></g>
<g stroke="#001030" stroke-width="3" fill="none"><path d="M708.0 466.7H739.0M723.5 451.2V482.2"/></g>
<g stroke="#00f000" stroke-width="1.2" fill="none"><path d="M708.0 466.7H739.0M723.5 451.2V482.2"/><rect x="720.0" y="463.2" width="7" height="7"/></g>
</svg>
<div id="hb">
<div id="title"><span class="tc" style="transform:scaleX(.797)">Board - Interactive Manipulator</span></div>
<div class="btn dis" style="left:6px;width:45px"><span class="tc" style="transform:scaleX(.78)">Save</span></div>
<div class="btn" style="left:58px;width:26px;border-radius:4px 0 0 4px"><svg width="14" height="14" viewBox="0 0 14 14" style="margin-top:6px"><path d="M5.5 2.5 L2 6 L5.5 9.5 V7 H8.5 C10.5 7 11 8.5 11 10 V11.5 H12.3 V9.5 C12.3 7 11 5 8.5 5 H5.5Z" fill="#9a9d9c"/></svg></div>
<div class="btn" style="left:85px;width:26px;border-radius:0 4px 4px 0"><svg width="14" height="14" viewBox="0 0 14 14" style="margin-top:6px"><path d="M8.5 2.5 L12 6 L8.5 9.5 V7 H5.5 C3.5 7 3 8.5 3 10 V11.5 H1.7 V9.5 C1.7 7 3 5 5.5 5 H8.5Z" fill="#9a9d9c"/></svg></div>
<div class="btn" style="left:118px;width:60px"><span class="tc">Rules...</span></div>
<div class="btn" style="left:185px;width:38px"><span class="tc">3D</span></div>
<div class="btn" style="left:924px;width:88px"><span class="tc">Reload netlist</span></div>
<div class="btn" style="left:1019px;width:91px"><span class="tc" style="transform:scaleX(.81)">Place package</span></div>
<div class="btn" style="left:1116px;width:26px"><svg width="10" height="10" viewBox="0 0 10 10" style="margin-top:8px"><path d="M1 1h8v2h-8zM1 4h8v2h-8zM1 7h8v2h-8z" fill="#2e3436"/></svg></div>
<svg style="position:absolute;left:1155px;top:8px" width="90" height="20" viewBox="0 0 90 20"><rect x="9" y="12" width="6" height="2" fill="#2e3436"/><rect x="41.3" y="7.3" width="3.6" height="3.6" fill="none" stroke="#2e3436" stroke-width="1.7"/><path d="M71 6.5 L77 12.5 M77 6.5 L71 12.5" stroke="#2e3436" stroke-width="2"/></svg>
</div>
<div id="side">
<div id="spin"><span class="v"><span class="t" style="transform:scaleX(.873)">0.250 mm</span></span><div class="b" style="left:91px">&#8722;</div><div class="b" style="left:119px;border-radius:0 4px 4px 0">+</div></div>
<span style="position:absolute;left:162px;top:14px;color:#6e7274"><span class="t">&#215;</span></span><span style="position:absolute;left:181px;top:14px;color:#6e7274"><span class="t">2</span></span>
<div id="lbox"><div id="tabs"><span style="position:absolute;left:15px;top:6px;color:#2e3436;-webkit-text-stroke:0.45px #2e3436"><span class="t" style="transform:scaleX(.86)">Layers</span></span><span style="position:absolute;left:71px;top:6px;color:#929595"><span class="t">Options</span></span><div style="position:absolute;left:6px;top:25px;width:49px;height:3px;background:#3584e4"></div></div>
<div id="list">
<div class="row" style="top:0.00px"><svg width="16" height="16" viewBox="0 0 16 16"><path d="M1.9 8 C4.2 3.9 11.8 3.9 14.1 8 C11.8 12.1 4.2 12.1 1.9 8Z" fill="#bcbcbc"/><circle cx="8" cy="8" r="2.15" fill="#fff"/><circle cx="8" cy="8" r="0.9" fill="#bcbcbc"/><path d="M1.8 13.9 L14.2 2.1" stroke="#bcbcbc" stroke-width="2" stroke-linecap="round"/></svg><span class="n"><span class="t">Top Notes</span></span></div>
<div class="row" style="top:17.17px"><svg width="16" height="16" viewBox="0 0 16 16"><path d="M1.9 8 C4.2 3.9 11.8 3.9 14.1 8 C11.8 12.1 4.2 12.1 1.9 8Z" fill="#1a1a1a"/><circle cx="8" cy="8" r="2.15" fill="#fff"/><circle cx="8" cy="8" r="0.9" fill="#1a1a1a"/></svg><div class="sw" style="background:#000;border-color:#8e8c00"></div><span class="n"><span class="t">Outline</span></span></div>
<div class="row" style="top:34.34px"><svg width="16" height="16" viewBox="0 0 16 16"><path d="M1.9 8 C4.2 3.9 11.8 3.9 14.1 8 C11.8 12.1 4.2 12.1 1.9 8Z" fill="#1a1a1a"/><circle cx="8" cy="8" r="2.15" fill="#fff"/><circle cx="8" cy="8" r="0.9" fill="#1a1a1a"/></svg><div class="sw" style="background:#000;border-color:#7a7a7a"></div><span class="n"><span class="t">Top Courtyard</span></span></div>
<div class="row" style="top:51.51px"><svg width="16" height="16" viewBox="0 0 16 16"><path d="M1.9 8 C4.2 3.9 11.8 3.9 14.1 8 C11.8 12.1 4.2 12.1 1.9 8Z" fill="#1a1a1a"/><circle cx="8" cy="8" r="2.15" fill="#fff"/><circle cx="8" cy="8" r="0.9" fill="#1a1a1a"/></svg><div class="sw" style="background:#000;border-color:#7a7a7a"></div><span class="n"><span class="t">Top Assembly</span></span></div>
<div class="row" style="top:68.68px"><svg width="16" height="16" viewBox="0 0 16 16"><path d="M1.9 8 C4.2 3.9 11.8 3.9 14.1 8 C11.8 12.1 4.2 12.1 1.9 8Z" fill="#1a1a1a"/><circle cx="8" cy="8" r="2.15" fill="#fff"/><circle cx="8" cy="8" r="0.9" fill="#1a1a1a"/></svg><div class="sw" style="background:#000;border-color:#7a7a7a"></div><span class="n"><span class="t">Top Package</span></span></div>
<div class="row" style="top:85.85px"><svg width="16" height="16" viewBox="0 0 16 16"><path d="M1.9 8 C4.2 3.9 11.8 3.9 14.1 8 C11.8 12.1 4.2 12.1 1.9 8Z" fill="#bcbcbc"/><circle cx="8" cy="8" r="2.15" fill="#fff"/><circle cx="8" cy="8" r="0.9" fill="#bcbcbc"/><path d="M1.8 13.9 L14.2 2.1" stroke="#bcbcbc" stroke-width="2" stroke-linecap="round"/></svg><div class="sw" style="background:#c8c8c8;border-color:#c8c8c8"></div><span class="n"><span class="t">Top Paste</span></span></div>
<div class="row" style="top:103.02px"><svg width="16" height="16" viewBox="0 0 16 16"><path d="M1.9 8 C4.2 3.9 11.8 3.9 14.1 8 C11.8 12.1 4.2 12.1 1.9 8Z" fill="#bcbcbc"/><circle cx="8" cy="8" r="2.15" fill="#fff"/><circle cx="8" cy="8" r="0.9" fill="#bcbcbc"/><path d="M1.8 13.9 L14.2 2.1" stroke="#bcbcbc" stroke-width="2" stroke-linecap="round"/></svg><div class="sw" style="background:#e4e4e4;border-color:#000"></div><span class="n"><span class="t">Top Silkscreen</span></span></div>
<div class="row" style="top:120.19px"><svg width="16" height="16" viewBox="0 0 16 16"><path d="M1.9 8 C4.2 3.9 11.8 3.9 14.1 8 C11.8 12.1 4.2 12.1 1.9 8Z" fill="#1a1a1a"/><circle cx="8" cy="8" r="2.15" fill="#fff"/><circle cx="8" cy="8" r="0.9" fill="#1a1a1a"/></svg><div class="sw" style="background:#000;border-color:#d46a6a"></div><span class="n"><span class="t">Top Mask</span></span></div>
<div class="row sel" style="top:137.36px"><svg width="16" height="16" viewBox="0 0 16 16"><path d="M1.9 8 C4.2 3.9 11.8 3.9 14.1 8 C11.8 12.1 4.2 12.1 1.9 8Z" fill="#fff"/><circle cx="8" cy="8" r="2.15" fill="#3584e4"/><circle cx="8" cy="8" r="0.9" fill="#fff"/></svg><div class="sw" style="background:#ff0000;border-color:#ff0000"></div><span class="n"><span class="t">Top Copper</span></span></div>
<div class="row" style="top:154.53px"><svg width="16" height="16" viewBox="0 0 16 16"><path d="M1.9 8 C4.2 3.9 11.8 3.9 14.1 8 C11.8 12.1 4.2 12.1 1.9 8Z" fill="#1a1a1a"/><circle cx="8" cy="8" r="2.15" fill="#fff"/><circle cx="8" cy="8" r="0.9" fill="#1a1a1a"/></svg><div class="sw" style="background:#000;border-color:#00e000"></div><span class="n"><span class="t">Inner 1</span></span></div>
<div class="row" style="top:171.70px"><svg width="16" height="16" viewBox="0 0 16 16"><path d="M1.9 8 C4.2 3.9 11.8 3.9 14.1 8 C11.8 12.1 4.2 12.1 1.9 8Z" fill="#1a1a1a"/><circle cx="8" cy="8" r="2.15" fill="#fff"/><circle cx="8" cy="8" r="0.9" fill="#1a1a1a"/></svg><div class="sw" style="background:#0064ff;border-color:#0064ff"></div><span class="n"><span class="t">Inner 2</span></span></div>
<div class="row" style="top:188.87px"><svg width="16" height="16" viewBox="0 0 16 16"><path d="M1.9 8 C4.2 3.9 11.8 3.9 14.1 8 C11.8 12.1 4.2 12.1 1.9 8Z" fill="#1a1a1a"/><circle cx="8" cy="8" r="2.15" fill="#fff"/><circle cx="8" cy="8" r="0.9" fill="#1a1a1a"/></svg><div class="sw" style="background:#007f00;border-color:#007f00"></div><span class="n"><span class="t">Bottom Copper</span></span></div>
<div class="row" style="top:206.04px"><svg width="16" height="16" viewBox="0 0 16 16"><path d="M1.9 8 C4.2 3.9 11.8 3.9 14.1 8 C11.8 12.1 4.2 12.1 1.9 8Z" fill="#bcbcbc"/><circle cx="8" cy="8" r="2.15" fill="#fff"/><circle cx="8" cy="8" r="0.9" fill="#bcbcbc"/><path d="M1.8 13.9 L14.2 2.1" stroke="#bcbcbc" stroke-width="2" stroke-linecap="round"/></svg><div class="sw" style="background:#000;border-color:#2e6a2e"></div><span class="n"><span class="t">Bottom Mask</span></span></div>
<div class="row" style="top:223.21px"><svg width="16" height="16" viewBox="0 0 16 16"><path d="M1.9 8 C4.2 3.9 11.8 3.9 14.1 8 C11.8 12.1 4.2 12.1 1.9 8Z" fill="#bcbcbc"/><circle cx="8" cy="8" r="2.15" fill="#fff"/><circle cx="8" cy="8" r="0.9" fill="#bcbcbc"/><path d="M1.8 13.9 L14.2 2.1" stroke="#bcbcbc" stroke-width="2" stroke-linecap="round"/></svg><div class="sw" style="background:#e4e4e4;border-color:#000"></div><span class="n"><span class="t">Bottom Silkscreen</span></span></div>
<div class="row" style="top:240.38px"><svg width="16" height="16" viewBox="0 0 16 16"><path d="M1.9 8 C4.2 3.9 11.8 3.9 14.1 8 C11.8 12.1 4.2 12.1 1.9 8Z" fill="#bcbcbc"/><circle cx="8" cy="8" r="2.15" fill="#fff"/><circle cx="8" cy="8" r="0.9" fill="#bcbcbc"/><path d="M1.8 13.9 L14.2 2.1" stroke="#bcbcbc" stroke-width="2" stroke-linecap="round"/></svg><div class="sw" style="background:#c8c8c8;border-color:#c8c8c8"></div><span class="n"><span class="t">Bottom Paste</span></span></div>
<div class="row" style="top:257.55px"><svg width="16" height="16" viewBox="0 0 16 16"><path d="M1.9 8 C4.2 3.9 11.8 3.9 14.1 8 C11.8 12.1 4.2 12.1 1.9 8Z" fill="#1a1a1a"/><circle cx="8" cy="8" r="2.15" fill="#fff"/><circle cx="8" cy="8" r="0.9" fill="#1a1a1a"/></svg><div class="sw" style="background:#000;border-color:#7a7a7a"></div><span class="n"><span class="t">Bottom Package</span></span></div>
<div class="row" style="top:274.72px"><svg width="16" height="16" viewBox="0 0 16 16"><path d="M1.9 8 C4.2 3.9 11.8 3.9 14.1 8 C11.8 12.1 4.2 12.1 1.9 8Z" fill="#1a1a1a"/><circle cx="8" cy="8" r="2.15" fill="#fff"/><circle cx="8" cy="8" r="0.9" fill="#1a1a1a"/></svg><div class="sw" style="background:#000;border-color:#7a7a7a"></div><span class="n"><span class="t">Bottom Assembly</span></span></div>
<div class="row" style="top:291.89px"><svg width="16" height="16" viewBox="0 0 16 16"><path d="M1.9 8 C4.2 3.9 11.8 3.9 14.1 8 C11.8 12.1 4.2 12.1 1.9 8Z" fill="#1a1a1a"/><circle cx="8" cy="8" r="2.15" fill="#fff"/><circle cx="8" cy="8" r="0.9" fill="#1a1a1a"/></svg><div class="sw" style="background:#000;border-color:#7a7a7a"></div><span class="n"><span class="t">Bottom Courtyard</span></span></div>
<div class="row" style="top:309.06px"><svg width="16" height="16" viewBox="0 0 16 16"><path d="M1.9 8 C4.2 3.9 11.8 3.9 14.1 8 C11.8 12.1 4.2 12.1 1.9 8Z" fill="#bcbcbc"/><circle cx="8" cy="8" r="2.15" fill="#fff"/><circle cx="8" cy="8" r="0.9" fill="#bcbcbc"/><path d="M1.8 13.9 L14.2 2.1" stroke="#bcbcbc" stroke-width="2" stroke-linecap="round"/></svg><span class="n"><span class="t">Bottom Notes</span></span></div>
</div>
<span style="position:absolute;left:15px;top:364px;color:#929595"><span class="t">Layer Opacity</span></span><span style="position:absolute;left:86px;top:364px;color:#929595"><span class="t">60</span></span>
<div style="position:absolute;left:107px;top:369px;width:59px;height:3px;border-radius:2px;background:#cfcac5"></div><div style="position:absolute;left:107px;top:369px;width:30px;height:3px;border-radius:2px;background:#3584e4"></div><div style="position:absolute;left:131px;top:362px;width:15px;height:15px;border-radius:9px;border:1px solid #bfb8b1;background:#f9f8f7"></div>
<span style="position:absolute;left:6px;top:394px;color:#929595"><span class="t">Highlight mode</span></span>
<div class="btn" style="left:81px;top:387px;width:91px;height:25px;text-align:left"><span style="position:absolute;left:9px"><span class="t">Dim other</span></span><svg style="position:absolute;left:74px;top:10px" width="9" height="6"><path d="M0 0.5h8.5L4.25 5z" fill="#2e3436"/></svg></div>
</div></div>
<div id="status"><span style="left:27px"><span class="t" style="transform:scaleX(.813)">Selection (Box, include origin)</span></span><svg style="position:absolute;left:165px;top:8px" width="9" height="6"><path d="M0 5h8.5L4.25 0.5z" fill="#2e3436"/></svg><span style="left:221px"><span class="t" style="transform:scaleX(.82)">Click select</span></span><span style="left:335px"><span class="t" style="transform:scaleX(.874)">X:+064.000 mm Y:+031.750 mm</span></span><span style="left:531px"><span class="t">&gt;</span></span></div>
</body></html>
